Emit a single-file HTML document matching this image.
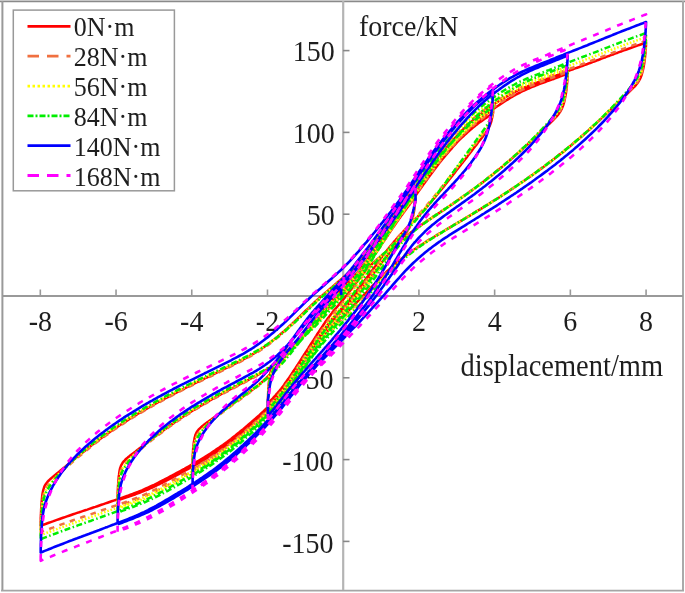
<!DOCTYPE html><html><head><meta charset="utf-8"><style>html,body{margin:0;padding:0;background:#fff;overflow:hidden}svg{display:block;will-change:transform;filter:blur(0.35px)}</style></head><body><svg width="685" height="593" viewBox="0 0 685 593">
<rect x="0" y="0" width="685" height="593" fill="#fff"/>
<line x1="0" y1="0.5" x2="685" y2="0.5" stroke="#dcdcdc" stroke-width="1"/>
<line x1="0" y1="1.6" x2="685" y2="1.6" stroke="#8a8a8a" stroke-width="1.5"/>
<line x1="2.4" y1="1" x2="2.4" y2="591" stroke="#999" stroke-width="2"/>
<line x1="683" y1="1" x2="683" y2="591" stroke="#aaa" stroke-width="2"/>
<line x1="1" y1="590.6" x2="684" y2="590.6" stroke="#a5a5a5" stroke-width="1.8"/>
<line x1="343.2" y1="1" x2="343.2" y2="590" stroke="#b4b4b4" stroke-width="2.2"/>
<line x1="2" y1="296" x2="683" y2="296" stroke="#999" stroke-width="2"/>
<line x1="40.32" y1="296" x2="40.32" y2="289.5" stroke="#999" stroke-width="1.6"/>
<line x1="116.04" y1="296" x2="116.04" y2="289.5" stroke="#999" stroke-width="1.6"/>
<line x1="191.76" y1="296" x2="191.76" y2="289.5" stroke="#999" stroke-width="1.6"/>
<line x1="267.48" y1="296" x2="267.48" y2="289.5" stroke="#999" stroke-width="1.6"/>
<line x1="418.92" y1="296" x2="418.92" y2="289.5" stroke="#999" stroke-width="1.6"/>
<line x1="494.64" y1="296" x2="494.64" y2="289.5" stroke="#999" stroke-width="1.6"/>
<line x1="570.36" y1="296" x2="570.36" y2="289.5" stroke="#999" stroke-width="1.6"/>
<line x1="646.08" y1="296" x2="646.08" y2="289.5" stroke="#999" stroke-width="1.6"/>
<line x1="343" y1="541.40" x2="349.5" y2="541.40" stroke="#888" stroke-width="1.6"/>
<line x1="343" y1="459.60" x2="349.5" y2="459.60" stroke="#888" stroke-width="1.6"/>
<line x1="343" y1="377.80" x2="349.5" y2="377.80" stroke="#888" stroke-width="1.6"/>
<line x1="343" y1="214.20" x2="349.5" y2="214.20" stroke="#888" stroke-width="1.6"/>
<line x1="343" y1="132.40" x2="349.5" y2="132.40" stroke="#888" stroke-width="1.6"/>
<line x1="343" y1="50.60" x2="349.5" y2="50.60" stroke="#888" stroke-width="1.6"/>
<g font-family="Liberation Serif" fill="#1e1e1e">
<text transform="translate(40.32,331.20) scale(1,1.075)" font-size="28" text-anchor="middle">-8</text>
<text transform="translate(116.04,331.20) scale(1,1.075)" font-size="28" text-anchor="middle">-6</text>
<text transform="translate(191.76,331.20) scale(1,1.075)" font-size="28" text-anchor="middle">-4</text>
<text transform="translate(267.48,331.20) scale(1,1.075)" font-size="28" text-anchor="middle">-2</text>
<text transform="translate(418.92,331.20) scale(1,1.075)" font-size="28" text-anchor="middle">2</text>
<text transform="translate(494.64,331.20) scale(1,1.075)" font-size="28" text-anchor="middle">4</text>
<text transform="translate(570.36,331.20) scale(1,1.075)" font-size="28" text-anchor="middle">6</text>
<text transform="translate(646.08,331.20) scale(1,1.075)" font-size="28" text-anchor="middle">8</text>
<text transform="translate(333.50,552.60) scale(1,1.075)" font-size="28" text-anchor="end">-150</text>
<text transform="translate(333.50,470.80) scale(1,1.075)" font-size="28" text-anchor="end">-100</text>
<text transform="translate(333.50,388.60) scale(1,1.075)" font-size="28" text-anchor="end">-50</text>
<text transform="translate(334.80,225.00) scale(1,1.075)" font-size="28" text-anchor="end">50</text>
<text transform="translate(334.80,143.20) scale(1,1.075)" font-size="28" text-anchor="end">100</text>
<text transform="translate(334.80,60.90) scale(1,1.075)" font-size="28" text-anchor="end">150</text>
<text transform="translate(359.00,36.30) scale(1,1.075)" font-size="28" text-anchor="start">force/kN</text>
<text transform="translate(460.60,375.70) scale(1,1.075)" font-size="28.5" text-anchor="start">displacement/mm</text>
</g>
<path d="M267.9,403.5L267.9,399.6L267.9,399.1L267.9,398.8L267.9,398.5L267.9,398.1L268.0,397.7L268.0,397.2L268.0,396.7L268.0,396.1L268.1,395.4L268.1,394.6L268.1,393.7L268.2,392.8L268.2,391.7L268.3,390.5L268.4,389.7L268.4,389.2L268.5,387.8L268.6,386.3L268.7,384.7L268.8,383.2L269.0,381.3L269.3,379.5L269.3,378.8L269.5,377.6L269.8,375.8L270.1,374.1L270.3,373.3L270.6,372.4L270.8,371.4L271.0,370.8L271.3,369.9L271.6,369.2L271.8,368.7L272.3,367.7L272.8,366.6L273.0,366.2L273.3,365.8L273.8,365.0L274.0,364.7L274.3,364.2L274.8,363.5L275.1,363.1L275.3,362.8L275.8,362.2L276.3,361.6L276.7,361.0L277.2,360.4L277.7,359.8L278.2,359.3L278.7,358.7L279.2,358.2L279.6,357.7L280.2,357.1L280.7,356.6L281.2,356.1L281.7,355.6L282.2,355.2L282.7,354.7L283.2,354.2L283.7,353.7L284.2,353.3L284.6,352.8L285.1,352.3L285.6,351.9L286.1,351.4L286.6,351.0L287.1,350.5L287.6,350.1L288.1,349.7L288.6,349.2L289.1,348.8L289.6,348.3L290.1,347.9L290.6,347.5L291.1,347.1L291.6,346.6L292.1,346.2L292.5,345.8L293.0,345.4L293.5,344.9L294.0,344.5L294.5,344.1L295.0,343.7L295.5,343.2L296.0,342.8L296.5,342.4L297.0,342.0L297.5,341.5L298.0,341.1L298.5,340.7L299.0,340.3L299.5,339.8L300.0,339.4L300.5,338.9L300.9,338.5L301.4,338.1L301.9,337.6L302.4,337.2L302.9,336.7L303.4,336.3L303.9,335.8L304.4,335.3L304.9,334.8L305.4,334.4L305.9,333.9L306.4,333.4L306.9,332.9L307.4,332.4L307.9,331.9L308.4,331.4L308.8,330.9L309.3,330.3L309.8,329.8L310.3,329.3L310.8,328.7L311.3,328.2L311.8,327.7L312.3,327.1L312.8,326.5L313.3,326.0L313.8,325.4L314.3,324.8L314.8,324.3L315.3,323.7L315.8,323.1L316.3,322.6L316.7,322.0L317.2,321.4L317.7,320.8L318.2,320.2L318.7,319.7L319.2,319.1L319.7,318.5L320.2,317.9L320.7,317.3L321.2,316.8L321.7,316.2L322.2,315.6L322.7,315.1L323.2,314.5L323.7,313.9L324.2,313.4L324.6,312.8L325.1,312.3L325.6,311.7L326.1,311.2L326.6,310.7L327.1,310.1L327.6,309.6L328.1,309.0L328.6,308.5L329.1,308.0L329.6,307.5L330.1,306.9L330.6,306.4L331.1,305.9L331.6,305.4L332.1,304.9L332.5,304.4L333.0,303.8L333.5,303.3L334.0,302.8L334.5,302.3L335.0,301.8L335.5,301.3L336.0,300.8L336.5,300.3L337.0,299.7L337.5,299.2L338.0,298.7L338.5,298.2L339.0,297.7L339.5,297.2L340.0,296.6L340.5,296.1L340.9,295.6L341.4,295.1L341.9,294.5L342.4,294.0L342.9,293.5L343.4,293.0L343.9,292.5L344.4,292.0L344.9,291.5L345.4,291.0L345.9,290.4L346.4,289.9L346.9,289.4L347.4,288.9L347.9,288.4L348.4,287.9L348.8,287.4L349.3,286.9L349.8,286.4L350.3,285.9L350.8,285.4L351.3,284.9L351.8,284.4L352.3,283.9L352.8,283.3L353.3,282.8L353.8,282.3L354.3,281.7L354.8,281.2L355.3,280.7L355.8,280.1L356.3,279.5L356.7,279.0L357.2,278.4L357.7,277.8L358.2,277.2L358.7,276.6L359.2,276.0L359.7,275.4L360.2,274.8L360.7,274.2L361.2,273.6L361.7,272.9L362.2,272.3L362.7,271.6L363.2,271.0L363.7,270.3L364.2,269.7L364.6,269.0L365.1,268.3L365.6,267.7L366.1,267.0L366.6,266.3L367.1,265.6L367.6,264.9L368.1,264.2L368.6,263.5L369.1,262.8L369.6,262.1L370.1,261.4L370.6,260.7L371.1,260.0L371.6,259.3L372.1,258.6L372.5,257.8L373.0,257.1L373.5,256.4L374.0,255.7L374.5,255.0L375.0,254.3L375.5,253.5L376.0,252.8L376.5,252.1L377.0,251.4L377.5,250.6L378.0,249.9L378.5,249.2L379.0,248.4L379.5,247.7L380.0,247.0L380.5,246.2L380.9,245.5L381.4,244.8L381.9,244.0L382.4,243.3L382.9,242.6L383.4,241.8L383.9,241.1L384.4,240.3L384.9,239.6L385.4,238.9L385.9,238.1L386.4,237.4L386.9,236.6L387.4,235.9L387.9,235.2L388.4,234.4L388.8,233.7L389.3,232.9L389.8,232.2L390.3,231.5L390.8,230.7L391.3,230.0L391.8,229.3L392.3,228.6L392.8,227.8L393.3,227.1L393.8,226.4L394.3,225.7L394.8,225.0L395.3,224.2L395.8,223.5L396.3,222.8L396.7,222.1L397.2,221.4L397.7,220.7L398.2,220.0L398.7,219.3L399.2,218.6L399.7,217.9L400.2,217.2L400.7,216.5L401.2,215.8L401.7,215.2L402.2,214.5L402.7,213.8L403.2,213.1L403.7,212.4L404.2,211.8L404.6,211.1L405.1,210.4L405.6,209.7L406.1,209.1L406.6,208.4L407.1,207.8L407.6,207.1L408.1,206.4L408.6,205.8L409.1,205.1L409.6,204.5L410.1,203.8L410.6,203.1L411.1,202.4L411.6,201.8L412.1,201.1L412.5,200.4L413.0,199.7L413.5,199.0L414.0,198.3L414.5,197.7L415.0,197.0L415.5,196.3L415.5,197.4L415.5,197.6L415.4,198.0L415.4,198.4L415.4,198.7L415.4,199.0L415.3,199.3L415.3,199.7L415.3,200.2L415.2,200.7L415.2,201.2L415.1,201.8L415.1,202.5L415.0,203.1L415.0,203.3L414.9,204.2L414.8,205.2L414.7,206.3L414.5,207.4L414.3,208.9L414.1,210.3L414.0,210.9L413.9,211.9L413.6,213.6L413.2,215.4L413.0,216.3L412.8,217.3L412.5,218.5L412.3,219.3L412.1,220.4L411.8,221.3L411.6,222.0L411.1,223.4L410.6,224.8L410.3,225.4L410.1,226.0L409.6,227.1L409.4,227.4L409.1,228.0L408.6,228.9L408.3,229.5L408.1,229.8L407.6,230.6L407.1,231.3L406.6,232.0L406.1,232.7L405.6,233.3L405.1,233.9L404.6,234.5L404.2,235.1L403.7,235.6L403.2,236.2L402.7,236.7L402.2,237.2L401.7,237.8L401.2,238.3L400.7,238.8L400.2,239.3L399.7,239.7L399.2,240.2L398.7,240.7L398.2,241.2L397.7,241.6L397.2,242.1L396.7,242.6L396.3,243.0L395.8,243.5L395.3,243.9L394.8,244.4L394.3,244.8L393.8,245.3L393.3,245.7L392.8,246.1L392.3,246.6L391.8,247.0L391.3,247.4L390.8,247.9L390.3,248.3L389.8,248.7L389.3,249.2L388.8,249.6L388.4,250.0L387.9,250.4L387.4,250.8L386.9,251.3L386.4,251.7L385.9,252.1L385.4,252.5L384.9,252.9L384.4,253.3L383.9,253.8L383.4,254.2L382.9,254.6L382.4,255.0L381.9,255.4L381.4,255.8L380.9,256.2L380.5,256.6L380.0,257.0L379.5,257.5L379.0,257.9L378.5,258.3L378.0,258.7L377.5,259.1L377.0,259.5L376.5,260.0L376.0,260.4L375.5,260.8L375.0,261.3L374.5,261.7L374.0,262.1L373.5,262.6L373.0,263.0L372.5,263.5L372.1,264.0L371.6,264.4L371.1,264.9L370.6,265.4L370.1,265.9L369.6,266.4L369.1,266.9L368.6,267.4L368.1,268.0L367.6,268.5L367.1,269.0L366.6,269.6L366.1,270.2L365.6,270.7L365.1,271.3L364.6,271.9L364.2,272.5L363.7,273.1L363.2,273.7L362.7,274.3L362.2,274.9L361.7,275.6L361.2,276.2L360.7,276.8L360.2,277.5L359.7,278.1L359.2,278.8L358.7,279.4L358.2,280.1L357.7,280.7L357.2,281.4L356.7,282.0L356.3,282.7L355.8,283.3L355.3,284.0L354.8,284.6L354.3,285.3L353.8,285.9L353.3,286.6L352.8,287.2L352.3,287.9L351.8,288.5L351.3,289.2L350.8,289.8L350.3,290.5L349.8,291.1L349.3,291.8L348.8,292.4L348.4,293.0L347.9,293.7L347.4,294.3L346.9,294.9L346.4,295.6L345.9,296.2L345.4,296.8L344.9,297.4L344.4,298.1L343.9,298.7L343.4,299.3L342.9,299.9L342.4,300.5L341.9,301.1L341.4,301.7L340.9,302.3L340.5,302.9L340.0,303.5L339.5,304.0L339.0,304.6L338.5,305.2L338.0,305.8L337.5,306.4L337.0,306.9L336.5,307.5L336.0,308.1L335.5,308.6L335.0,309.2L334.5,309.8L334.0,310.4L333.5,311.0L333.0,311.6L332.5,312.2L332.1,312.8L331.6,313.5L331.1,314.1L330.6,314.7L330.1,315.4L329.6,316.1L329.1,316.7L328.6,317.4L328.1,318.1L327.6,318.8L327.1,319.5L326.6,320.2L326.1,320.9L325.6,321.6L325.1,322.3L324.6,323.1L324.2,323.8L323.7,324.5L323.2,325.2L322.7,326.0L322.2,326.7L321.7,327.5L321.2,328.2L320.7,328.9L320.2,329.7L319.7,330.5L319.2,331.2L318.7,332.0L318.2,332.7L317.7,333.5L317.2,334.3L316.7,335.0L316.3,335.8L315.8,336.6L315.3,337.3L314.8,338.1L314.3,338.9L313.8,339.7L313.3,340.4L312.8,341.2L312.3,342.0L311.8,342.7L311.3,343.5L310.8,344.3L310.3,345.0L309.8,345.8L309.3,346.6L308.8,347.3L308.4,348.1L307.9,348.9L307.4,349.6L306.9,350.4L306.4,351.2L305.9,351.9L305.4,352.7L304.9,353.5L304.4,354.2L303.9,355.0L303.4,355.8L302.9,356.6L302.4,357.3L301.9,358.1L301.4,358.9L300.9,359.7L300.5,360.5L300.0,361.2L299.5,362.0L299.0,362.8L298.5,363.5L298.0,364.3L297.5,365.1L297.0,365.8L296.5,366.6L296.0,367.3L295.5,368.1L295.0,368.9L294.5,369.6L294.0,370.3L293.5,371.1L293.0,371.8L292.5,372.6L292.1,373.3L291.6,374.0L291.1,374.8L290.6,375.5L290.1,376.2L289.6,377.0L289.1,377.7L288.6,378.4L288.1,379.1L287.6,379.8L287.1,380.5L286.6,381.2L286.1,381.9L285.6,382.6L285.1,383.3L284.6,384.0L284.2,384.7L283.7,385.4L283.2,386.1L282.7,386.7L282.2,387.4L281.7,388.0L281.2,388.7L280.7,389.3L280.2,389.9L279.7,390.5L279.2,391.1L278.7,391.6L278.2,392.2L277.7,392.8L277.2,393.3L276.7,393.9L276.3,394.5L275.8,395.0L275.3,395.6L274.8,396.1L274.3,396.7L273.8,397.2L273.3,397.7L272.8,398.3L272.3,398.8L271.8,399.3L271.3,399.8L270.8,400.4L270.3,400.9L269.8,401.4L269.3,401.9L268.8,402.4L268.4,403.0L267.9,403.5M192.5,465.0L192.6,461.8L192.6,461.5L192.6,461.2L192.6,460.9L192.6,460.5L192.6,460.1L192.6,459.7L192.6,459.1L192.7,458.6L192.7,457.9L192.7,457.2L192.7,456.5L192.8,455.6L192.8,454.6L192.9,453.6L193.0,452.4L193.0,451.2L193.1,449.9L193.2,448.4L193.4,446.9L193.5,445.3L193.7,443.7L193.9,442.0L194.2,440.4L194.5,438.7L194.5,438.4L194.8,437.2L195.2,435.7L195.5,434.7L195.7,434.3L196.3,433.1L196.5,432.5L196.9,431.9L197.5,431.0L198.5,429.7L199.6,428.6L200.6,427.7L201.0,427.3L201.6,426.8L202.5,426.0L203.6,425.1L204.3,424.6L204.6,424.4L205.6,423.6L206.4,423.0L207.6,422.1L208.6,421.4L208.9,421.2L209.6,420.6L210.6,419.9L211.6,419.2L212.6,418.4L213.6,417.7L214.6,417.0L215.2,416.6L215.6,416.3L216.6,415.5L217.7,414.8L218.7,414.1L219.7,413.4L220.7,412.6L221.7,411.9L222.7,411.2L223.7,410.5L224.7,409.8L225.7,409.0L226.7,408.3L227.7,407.6L228.7,406.9L229.7,406.2L230.7,405.4L231.7,404.7L232.7,404.0L233.7,403.3L234.7,402.6L235.7,401.8L236.8,401.1L237.8,400.4L238.8,399.7L239.8,399.0L240.8,398.2L241.8,397.5L242.8,396.8L243.8,396.1L244.8,395.3L245.8,394.6L246.8,393.9L247.8,393.1L248.8,392.4L249.8,391.7L250.8,390.9L251.8,390.2L252.8,389.4L253.8,388.6L254.9,387.9L255.9,387.1L256.9,386.3L257.9,385.5L258.9,384.7L259.9,383.9L260.9,383.0L261.9,382.1L262.9,381.2L263.9,380.2L264.9,379.3L265.9,378.3L266.9,377.4L267.9,376.4L268.9,375.4L269.9,374.3L270.9,373.3L271.9,372.2L272.9,371.1L274.0,370.0L275.0,368.9L276.0,367.8L277.0,366.6L278.0,365.4L279.0,364.2L280.0,363.0L281.0,361.8L282.0,360.6L283.0,359.3L284.0,358.1L285.0,356.8L286.0,355.5L287.0,354.2L288.0,352.9L289.0,351.6L290.0,350.3L291.0,349.0L292.0,347.6L293.1,346.3L294.1,344.9L295.1,343.6L296.1,342.2L297.1,340.9L298.1,339.5L299.1,338.1L300.1,336.8L301.1,335.4L302.1,334.1L303.1,332.7L304.1,331.4L305.1,330.0L306.1,328.7L307.1,327.4L308.1,326.1L309.1,324.8L310.1,323.5L311.2,322.2L312.2,320.9L313.2,319.7L314.2,318.4L315.2,317.2L316.2,316.0L317.2,314.8L318.2,313.7L319.2,312.5L320.2,311.4L321.2,310.3L322.2,309.2L323.2,308.1L324.2,307.0L325.2,306.0L326.2,304.9L327.2,303.9L328.2,302.9L329.2,301.8L330.3,300.8L331.3,299.8L332.3,298.8L333.3,297.7L334.3,296.7L335.3,295.7L336.3,294.6L337.3,293.6L338.3,292.5L339.3,291.5L340.3,290.5L341.3,289.5L342.3,288.5L343.3,287.5L344.3,286.5L345.3,285.5L346.3,284.5L347.3,283.5L348.4,282.4L349.4,281.4L350.4,280.4L351.4,279.4L352.4,278.3L353.4,277.2L354.4,276.1L355.4,274.9L356.4,273.7L357.4,272.5L358.4,271.3L359.4,270.0L360.4,268.8L361.4,267.5L362.4,266.1L363.4,264.8L364.4,263.5L365.4,262.1L366.4,260.7L367.5,259.3L368.5,257.9L369.5,256.5L370.5,255.1L371.5,253.7L372.5,252.3L373.5,250.8L374.5,249.4L375.5,247.9L376.5,246.5L377.5,245.0L378.5,243.6L379.5,242.1L380.5,240.6L381.5,239.1L382.5,237.6L383.5,236.2L384.5,234.7L385.6,233.2L386.6,231.7L387.6,230.3L388.6,228.8L389.6,227.3L390.6,225.9L391.6,224.4L392.6,223.0L393.6,221.6L394.6,220.1L395.6,218.7L396.6,217.3L397.6,215.9L398.6,214.5L399.6,213.1L400.6,211.7L401.6,210.3L402.6,208.9L403.6,207.6L404.7,206.2L405.7,204.8L406.7,203.5L407.7,202.1L408.7,200.8L409.7,199.4L410.7,198.1L411.7,196.7L412.7,195.4L413.7,194.0L414.7,192.6L415.7,191.3L416.7,189.9L417.7,188.5L418.7,187.2L419.7,185.9L420.7,184.5L421.7,183.2L422.7,181.9L423.8,180.6L424.8,179.3L425.8,178.0L426.8,176.7L427.8,175.4L428.8,174.1L429.8,172.8L430.8,171.6L431.8,170.3L432.8,169.0L433.8,167.8L434.8,166.5L435.8,165.3L436.8,164.1L437.8,162.9L438.8,161.7L439.8,160.5L440.8,159.4L441.9,158.3L442.9,157.2L443.9,156.1L444.9,155.0L445.9,153.9L446.9,152.8L447.9,151.8L448.9,150.7L449.9,149.6L450.9,148.6L451.9,147.5L452.9,146.5L453.9,145.4L454.9,144.4L455.9,143.4L456.9,142.4L457.9,141.4L458.9,140.4L459.9,139.4L461.0,138.4L462.0,137.4L463.0,136.5L464.0,135.5L465.0,134.6L466.0,133.7L467.0,132.8L468.0,131.9L469.0,131.0L470.0,130.1L471.0,129.2L472.0,128.4L473.0,127.5L474.0,126.7L475.0,125.9L476.0,125.1L477.0,124.4L478.0,123.6L479.1,122.8L480.1,122.1L481.1,121.4L482.1,120.7L483.1,120.0L484.1,119.3L485.1,118.6L486.1,117.9L487.1,117.2L488.1,116.5L489.1,115.9L490.1,115.2L491.1,114.6L492.1,113.9L493.1,113.3L493.1,110.7L493.1,111.0L493.0,111.3L493.0,111.7L493.0,112.1L492.9,112.4L492.9,112.7L492.9,113.1L492.8,113.5L492.7,113.9L492.7,114.4L492.6,115.0L492.5,115.6L492.4,116.3L492.3,117.0L492.1,117.8L491.9,118.7L491.7,119.6L491.5,120.7L491.2,121.7L490.8,122.8L490.4,124.0L490.1,124.8L490.0,125.2L489.4,126.4L489.1,127.0L488.7,127.7L488.1,128.8L487.9,129.1L487.1,130.4L486.1,131.9L485.1,133.3L484.6,133.9L484.1,134.7L483.1,136.0L482.1,137.4L481.3,138.3L481.1,138.7L480.1,140.0L479.2,141.0L478.0,142.6L477.0,143.9L476.8,144.3L476.0,145.2L475.0,146.5L474.0,147.8L473.0,149.1L472.0,150.4L471.0,151.7L470.4,152.5L470.0,153.0L469.0,154.3L468.0,155.6L467.0,156.9L466.0,158.2L465.0,159.5L464.0,160.8L463.0,162.1L462.0,163.3L461.0,164.6L459.9,165.9L458.9,167.2L457.9,168.5L456.9,169.8L455.9,171.1L454.9,172.4L453.9,173.7L452.9,174.9L451.9,176.2L450.9,177.5L449.9,178.8L448.9,180.0L447.9,181.3L446.9,182.6L445.9,183.8L444.9,185.1L443.9,186.4L442.9,187.6L441.9,188.9L440.8,190.1L439.8,191.3L438.8,192.6L437.8,193.8L436.8,195.0L435.8,196.2L434.8,197.4L433.8,198.6L432.8,199.8L431.8,201.0L430.8,202.2L429.8,203.4L428.8,204.5L427.8,205.7L426.8,206.8L425.8,207.9L424.8,209.1L423.8,210.2L422.7,211.3L421.7,212.4L420.7,213.5L419.7,214.5L418.7,215.6L417.7,216.7L416.7,217.7L415.7,218.8L414.7,219.8L413.7,220.9L412.7,221.9L411.7,222.9L410.7,224.0L409.7,225.0L408.7,226.0L407.7,227.1L406.7,228.1L405.7,229.1L404.7,230.2L403.6,231.2L402.6,232.3L401.6,233.3L400.6,234.4L399.6,235.5L398.6,236.6L397.6,237.7L396.6,238.8L395.6,240.0L394.6,241.1L393.6,242.3L392.6,243.5L391.6,244.7L390.6,245.9L389.6,247.1L388.6,248.4L387.6,249.6L386.6,250.9L385.6,252.2L384.5,253.5L383.5,254.9L382.5,256.2L381.5,257.5L380.5,258.9L379.5,260.3L378.5,261.7L377.5,263.1L376.5,264.5L375.5,265.9L374.5,267.2L373.5,268.6L372.5,270.0L371.5,271.4L370.5,272.8L369.5,274.2L368.5,275.5L367.5,276.9L366.4,278.2L365.4,279.5L364.4,280.8L363.4,282.2L362.4,283.5L361.4,284.8L360.4,286.1L359.4,287.3L358.4,288.6L357.4,289.9L356.4,291.1L355.4,292.4L354.4,293.6L353.4,294.8L352.4,296.0L351.4,297.3L350.4,298.5L349.4,299.7L348.4,300.8L347.3,302.0L346.3,303.2L345.3,304.3L344.3,305.5L343.3,306.6L342.3,307.7L341.3,308.8L340.3,309.9L339.3,311.0L338.3,312.1L337.3,313.2L336.3,314.3L335.3,315.4L334.3,316.5L333.3,317.7L332.3,318.8L331.3,320.1L330.3,321.3L329.2,322.6L328.2,323.9L327.2,325.2L326.2,326.6L325.2,327.9L324.2,329.3L323.2,330.7L322.2,332.2L321.2,333.6L320.2,335.1L319.2,336.5L318.2,338.0L317.2,339.5L316.2,341.0L315.2,342.5L314.2,344.0L313.2,345.5L312.2,347.0L311.2,348.6L310.1,350.1L309.1,351.6L308.1,353.1L307.1,354.7L306.1,356.2L305.1,357.8L304.1,359.4L303.1,361.0L302.1,362.5L301.1,364.1L300.1,365.7L299.1,367.2L298.1,368.8L297.1,370.4L296.1,371.9L295.1,373.5L294.1,375.0L293.1,376.5L292.0,378.1L291.0,379.6L290.0,381.1L289.0,382.7L288.0,384.2L287.0,385.7L286.0,387.1L285.0,388.6L284.0,390.0L283.0,391.3L282.0,392.6L281.0,393.9L280.0,395.1L279.0,396.2L278.0,397.3L277.0,398.4L276.0,399.5L275.0,400.5L274.0,401.6L272.9,402.6L271.9,403.7L270.9,404.7L269.9,405.8L268.9,406.8L267.9,407.8L266.9,408.8L265.9,409.8L264.9,410.8L263.9,411.8L262.9,412.8L261.9,413.7L260.9,414.7L259.9,415.6L258.9,416.5L257.9,417.5L256.9,418.4L255.9,419.3L254.9,420.1L253.8,421.0L252.8,421.9L251.8,422.8L250.8,423.7L249.8,424.5L248.8,425.4L247.8,426.3L246.8,427.1L245.8,428.0L244.8,428.8L243.8,429.7L242.8,430.5L241.8,431.3L240.8,432.2L239.8,433.0L238.8,433.8L237.8,434.6L236.8,435.4L235.7,436.2L234.7,437.0L233.7,437.8L232.7,438.6L231.7,439.3L230.7,440.1L229.7,440.9L228.7,441.6L227.7,442.4L226.7,443.1L225.7,443.9L224.7,444.6L223.7,445.3L222.7,446.0L221.7,446.7L220.7,447.4L219.7,448.1L218.7,448.8L217.7,449.5L216.6,450.2L215.6,450.9L214.6,451.5L213.6,452.2L212.6,452.8L211.6,453.5L210.6,454.1L209.6,454.8L208.6,455.4L207.6,456.0L206.6,456.7L205.6,457.3L204.6,457.9L203.6,458.5L202.6,459.1L201.6,459.7L200.6,460.3L199.6,460.9L198.5,461.5L197.5,462.1L196.5,462.7L195.5,463.3L194.5,463.8L193.5,464.4L192.5,465.0M117.6,500.4L117.6,497.2L117.6,496.9L117.6,496.5L117.6,496.2L117.6,495.7L117.6,495.3L117.7,494.7L117.7,494.1L117.7,493.5L117.7,492.8L117.7,492.0L117.8,491.1L117.8,490.1L117.9,489.1L117.9,487.9L118.0,486.6L118.1,485.2L118.2,483.7L118.3,482.1L118.4,480.4L118.6,478.6L118.7,476.7L119.0,474.9L119.1,474.1L119.2,473.1L119.5,471.3L119.8,469.5L120.2,467.9L120.6,466.9L120.7,466.4L121.3,465.1L122.0,463.8L122.7,462.6L123.6,461.5L124.8,460.3L125.1,459.9L126.0,459.0L126.6,458.5L127.6,457.7L128.1,457.2L129.3,456.2L129.6,456.0L131.1,454.8L131.4,454.6L132.6,453.7L133.9,452.7L135.6,451.4L136.8,450.4L137.1,450.2L138.6,449.1L140.1,447.9L141.6,446.8L143.1,445.6L144.7,444.5L146.2,443.3L147.7,442.2L149.2,441.0L150.7,439.9L152.2,438.7L153.7,437.6L155.2,436.5L156.7,435.3L158.2,434.2L159.7,433.1L161.2,432.0L162.7,430.9L164.2,429.8L165.7,428.7L167.2,427.6L168.7,426.5L170.2,425.5L171.8,424.4L173.3,423.4L174.8,422.3L176.3,421.3L177.8,420.3L179.3,419.3L180.8,418.3L182.3,417.3L183.8,416.3L185.3,415.3L186.8,414.3L188.3,413.4L189.8,412.4L191.3,411.5L192.8,410.5L194.3,409.6L195.8,408.7L197.3,407.8L198.9,406.9L200.4,406.0L201.9,405.1L203.4,404.2L204.9,403.3L206.4,402.4L207.9,401.6L209.4,400.7L210.9,399.9L212.4,399.0L213.9,398.2L215.4,397.3L216.9,396.5L218.4,395.7L219.9,394.9L221.4,394.0L222.9,393.2L224.4,392.4L226.0,391.6L227.5,390.8L229.0,390.0L230.5,389.2L232.0,388.4L233.5,387.7L235.0,386.9L236.5,386.1L238.0,385.3L239.5,384.5L241.0,383.7L242.5,382.9L244.0,382.2L245.5,381.4L247.0,380.6L248.5,379.8L250.0,379.0L251.5,378.2L253.1,377.4L254.6,376.6L256.1,375.7L257.6,374.9L259.1,374.1L260.6,373.2L262.1,372.3L263.6,371.4L265.1,370.5L266.6,369.5L268.1,368.5L269.6,367.5L271.1,366.4L272.6,365.3L274.1,364.2L275.6,363.0L277.1,361.8L278.6,360.5L280.2,359.2L281.7,357.9L283.2,356.5L284.7,355.1L286.2,353.7L287.7,352.2L289.2,350.7L290.7,349.1L292.2,347.5L293.7,345.9L295.2,344.2L296.7,342.5L298.2,340.8L299.7,339.1L301.2,337.3L302.7,335.5L304.2,333.7L305.7,331.9L307.3,330.1L308.8,328.3L310.3,326.4L311.8,324.6L313.3,322.8L314.8,321.0L316.3,319.3L317.8,317.5L319.3,315.8L320.8,314.1L322.3,312.4L323.8,310.8L325.3,309.2L326.8,307.6L328.3,306.1L329.8,304.6L331.3,303.1L332.8,301.6L334.4,300.1L335.9,298.6L337.4,297.1L338.9,295.6L340.4,294.1L341.9,292.6L343.4,291.1L344.9,289.6L346.4,288.1L347.9,286.6L349.4,285.1L350.9,283.7L352.4,282.1L353.9,280.6L355.4,279.0L356.9,277.3L358.4,275.6L359.9,273.8L361.5,271.9L363.0,270.0L364.5,268.0L366.0,266.0L367.5,264.0L369.0,261.9L370.5,259.8L372.0,257.6L373.5,255.5L375.0,253.3L376.5,251.1L378.0,249.0L379.5,246.8L381.0,244.5L382.5,242.3L384.0,240.1L385.5,237.8L387.0,235.6L388.6,233.4L390.1,231.1L391.6,228.9L393.1,226.7L394.6,224.5L396.1,222.4L397.6,220.2L399.1,218.1L400.6,216.0L402.1,213.9L403.6,211.8L405.1,209.8L406.6,207.7L408.1,205.7L409.6,203.7L411.1,201.7L412.6,199.6L414.1,197.5L415.7,195.4L417.2,193.3L418.7,191.1L420.2,189.0L421.7,186.9L423.2,184.8L424.7,182.7L426.2,180.7L427.7,178.6L429.2,176.6L430.7,174.6L432.2,172.5L433.7,170.5L435.2,168.5L436.7,166.5L438.2,164.5L439.7,162.6L441.2,160.7L442.8,158.8L444.3,156.9L445.8,155.2L447.3,153.4L448.8,151.7L450.3,150.0L451.8,148.3L453.3,146.5L454.8,144.9L456.3,143.2L457.8,141.5L459.3,139.9L460.8,138.2L462.3,136.6L463.8,135.0L465.3,133.5L466.8,131.9L468.3,130.4L469.8,128.9L471.4,127.4L472.9,126.0L474.4,124.5L475.9,123.1L477.4,121.8L478.9,120.5L480.4,119.2L481.9,117.9L483.4,116.7L484.9,115.5L486.4,114.3L487.9,113.1L489.4,112.0L490.9,110.9L492.4,109.7L493.9,108.7L495.4,107.6L496.9,106.5L498.5,105.5L500.0,104.4L501.5,103.4L503.0,102.4L504.5,101.5L506.0,100.5L507.5,99.6L509.0,98.6L510.5,97.7L512.0,96.9L513.5,96.0L515.0,95.2L516.5,94.3L518.0,93.5L519.5,92.8L521.0,92.0L522.5,91.2L524.0,90.5L525.6,89.8L527.1,89.1L528.6,88.5L530.1,87.8L531.6,87.2L533.1,86.6L534.6,86.0L536.1,85.4L537.6,84.8L539.1,84.2L540.6,83.6L542.1,83.1L543.6,82.5L545.1,82.0L546.6,81.4L548.1,80.9L549.6,80.3L551.1,79.8L552.7,79.2L554.2,78.7L555.7,78.1L557.2,77.5L558.7,77.0L560.2,76.4L561.7,75.8L563.2,75.3L564.7,74.7L566.2,74.1L567.7,73.5L567.7,74.9L567.7,75.2L567.6,75.6L567.6,75.9L567.6,76.2L567.6,76.5L567.6,76.9L567.5,77.3L567.5,77.7L567.5,78.3L567.4,78.9L567.4,79.5L567.3,80.3L567.3,81.1L567.2,82.0L567.1,83.1L567.0,84.2L566.9,85.5L566.7,87.0L566.5,88.5L566.3,90.2L566.2,91.0L566.1,92.1L565.8,94.0L565.4,96.1L565.0,98.2L564.7,99.7L564.5,100.4L564.0,102.7L563.3,104.9L563.2,105.2L562.5,107.0L561.7,108.9L560.5,111.2L560.2,111.7L559.2,113.1L558.7,113.9L557.7,115.1L557.2,115.8L555.9,117.2L555.7,117.4L554.2,119.0L553.8,119.4L552.7,120.5L551.3,121.8L549.6,123.5L548.4,124.6L548.1,124.9L546.6,126.4L545.1,127.8L543.6,129.2L542.1,130.7L540.6,132.1L539.1,133.5L537.6,135.0L536.1,136.4L534.6,137.8L533.1,139.2L531.6,140.7L530.1,142.1L528.6,143.5L527.1,144.9L525.6,146.3L524.0,147.6L522.5,149.0L521.0,150.4L519.5,151.7L518.0,153.1L516.5,154.4L515.0,155.8L513.5,157.1L512.0,158.4L510.5,159.7L509.0,161.0L507.5,162.3L506.0,163.6L504.5,164.8L503.0,166.1L501.5,167.4L500.0,168.6L498.5,169.8L496.9,171.1L495.4,172.3L493.9,173.5L492.4,174.7L490.9,175.9L489.4,177.1L487.9,178.2L486.4,179.4L484.9,180.6L483.4,181.7L481.9,182.9L480.4,184.0L478.9,185.2L477.4,186.3L475.9,187.4L474.4,188.5L472.9,189.6L471.4,190.7L469.8,191.8L468.3,192.9L466.8,194.0L465.3,195.1L463.8,196.1L462.3,197.2L460.8,198.2L459.3,199.3L457.8,200.3L456.3,201.4L454.8,202.4L453.3,203.5L451.8,204.5L450.3,205.5L448.8,206.5L447.3,207.5L445.8,208.6L444.3,209.6L442.8,210.6L441.2,211.6L439.7,212.6L438.2,213.6L436.7,214.6L435.2,215.6L433.7,216.6L432.2,217.6L430.7,218.6L429.2,219.6L427.7,220.6L426.2,221.6L424.7,222.6L423.2,223.6L421.7,224.7L420.2,225.7L418.7,226.8L417.2,227.8L415.7,228.9L414.1,230.1L412.6,231.2L411.1,232.3L409.6,233.5L408.1,234.7L406.6,236.0L405.1,237.3L403.6,238.6L402.1,239.9L400.6,241.3L399.1,242.8L397.6,244.2L396.1,245.8L394.6,247.3L393.1,248.9L391.6,250.6L390.1,252.3L388.6,254.1L387.0,255.9L385.5,257.7L384.0,259.6L382.5,261.5L381.0,263.5L379.5,265.5L378.0,267.4L376.5,269.4L375.0,271.4L373.5,273.4L372.0,275.4L370.5,277.3L369.0,279.3L367.5,281.2L366.0,283.1L364.5,285.0L363.0,286.9L361.5,288.7L359.9,290.6L358.4,292.4L356.9,294.2L355.4,296.0L353.9,297.8L352.4,299.6L350.9,301.4L349.4,303.1L347.9,304.8L346.4,306.5L344.9,308.1L343.4,309.8L341.9,311.4L340.4,313.0L338.9,314.6L337.4,316.2L335.9,317.8L334.4,319.5L332.8,321.2L331.3,323.0L329.8,324.8L328.3,326.8L326.8,328.7L325.3,330.7L323.8,332.8L322.3,334.9L320.8,337.0L319.3,339.2L317.8,341.4L316.3,343.6L314.8,345.9L313.3,348.1L311.8,350.4L310.3,352.6L308.8,354.9L307.3,357.3L305.7,359.6L304.2,362.0L302.7,364.4L301.2,366.7L299.7,369.1L298.2,371.5L296.7,373.8L295.2,376.2L293.7,378.5L292.2,380.9L290.7,383.2L289.2,385.6L287.7,387.8L286.2,390.1L284.7,392.2L283.2,394.2L281.7,396.1L280.2,397.9L278.6,399.5L277.1,401.1L275.6,402.7L274.1,404.2L272.6,405.8L271.1,407.3L269.6,408.8L268.1,410.3L266.6,411.8L265.1,413.3L263.6,414.7L262.1,416.1L260.6,417.5L259.1,418.8L257.6,420.1L256.1,421.5L254.6,422.8L253.1,424.1L251.5,425.4L250.0,426.7L248.5,428.0L247.0,429.2L245.5,430.5L244.0,431.7L242.5,433.0L241.0,434.2L239.5,435.4L238.0,436.6L236.5,437.8L235.0,438.9L233.5,440.1L232.0,441.2L230.5,442.3L229.0,443.5L227.5,444.6L226.0,445.6L224.4,446.7L222.9,447.7L221.4,448.8L219.9,449.8L218.4,450.8L216.9,451.8L215.4,452.8L213.9,453.8L212.4,454.7L210.9,455.7L209.4,456.6L207.9,457.5L206.4,458.5L204.9,459.4L203.4,460.3L201.9,461.2L200.4,462.0L198.9,462.9L197.3,463.8L195.8,464.6L194.3,465.5L192.8,466.3L191.3,467.2L189.8,468.0L188.3,468.9L186.8,469.7L185.3,470.5L183.8,471.3L182.3,472.2L180.8,473.0L179.3,473.8L177.8,474.6L176.3,475.4L174.8,476.2L173.3,477.0L171.8,477.8L170.2,478.6L168.7,479.4L167.2,480.2L165.7,481.0L164.2,481.7L162.7,482.5L161.2,483.2L159.7,484.0L158.2,484.7L156.7,485.4L155.2,486.1L153.7,486.8L152.2,487.5L150.7,488.2L149.2,488.8L147.7,489.5L146.2,490.1L144.7,490.7L143.1,491.3L141.6,491.9L140.1,492.5L138.6,493.1L137.1,493.6L135.6,494.2L134.1,494.7L132.6,495.3L131.1,495.8L129.6,496.3L128.1,496.9L126.6,497.4L125.1,497.9L123.6,498.4L122.1,498.9L120.6,499.4L119.1,499.9L117.6,500.4M40.7,524.9L40.7,521.4L40.7,521.0L40.8,520.6L40.8,520.2L40.8,519.8L40.8,519.2L40.8,518.7L40.8,518.0L40.8,517.3L40.9,516.6L40.9,515.7L40.9,514.7L41.0,513.7L41.0,512.5L41.1,511.2L41.1,509.8L41.2,508.3L41.3,506.7L41.4,504.9L41.6,503.0L41.7,501.1L41.9,499.1L42.1,497.1L42.3,495.1L42.6,493.2L42.7,492.7L43.0,491.3L43.4,489.6L43.9,488.0L44.4,486.5L44.7,485.9L45.1,485.2L45.9,483.9L46.8,482.7L47.9,481.4L48.8,480.5L49.2,480.1L50.7,478.7L52.5,477.2L52.8,476.9L54.6,475.4L54.9,475.2L56.9,473.5L58.9,471.9L60.0,471.0L60.9,470.2L63.0,468.6L63.4,468.2L65.0,466.9L67.0,465.2L69.0,463.6L71.1,461.9L73.1,460.2L75.1,458.6L77.1,456.9L79.2,455.3L81.2,453.6L83.2,452.0L85.2,450.4L87.3,448.8L89.3,447.2L91.3,445.6L93.3,444.1L95.4,442.5L97.4,441.0L99.4,439.5L101.4,438.0L103.5,436.5L105.5,435.1L107.5,433.6L109.5,432.2L111.6,430.8L113.6,429.4L115.6,428.0L117.6,426.7L119.7,425.3L121.7,424.0L123.7,422.7L125.7,421.4L127.8,420.1L129.8,418.8L131.8,417.5L133.8,416.3L135.9,415.1L137.9,413.8L139.9,412.6L141.9,411.4L144.0,410.2L146.0,409.1L148.0,407.9L150.0,406.7L152.1,405.6L154.1,404.5L156.1,403.3L158.1,402.2L160.2,401.1L162.2,400.0L164.2,398.9L166.2,397.9L168.3,396.8L170.3,395.7L172.3,394.7L174.3,393.6L176.4,392.6L178.4,391.5L180.4,390.5L182.4,389.5L184.5,388.5L186.5,387.4L188.5,386.4L190.5,385.4L192.6,384.4L194.6,383.4L196.6,382.4L198.6,381.5L200.6,380.5L202.7,379.5L204.7,378.5L206.7,377.5L208.7,376.6L210.8,375.6L212.8,374.6L214.8,373.6L216.8,372.7L218.9,371.7L220.9,370.7L222.9,369.7L224.9,368.7L227.0,367.7L229.0,366.7L231.0,365.7L233.0,364.7L235.1,363.7L237.1,362.6L239.1,361.6L241.1,360.5L243.2,359.5L245.2,358.4L247.2,357.3L249.2,356.2L251.3,355.0L253.3,353.8L255.3,352.7L257.3,351.4L259.4,350.2L261.4,348.8L263.4,347.4L265.4,346.0L267.5,344.5L269.5,343.0L271.5,341.5L273.5,339.9L275.6,338.3L277.6,336.6L279.6,334.9L281.6,333.2L283.7,331.5L285.7,329.7L287.7,327.9L289.7,326.0L291.8,324.1L293.8,322.2L295.8,320.3L297.8,318.4L299.9,316.4L301.9,314.5L303.9,312.5L305.9,310.5L308.0,308.6L310.0,306.6L312.0,304.7L314.0,302.8L316.1,300.9L318.1,299.1L320.1,297.3L322.1,295.6L324.2,293.8L326.2,292.1L328.2,290.4L330.2,288.7L332.3,287.0L334.3,285.2L336.3,283.5L338.3,281.7L340.4,280.0L342.4,278.3L344.4,276.5L346.4,274.8L348.5,273.0L350.5,271.1L352.5,269.2L354.5,267.2L356.5,265.1L358.6,262.9L360.6,260.6L362.6,258.2L364.6,255.8L366.7,253.2L368.7,250.7L370.7,248.1L372.7,245.4L374.8,242.7L376.8,239.9L378.8,237.1L380.8,234.3L382.9,231.5L384.9,228.6L386.9,225.8L388.9,222.9L391.0,220.1L393.0,217.2L395.0,214.4L397.0,211.6L399.1,208.8L401.1,206.0L403.1,203.2L405.1,200.4L407.2,197.6L409.2,194.9L411.2,192.1L413.2,189.3L415.3,186.6L417.3,183.8L419.3,181.1L421.3,178.4L423.4,175.7L425.4,173.0L427.4,170.3L429.4,167.7L431.5,165.0L433.5,162.4L435.5,159.9L437.5,157.4L439.6,155.0L441.6,152.7L443.6,150.4L445.6,148.1L447.7,145.8L449.7,143.6L451.7,141.3L453.7,139.2L455.8,137.0L457.8,134.9L459.8,132.8L461.8,130.7L463.9,128.7L465.9,126.7L467.9,124.8L469.9,122.9L472.0,121.1L474.0,119.3L476.0,117.7L478.0,116.0L480.1,114.4L482.1,112.9L484.1,111.3L486.1,109.8L488.2,108.4L490.2,106.9L492.2,105.5L494.2,104.1L496.3,102.8L498.3,101.5L500.3,100.2L502.3,98.9L504.4,97.7L506.4,96.6L508.4,95.4L510.4,94.3L512.5,93.2L514.5,92.2L516.5,91.2L518.5,90.2L520.5,89.3L522.6,88.4L524.6,87.5L526.6,86.7L528.6,85.8L530.7,85.0L532.7,84.3L534.7,83.5L536.7,82.7L538.8,82.0L540.8,81.3L542.8,80.5L544.8,79.8L546.9,79.0L548.9,78.3L550.9,77.5L552.9,76.8L555.0,76.0L557.0,75.2L559.0,74.5L561.0,73.7L563.1,73.0L565.1,72.2L567.1,71.4L569.1,70.7L571.2,69.9L573.2,69.2L575.2,68.4L577.2,67.7L579.3,67.0L581.3,66.2L583.3,65.5L585.3,64.7L587.4,64.0L589.4,63.2L591.4,62.5L593.4,61.7L595.5,61.0L597.5,60.2L599.5,59.5L601.5,58.7L603.6,57.9L605.6,57.2L607.6,56.4L609.6,55.7L611.7,54.9L613.7,54.2L615.7,53.4L617.7,52.7L619.8,51.9L621.8,51.2L623.8,50.4L625.8,49.7L627.9,49.0L629.9,48.3L631.9,47.5L633.9,46.8L636.0,46.1L638.0,45.4L640.0,44.7L642.0,44.0L644.1,43.3L646.1,42.6L646.0,44.1L646.0,44.4L646.0,44.9L646.0,45.1L646.0,45.4L646.0,45.7L645.9,46.1L645.9,46.5L645.9,47.0L645.8,47.6L645.8,48.2L645.8,48.8L645.7,49.6L645.6,50.5L645.6,51.4L645.5,52.5L645.4,53.7L645.2,55.0L645.1,56.5L644.9,58.1L644.7,59.8L644.4,61.7L644.1,63.7L644.1,64.2L643.8,65.8L643.4,68.0L642.9,70.2L642.3,72.5L642.0,73.6L641.7,74.7L640.9,76.9L640.0,78.9L638.9,80.9L638.0,82.3L637.6,82.9L636.1,84.8L634.3,86.8L633.9,87.2L632.2,88.9L631.9,89.2L629.9,91.2L627.9,93.1L626.8,94.2L625.8,95.1L623.8,97.0L623.4,97.5L621.8,99.0L619.8,100.9L617.7,102.9L615.7,104.8L613.7,106.8L611.7,108.8L609.6,110.7L607.6,112.7L605.6,114.6L603.6,116.5L601.5,118.4L599.5,120.3L597.5,122.2L595.5,124.1L593.4,125.9L591.4,127.8L589.4,129.6L587.4,131.4L585.3,133.2L583.3,135.0L581.3,136.7L579.3,138.5L577.2,140.2L575.2,141.9L573.2,143.6L571.2,145.3L569.1,147.0L567.1,148.6L565.1,150.3L563.1,151.9L561.0,153.5L559.0,155.1L557.0,156.7L555.0,158.3L552.9,159.8L550.9,161.4L548.9,162.9L546.9,164.4L544.8,165.9L542.8,167.4L540.8,168.9L538.8,170.4L536.7,171.9L534.7,173.3L532.7,174.8L530.7,176.2L528.6,177.6L526.6,179.0L524.6,180.4L522.6,181.8L520.5,183.2L518.5,184.6L516.5,186.0L514.5,187.3L512.5,188.7L510.4,190.0L508.4,191.4L506.4,192.7L504.4,194.0L502.3,195.3L500.3,196.7L498.3,198.0L496.3,199.3L494.2,200.5L492.2,201.8L490.2,203.1L488.2,204.4L486.1,205.6L484.1,206.9L482.1,208.1L480.1,209.4L478.0,210.6L476.0,211.9L474.0,213.1L472.0,214.3L469.9,215.6L467.9,216.8L465.9,218.0L463.9,219.2L461.8,220.4L459.8,221.6L457.8,222.8L455.8,224.0L453.7,225.2L451.7,226.4L449.7,227.6L447.7,228.8L445.6,230.0L443.6,231.2L441.6,232.4L439.6,233.6L437.5,234.8L435.5,236.0L433.5,237.2L431.5,238.5L429.4,239.7L427.4,240.9L425.4,242.2L423.4,243.5L421.3,244.8L419.3,246.1L417.3,247.4L415.3,248.8L413.2,250.2L411.2,251.6L409.2,253.1L407.2,254.6L405.1,256.1L403.1,257.6L401.1,259.2L399.1,260.9L397.0,262.5L395.0,264.2L393.0,266.0L391.0,267.8L388.9,269.6L386.9,271.5L384.9,273.4L382.9,275.4L380.8,277.4L378.8,279.4L376.8,281.5L374.8,283.6L372.7,285.7L370.7,287.9L368.7,290.0L366.7,292.1L364.6,294.2L362.6,296.3L360.6,298.4L358.6,300.4L356.5,302.5L354.5,304.5L352.5,306.5L350.5,308.5L348.5,310.5L346.4,312.5L344.4,314.5L342.4,316.4L340.4,318.3L338.3,320.2L336.3,322.1L334.3,324.0L332.3,326.0L330.2,328.1L328.2,330.4L326.2,332.7L324.2,335.1L322.1,337.5L320.1,340.1L318.1,342.7L316.1,345.3L314.0,348.0L312.0,350.7L310.0,353.4L308.0,356.2L305.9,358.9L303.9,361.8L301.9,364.6L299.9,367.5L297.8,370.3L295.8,373.2L293.8,376.0L291.8,378.8L289.7,381.6L287.7,384.4L285.7,387.1L283.7,389.8L281.6,392.3L279.6,394.7L277.6,396.9L275.6,399.1L273.5,401.2L271.5,403.2L269.5,405.3L267.5,407.3L265.4,409.3L263.4,411.3L261.4,413.2L259.4,415.1L257.3,417.0L255.3,418.8L253.3,420.5L251.3,422.3L249.2,424.0L247.2,425.8L245.2,427.5L243.2,429.2L241.1,430.8L239.1,432.5L237.1,434.1L235.1,435.7L233.0,437.3L231.0,438.9L229.0,440.4L227.0,441.9L224.9,443.4L222.9,444.9L220.9,446.3L218.9,447.7L216.8,449.1L214.8,450.5L212.8,451.8L210.8,453.2L208.7,454.5L206.7,455.7L204.7,457.0L202.7,458.2L200.6,459.5L198.6,460.7L196.6,461.9L194.6,463.1L192.6,464.2L190.5,465.4L188.5,466.5L186.5,467.6L184.5,468.8L182.4,469.9L180.4,471.0L178.4,472.1L176.4,473.2L174.3,474.3L172.3,475.4L170.3,476.4L168.3,477.5L166.2,478.6L164.2,479.7L162.2,480.7L160.2,481.7L158.1,482.8L156.1,483.8L154.1,484.8L152.1,485.7L150.0,486.7L148.0,487.6L146.0,488.5L144.0,489.4L141.9,490.3L139.9,491.1L137.9,492.0L135.9,492.7L133.8,493.5L131.8,494.3L129.8,495.0L127.8,495.8L125.7,496.5L123.7,497.2L121.7,497.9L119.7,498.6L117.6,499.3L115.6,500.0L113.6,500.6L111.6,501.3L109.5,502.0L107.5,502.7L105.5,503.4L103.5,504.1L101.4,504.8L99.4,505.5L97.4,506.2L95.4,506.9L93.3,507.5L91.3,508.2L89.3,508.9L87.3,509.6L85.2,510.2L83.2,510.9L81.2,511.6L79.2,512.3L77.1,512.9L75.1,513.6L73.1,514.3L71.1,515.0L69.0,515.7L67.0,516.4L65.0,517.1L63.0,517.8L60.9,518.5L58.9,519.2L56.9,519.9L54.9,520.6L52.8,521.4L50.8,522.1L48.8,522.8L46.8,523.5L44.7,524.3L42.7,525.0L40.7,525.7L40.7,524.9" fill="none" stroke="#ff0000" stroke-width="2.5" stroke-linejoin="round"/>
<path d="M267.9,406.5L267.9,402.5L267.9,402.0L267.9,401.7L267.9,401.4L267.9,401.0L268.0,400.6L268.0,400.1L268.0,399.6L268.0,399.0L268.1,398.3L268.1,397.5L268.1,396.7L268.2,395.7L268.2,394.6L268.3,393.4L268.4,392.6L268.4,392.1L268.5,390.7L268.6,389.2L268.7,387.6L268.8,386.1L269.0,384.1L269.3,382.2L269.3,381.6L269.5,380.4L269.8,378.5L270.1,376.7L270.3,375.9L270.6,374.9L270.8,373.9L271.0,373.2L271.3,372.4L271.6,371.6L271.8,371.1L272.3,370.0L272.8,368.9L273.0,368.4L273.3,368.0L273.8,367.1L274.0,366.8L274.3,366.3L274.8,365.5L275.1,365.1L275.3,364.8L275.8,364.1L276.3,363.4L276.7,362.8L277.2,362.1L277.7,361.5L278.2,360.9L278.7,360.3L279.2,359.8L279.6,359.3L280.2,358.6L280.7,358.1L281.2,357.6L281.7,357.0L282.2,356.5L282.7,356.0L283.2,355.5L283.7,355.0L284.2,354.5L284.6,354.0L285.1,353.5L285.6,353.0L286.1,352.6L286.6,352.1L287.1,351.6L287.6,351.1L288.1,350.7L288.6,350.2L289.1,349.8L289.6,349.3L290.1,348.9L290.6,348.4L291.1,348.0L291.6,347.5L292.1,347.1L292.5,346.6L293.0,346.2L293.5,345.8L294.0,345.3L294.5,344.9L295.0,344.5L295.5,344.0L296.0,343.6L296.5,343.2L297.0,342.7L297.5,342.3L298.0,341.9L298.5,341.4L299.0,341.0L299.5,340.6L300.0,340.1L300.5,339.7L300.9,339.2L301.4,338.8L301.9,338.4L302.4,337.9L302.9,337.5L303.4,337.0L303.9,336.6L304.4,336.1L304.9,335.6L305.4,335.2L305.9,334.7L306.4,334.2L306.9,333.7L307.4,333.2L307.9,332.7L308.4,332.2L308.8,331.7L309.3,331.2L309.8,330.7L310.3,330.2L310.8,329.6L311.3,329.1L311.8,328.6L312.3,328.0L312.8,327.5L313.3,326.9L313.8,326.4L314.3,325.8L314.8,325.2L315.3,324.7L315.8,324.1L316.3,323.5L316.7,323.0L317.2,322.4L317.7,321.8L318.2,321.2L318.7,320.6L319.2,320.1L319.7,319.5L320.2,318.9L320.7,318.3L321.2,317.8L321.7,317.2L322.2,316.6L322.7,316.0L323.2,315.5L323.7,314.9L324.2,314.3L324.6,313.8L325.1,313.2L325.6,312.7L326.1,312.1L326.6,311.6L327.1,311.0L327.6,310.5L328.1,309.9L328.6,309.4L329.1,308.9L329.6,308.3L330.1,307.8L330.6,307.3L331.1,306.8L331.6,306.2L332.1,305.7L332.5,305.2L333.0,304.7L333.5,304.2L334.0,303.6L334.5,303.1L335.0,302.6L335.5,302.1L336.0,301.6L336.5,301.1L337.0,300.6L337.5,300.0L338.0,299.5L338.5,299.0L339.0,298.5L339.5,298.0L340.0,297.4L340.5,296.9L340.9,296.4L341.4,295.9L341.9,295.3L342.4,294.8L342.9,294.3L343.4,293.8L343.9,293.2L344.4,292.7L344.9,292.2L345.4,291.7L345.9,291.2L346.4,290.7L346.9,290.2L347.4,289.7L347.9,289.1L348.4,288.6L348.8,288.1L349.3,287.6L349.8,287.1L350.3,286.6L350.8,286.1L351.3,285.6L351.8,285.1L352.3,284.6L352.8,284.0L353.3,283.5L353.8,283.0L354.3,282.4L354.8,281.9L355.3,281.3L355.8,280.8L356.3,280.2L356.7,279.6L357.2,279.1L357.7,278.5L358.2,277.9L358.7,277.3L359.2,276.7L359.7,276.1L360.2,275.4L360.7,274.8L361.2,274.2L361.7,273.5L362.2,272.9L362.7,272.2L363.2,271.6L363.7,270.9L364.2,270.2L364.6,269.6L365.1,268.9L365.6,268.2L366.1,267.5L366.6,266.8L367.1,266.1L367.6,265.4L368.1,264.7L368.6,264.0L369.1,263.3L369.6,262.5L370.1,261.8L370.6,261.1L371.1,260.4L371.6,259.6L372.1,258.9L372.5,258.2L373.0,257.5L373.5,256.7L374.0,256.0L374.5,255.2L375.0,254.5L375.5,253.8L376.0,253.0L376.5,252.3L377.0,251.5L377.5,250.8L378.0,250.1L378.5,249.3L379.0,248.6L379.5,247.8L380.0,247.1L380.5,246.3L380.9,245.6L381.4,244.8L381.9,244.0L382.4,243.3L382.9,242.5L383.4,241.8L383.9,241.0L384.4,240.3L384.9,239.5L385.4,238.7L385.9,238.0L386.4,237.2L386.9,236.5L387.4,235.7L387.9,235.0L388.4,234.2L388.8,233.5L389.3,232.7L389.8,232.0L390.3,231.2L390.8,230.5L391.3,229.7L391.8,229.0L392.3,228.2L392.8,227.5L393.3,226.7L393.8,226.0L394.3,225.3L394.8,224.6L395.3,223.8L395.8,223.1L396.3,222.4L396.7,221.7L397.2,220.9L397.7,220.2L398.2,219.5L398.7,218.8L399.2,218.1L399.7,217.4L400.2,216.7L400.7,216.0L401.2,215.3L401.7,214.6L402.2,213.9L402.7,213.2L403.2,212.5L403.7,211.8L404.2,211.1L404.6,210.5L405.1,209.8L405.6,209.1L406.1,208.4L406.6,207.8L407.1,207.1L407.6,206.4L408.1,205.8L408.6,205.1L409.1,204.4L409.6,203.8L410.1,203.1L410.6,202.4L411.1,201.7L411.6,201.1L412.1,200.4L412.5,199.7L413.0,199.0L413.5,198.3L414.0,197.6L414.5,196.9L415.0,196.2L415.5,195.5L415.5,196.6L415.5,196.9L415.4,197.2L415.4,197.7L415.4,198.0L415.4,198.3L415.3,198.6L415.3,199.0L415.3,199.4L415.2,199.9L415.2,200.5L415.1,201.1L415.1,201.8L415.0,202.3L415.0,202.6L414.9,203.5L414.8,204.5L414.7,205.6L414.5,206.7L414.3,208.2L414.1,209.6L414.0,210.2L413.9,211.2L413.6,212.9L413.2,214.8L413.0,215.7L412.8,216.7L412.5,217.8L412.3,218.7L412.1,219.7L411.8,220.7L411.6,221.4L411.1,222.8L410.6,224.2L410.3,224.9L410.1,225.4L409.6,226.5L409.4,226.9L409.1,227.5L408.6,228.4L408.3,228.9L408.1,229.3L407.6,230.1L407.1,230.8L406.6,231.5L406.1,232.2L405.6,232.9L405.1,233.5L404.6,234.1L404.2,234.7L403.7,235.2L403.2,235.8L402.7,236.3L402.2,236.9L401.7,237.4L401.2,237.9L400.7,238.4L400.2,238.9L399.7,239.4L399.2,239.9L398.7,240.4L398.2,240.8L397.7,241.3L397.2,241.8L396.7,242.3L396.3,242.7L395.8,243.2L395.3,243.6L394.8,244.1L394.3,244.5L393.8,245.0L393.3,245.4L392.8,245.9L392.3,246.3L391.8,246.8L391.3,247.2L390.8,247.6L390.3,248.1L389.8,248.5L389.3,248.9L388.8,249.4L388.4,249.8L387.9,250.2L387.4,250.6L386.9,251.1L386.4,251.5L385.9,251.9L385.4,252.3L384.9,252.8L384.4,253.2L383.9,253.6L383.4,254.0L382.9,254.4L382.4,254.9L381.9,255.3L381.4,255.7L380.9,256.1L380.5,256.6L380.0,257.0L379.5,257.4L379.0,257.8L378.5,258.3L378.0,258.7L377.5,259.2L377.0,259.6L376.5,260.1L376.0,260.5L375.5,261.0L375.0,261.5L374.5,261.9L374.0,262.4L373.5,262.9L373.0,263.4L372.5,263.9L372.1,264.4L371.6,265.0L371.1,265.5L370.6,266.1L370.1,266.6L369.6,267.2L369.1,267.8L368.6,268.4L368.1,269.0L367.6,269.6L367.1,270.2L366.6,270.8L366.1,271.4L365.6,272.0L365.1,272.7L364.6,273.3L364.2,274.0L363.7,274.6L363.2,275.3L362.7,276.0L362.2,276.6L361.7,277.3L361.2,278.0L360.7,278.7L360.2,279.3L359.7,280.0L359.2,280.7L358.7,281.4L358.2,282.1L357.7,282.7L357.2,283.4L356.7,284.1L356.3,284.8L355.8,285.5L355.3,286.1L354.8,286.8L354.3,287.5L353.8,288.1L353.3,288.8L352.8,289.5L352.3,290.1L351.8,290.8L351.3,291.5L350.8,292.1L350.3,292.8L349.8,293.4L349.3,294.1L348.8,294.8L348.4,295.4L347.9,296.1L347.4,296.7L346.9,297.3L346.4,298.0L345.9,298.6L345.4,299.2L344.9,299.9L344.4,300.5L343.9,301.1L343.4,301.7L342.9,302.3L342.4,302.9L341.9,303.6L341.4,304.2L340.9,304.8L340.5,305.4L340.0,305.9L339.5,306.5L339.0,307.1L338.5,307.7L338.0,308.3L337.5,308.9L337.0,309.5L336.5,310.0L336.0,310.6L335.5,311.2L335.0,311.8L334.5,312.4L334.0,313.0L333.5,313.6L333.0,314.2L332.5,314.8L332.1,315.5L331.6,316.1L331.1,316.7L330.6,317.4L330.1,318.1L329.6,318.7L329.1,319.4L328.6,320.1L328.1,320.8L327.6,321.5L327.1,322.2L326.6,322.9L326.1,323.6L325.6,324.3L325.1,325.0L324.6,325.7L324.2,326.4L323.7,327.2L323.2,327.9L322.7,328.6L322.2,329.4L321.7,330.1L321.2,330.8L320.7,331.6L320.2,332.3L319.7,333.1L319.2,333.8L318.7,334.6L318.2,335.3L317.7,336.1L317.2,336.9L316.7,337.6L316.3,338.4L315.8,339.1L315.3,339.9L314.8,340.7L314.3,341.5L313.8,342.2L313.3,343.0L312.8,343.7L312.3,344.5L311.8,345.3L311.3,346.0L310.8,346.8L310.3,347.5L309.8,348.3L309.3,349.1L308.8,349.8L308.4,350.6L307.9,351.4L307.4,352.1L306.9,352.9L306.4,353.6L305.9,354.4L305.4,355.2L304.9,355.9L304.4,356.7L303.9,357.5L303.4,358.3L302.9,359.0L302.4,359.8L301.9,360.6L301.4,361.4L300.9,362.1L300.5,362.9L300.0,363.7L299.5,364.4L299.0,365.2L298.5,366.0L298.0,366.7L297.5,367.5L297.0,368.3L296.5,369.0L296.0,369.8L295.5,370.5L295.0,371.3L294.5,372.0L294.0,372.8L293.5,373.5L293.0,374.3L292.5,375.0L292.1,375.8L291.6,376.5L291.1,377.2L290.6,378.0L290.1,378.7L289.6,379.4L289.1,380.1L288.6,380.9L288.1,381.6L287.6,382.3L287.1,383.0L286.6,383.7L286.1,384.4L285.6,385.2L285.1,385.9L284.6,386.6L284.2,387.3L283.7,387.9L283.2,388.6L282.7,389.3L282.2,390.0L281.7,390.6L281.2,391.3L280.7,391.9L280.2,392.5L279.7,393.1L279.2,393.7L278.7,394.3L278.2,394.9L277.7,395.5L277.2,396.1L276.7,396.6L276.3,397.2L275.8,397.8L275.3,398.3L274.8,398.9L274.3,399.5L273.8,400.0L273.3,400.6L272.8,401.1L272.3,401.7L271.8,402.2L271.3,402.8L270.8,403.3L270.3,403.8L269.8,404.4L269.3,404.9L268.8,405.4L268.4,405.9L267.9,406.5M192.5,469.7L192.6,466.5L192.6,466.2L192.6,465.9L192.6,465.6L192.6,465.2L192.6,464.8L192.6,464.3L192.6,463.8L192.7,463.2L192.7,462.6L192.7,461.9L192.7,461.1L192.8,460.2L192.8,459.2L192.9,458.2L193.0,457.0L193.0,455.8L193.1,454.4L193.2,452.9L193.4,451.4L193.5,449.8L193.7,448.1L193.9,446.3L194.2,444.6L194.5,442.9L194.5,442.6L194.8,441.3L195.2,439.7L195.5,438.7L195.7,438.2L196.3,436.8L196.5,436.3L196.9,435.5L197.5,434.5L197.7,434.2L198.5,433.0L199.6,431.8L200.6,430.7L201.0,430.2L201.6,429.6L202.5,428.7L203.6,427.7L204.3,427.0L204.6,426.8L205.6,425.9L206.4,425.2L207.6,424.1L208.6,423.3L208.9,423.1L209.6,422.5L210.6,421.7L211.6,420.9L212.6,420.1L213.6,419.3L214.6,418.5L215.2,418.0L215.6,417.7L216.6,416.9L217.7,416.1L218.7,415.4L219.7,414.6L220.7,413.8L221.7,413.1L222.7,412.3L223.7,411.5L224.7,410.8L225.7,410.0L226.7,409.3L227.7,408.5L228.7,407.8L229.7,407.1L230.7,406.3L231.7,405.6L232.7,404.8L233.7,404.1L234.7,403.4L235.7,402.6L236.8,401.9L237.8,401.2L238.8,400.5L239.8,399.7L240.8,399.0L241.8,398.3L242.8,397.5L243.8,396.8L244.8,396.1L245.8,395.3L246.8,394.6L247.8,393.9L248.8,393.1L249.8,392.4L250.8,391.6L251.8,390.9L252.8,390.1L253.8,389.4L254.9,388.6L255.9,387.8L256.9,387.1L257.9,386.3L258.9,385.5L259.9,384.7L260.9,383.8L261.9,383.0L262.9,382.1L263.9,381.2L264.9,380.2L265.9,379.3L266.9,378.3L267.9,377.3L268.9,376.3L269.9,375.3L270.9,374.3L271.9,373.3L272.9,372.2L274.0,371.1L275.0,370.0L276.0,368.9L277.0,367.7L278.0,366.6L279.0,365.4L280.0,364.2L281.0,363.0L282.0,361.8L283.0,360.5L284.0,359.3L285.0,358.0L286.0,356.8L287.0,355.5L288.0,354.2L289.0,352.9L290.0,351.6L291.0,350.2L292.0,348.9L293.1,347.6L294.1,346.2L295.1,344.9L296.1,343.5L297.1,342.1L298.1,340.8L299.1,339.4L300.1,338.1L301.1,336.7L302.1,335.3L303.1,334.0L304.1,332.6L305.1,331.3L306.1,329.9L307.1,328.6L308.1,327.2L309.1,325.9L310.1,324.6L311.2,323.3L312.2,322.0L313.2,320.8L314.2,319.5L315.2,318.3L316.2,317.0L317.2,315.8L318.2,314.6L319.2,313.5L320.2,312.3L321.2,311.2L322.2,310.1L323.2,309.0L324.2,307.9L325.2,306.8L326.2,305.8L327.2,304.7L328.2,303.7L329.2,302.6L330.3,301.6L331.3,300.6L332.3,299.5L333.3,298.5L334.3,297.5L335.3,296.4L336.3,295.4L337.3,294.3L338.3,293.3L339.3,292.2L340.3,291.2L341.3,290.2L342.3,289.2L343.3,288.2L344.3,287.2L345.3,286.2L346.3,285.1L347.3,284.1L348.4,283.1L349.4,282.1L350.4,281.0L351.4,280.0L352.4,278.9L353.4,277.8L354.4,276.7L355.4,275.6L356.4,274.4L357.4,273.1L358.4,271.9L359.4,270.6L360.4,269.3L361.4,268.0L362.4,266.7L363.4,265.3L364.4,263.9L365.4,262.6L366.4,261.2L367.5,259.7L368.5,258.3L369.5,256.9L370.5,255.4L371.5,254.0L372.5,252.5L373.5,251.0L374.5,249.6L375.5,248.1L376.5,246.6L377.5,245.1L378.5,243.6L379.5,242.1L380.5,240.5L381.5,239.0L382.5,237.5L383.5,236.0L384.5,234.5L385.6,233.0L386.6,231.4L387.6,229.9L388.6,228.4L389.6,226.9L390.6,225.4L391.6,224.0L392.6,222.5L393.6,221.0L394.6,219.6L395.6,218.1L396.6,216.7L397.6,215.2L398.6,213.8L399.6,212.4L400.6,210.9L401.6,209.5L402.6,208.1L403.6,206.7L404.7,205.4L405.7,204.0L406.7,202.6L407.7,201.2L408.7,199.9L409.7,198.5L410.7,197.1L411.7,195.8L412.7,194.4L413.7,193.0L414.7,191.6L415.7,190.2L416.7,188.9L417.7,187.5L418.7,186.1L419.7,184.8L420.7,183.4L421.7,182.1L422.7,180.8L423.8,179.5L424.8,178.2L425.8,176.8L426.8,175.5L427.8,174.2L428.8,172.9L429.8,171.6L430.8,170.3L431.8,169.0L432.8,167.7L433.8,166.4L434.8,165.2L435.8,163.9L436.8,162.7L437.8,161.5L438.8,160.3L439.8,159.1L440.8,158.0L441.9,156.9L442.9,155.7L443.9,154.6L444.9,153.5L445.9,152.4L446.9,151.3L447.9,150.2L448.9,149.2L449.9,148.1L450.9,147.0L451.9,145.9L452.9,144.9L453.9,143.8L454.9,142.8L455.9,141.7L456.9,140.7L457.9,139.7L458.9,138.7L459.9,137.7L461.0,136.7L462.0,135.7L463.0,134.7L464.0,133.8L465.0,132.8L466.0,131.9L467.0,131.0L468.0,130.0L469.0,129.1L470.0,128.2L471.0,127.4L472.0,126.5L473.0,125.7L474.0,124.8L475.0,124.0L476.0,123.2L477.0,122.4L478.0,121.6L479.1,120.9L480.1,120.1L481.1,119.4L482.1,118.7L483.1,117.9L484.1,117.2L485.1,116.5L486.1,115.8L487.1,115.1L488.1,114.5L489.1,113.8L490.1,113.1L491.1,112.4L492.1,111.8L493.1,111.1L493.1,108.5L493.1,108.9L493.0,109.1L493.0,109.5L493.0,110.0L492.9,110.3L492.9,110.6L492.9,110.9L492.8,111.3L492.7,111.8L492.7,112.3L492.6,112.8L492.5,113.5L492.4,114.1L492.3,114.9L492.1,115.7L491.9,116.6L491.7,117.5L491.5,118.5L491.2,119.6L490.8,120.7L490.4,121.9L490.1,122.7L490.0,123.1L489.4,124.3L489.1,124.9L488.7,125.6L488.1,126.7L487.9,127.0L487.1,128.3L486.1,129.8L485.1,131.2L484.6,131.8L484.1,132.6L483.1,133.8L482.1,135.2L481.3,136.2L481.1,136.5L480.1,137.9L479.2,138.9L478.0,140.5L477.0,141.8L476.8,142.1L476.0,143.1L475.0,144.4L474.0,145.7L473.0,147.0L472.0,148.3L471.0,149.6L470.4,150.3L470.0,150.9L469.0,152.2L468.0,153.5L467.0,154.8L466.0,156.1L465.0,157.4L464.0,158.7L463.0,160.0L462.0,161.3L461.0,162.6L459.9,163.8L458.9,165.1L457.9,166.4L456.9,167.7L455.9,169.0L454.9,170.3L453.9,171.6L452.9,172.9L451.9,174.2L450.9,175.5L449.9,176.7L448.9,178.0L447.9,179.3L446.9,180.6L445.9,181.9L444.9,183.1L443.9,184.4L442.9,185.7L441.9,186.9L440.8,188.2L439.8,189.5L438.8,190.7L437.8,192.0L436.8,193.2L435.8,194.4L434.8,195.7L433.8,196.9L432.8,198.1L431.8,199.3L430.8,200.5L429.8,201.7L428.8,202.9L427.8,204.1L426.8,205.3L425.8,206.5L424.8,207.6L423.8,208.8L422.7,209.9L421.7,211.1L420.7,212.2L419.7,213.3L418.7,214.5L417.7,215.6L416.7,216.7L415.7,217.8L414.7,218.9L413.7,220.0L412.7,221.1L411.7,222.1L410.7,223.2L409.7,224.3L408.7,225.4L407.7,226.5L406.7,227.6L405.7,228.7L404.7,229.8L403.6,230.9L402.6,232.0L401.6,233.1L400.6,234.3L399.6,235.4L398.6,236.6L397.6,237.8L396.6,239.0L395.6,240.2L394.6,241.4L393.6,242.6L392.6,243.9L391.6,245.2L390.6,246.4L389.6,247.7L388.6,249.1L387.6,250.4L386.6,251.8L385.6,253.1L384.5,254.5L383.5,255.9L382.5,257.3L381.5,258.8L380.5,260.2L379.5,261.6L378.5,263.1L377.5,264.5L376.5,266.0L375.5,267.4L374.5,268.8L373.5,270.3L372.5,271.7L371.5,273.1L370.5,274.5L369.5,275.9L368.5,277.3L367.5,278.7L366.4,280.0L365.4,281.4L364.4,282.7L363.4,284.1L362.4,285.4L361.4,286.7L360.4,288.0L359.4,289.3L358.4,290.6L357.4,291.9L356.4,293.2L355.4,294.5L354.4,295.7L353.4,297.0L352.4,298.2L351.4,299.5L350.4,300.7L349.4,301.9L348.4,303.1L347.3,304.3L346.3,305.4L345.3,306.6L344.3,307.8L343.3,308.9L342.3,310.1L341.3,311.2L340.3,312.3L339.3,313.4L338.3,314.6L337.3,315.7L336.3,316.8L335.3,317.9L334.3,319.0L333.3,320.2L332.3,321.4L331.3,322.7L330.3,323.9L329.2,325.2L328.2,326.5L327.2,327.9L326.2,329.2L325.2,330.6L324.2,332.0L323.2,333.4L322.2,334.8L321.2,336.3L320.2,337.7L319.2,339.2L318.2,340.7L317.2,342.2L316.2,343.6L315.2,345.1L314.2,346.6L313.2,348.1L312.2,349.6L311.2,351.1L310.1,352.7L309.1,354.2L308.1,355.7L307.1,357.3L306.1,358.8L305.1,360.4L304.1,362.0L303.1,363.5L302.1,365.1L301.1,366.7L300.1,368.2L299.1,369.8L298.1,371.4L297.1,372.9L296.1,374.5L295.1,376.0L294.1,377.6L293.1,379.1L292.0,380.6L291.0,382.2L290.0,383.7L289.0,385.3L288.0,386.8L287.0,388.3L286.0,389.8L285.0,391.2L284.0,392.6L283.0,394.0L282.0,395.3L281.0,396.6L280.0,397.8L279.0,399.0L278.0,400.2L277.0,401.3L276.0,402.4L275.0,403.5L274.0,404.5L272.9,405.6L271.9,406.7L270.9,407.8L269.9,408.8L268.9,409.9L267.9,410.9L266.9,412.0L265.9,413.0L264.9,414.0L263.9,415.0L262.9,416.0L261.9,417.0L260.9,418.0L259.9,418.9L258.9,419.9L257.9,420.8L256.9,421.8L255.9,422.7L254.9,423.6L253.8,424.5L252.8,425.4L251.8,426.3L250.8,427.2L249.8,428.1L248.8,429.0L247.8,429.9L246.8,430.8L245.8,431.7L244.8,432.5L243.8,433.4L242.8,434.3L241.8,435.1L240.8,436.0L239.8,436.8L238.8,437.6L237.8,438.5L236.8,439.3L235.7,440.1L234.7,440.9L233.7,441.8L232.7,442.6L231.7,443.3L230.7,444.1L229.7,444.9L228.7,445.7L227.7,446.5L226.7,447.2L225.7,448.0L224.7,448.7L223.7,449.5L222.7,450.2L221.7,451.0L220.7,451.7L219.7,452.4L218.7,453.1L217.7,453.8L216.6,454.5L215.6,455.2L214.6,455.9L213.6,456.5L212.6,457.2L211.6,457.9L210.6,458.6L209.6,459.2L208.6,459.9L207.6,460.5L206.6,461.1L205.6,461.8L204.6,462.4L203.6,463.0L202.6,463.7L201.6,464.3L200.6,464.9L199.6,465.5L198.5,466.1L197.5,466.7L196.5,467.3L195.5,467.9L194.5,468.5L193.5,469.1L192.5,469.7M117.6,506.1L117.6,502.9L117.6,502.6L117.6,502.2L117.6,501.8L117.6,501.4L117.6,500.9L117.7,500.4L117.7,499.8L117.7,499.2L117.7,498.4L117.7,497.6L117.8,496.7L117.8,495.7L117.9,494.7L117.9,493.5L118.0,492.1L118.1,490.7L118.2,489.2L118.3,487.5L118.4,485.8L118.6,484.0L118.7,482.1L119.0,480.2L119.1,479.3L119.2,478.2L119.5,476.4L119.8,474.5L120.2,472.8L120.6,471.7L120.7,471.2L121.3,469.7L122.0,468.2L122.7,466.8L123.6,465.6L124.8,464.0L125.1,463.6L126.0,462.5L126.6,461.9L127.6,460.9L128.1,460.4L129.3,459.2L129.6,458.9L131.1,457.5L131.4,457.2L132.6,456.2L133.9,455.0L135.6,453.5L136.8,452.5L137.1,452.2L138.6,450.9L140.1,449.7L141.6,448.4L143.1,447.2L144.7,445.9L146.2,444.7L147.7,443.5L149.2,442.3L150.7,441.0L152.2,439.8L153.7,438.7L155.2,437.5L156.7,436.3L158.2,435.2L159.7,434.0L161.2,432.9L162.7,431.7L164.2,430.6L165.7,429.5L167.2,428.4L168.7,427.3L170.2,426.2L171.8,425.2L173.3,424.1L174.8,423.1L176.3,422.0L177.8,421.0L179.3,420.0L180.8,418.9L182.3,417.9L183.8,417.0L185.3,416.0L186.8,415.0L188.3,414.0L189.8,413.1L191.3,412.1L192.8,411.2L194.3,410.2L195.8,409.3L197.3,408.4L198.9,407.5L200.4,406.6L201.9,405.7L203.4,404.8L204.9,403.9L206.4,403.1L207.9,402.2L209.4,401.3L210.9,400.5L212.4,399.6L213.9,398.8L215.4,397.9L216.9,397.1L218.4,396.3L219.9,395.5L221.4,394.7L222.9,393.8L224.4,393.0L226.0,392.2L227.5,391.4L229.0,390.6L230.5,389.8L232.0,389.1L233.5,388.3L235.0,387.5L236.5,386.7L238.0,385.9L239.5,385.1L241.0,384.4L242.5,383.6L244.0,382.8L245.5,382.0L247.0,381.2L248.5,380.4L250.0,379.6L251.5,378.8L253.1,378.0L254.6,377.2L256.1,376.4L257.6,375.6L259.1,374.8L260.6,373.9L262.1,373.0L263.6,372.2L265.1,371.3L266.6,370.3L268.1,369.3L269.6,368.3L271.1,367.2L272.6,366.2L274.1,365.0L275.6,363.9L277.1,362.7L278.6,361.5L280.2,360.2L281.7,358.9L283.2,357.5L284.7,356.1L286.2,354.7L287.7,353.2L289.2,351.7L290.7,350.2L292.2,348.6L293.7,347.0L295.2,345.3L296.7,343.6L298.2,341.9L299.7,340.2L301.2,338.4L302.7,336.7L304.2,334.9L305.7,333.0L307.3,331.2L308.8,329.4L310.3,327.6L311.8,325.7L313.3,323.9L314.8,322.1L316.3,320.3L317.8,318.5L319.3,316.8L320.8,315.1L322.3,313.4L323.8,311.7L325.3,310.1L326.8,308.5L328.3,306.9L329.8,305.4L331.3,303.9L332.8,302.4L334.4,300.9L335.9,299.4L337.4,297.9L338.9,296.4L340.4,294.8L341.9,293.3L343.4,291.8L344.9,290.3L346.4,288.8L347.9,287.3L349.4,285.8L350.9,284.3L352.4,282.8L353.9,281.2L355.4,279.6L356.9,277.9L358.4,276.2L359.9,274.4L361.5,272.5L363.0,270.6L364.5,268.6L366.0,266.5L367.5,264.4L369.0,262.3L370.5,260.2L372.0,258.0L373.5,255.8L375.0,253.6L376.5,251.3L378.0,249.1L379.5,246.8L381.0,244.6L382.5,242.3L384.0,240.0L385.5,237.7L387.0,235.4L388.6,233.1L390.1,230.9L391.6,228.6L393.1,226.3L394.6,224.1L396.1,221.9L397.6,219.7L399.1,217.6L400.6,215.4L402.1,213.3L403.6,211.2L405.1,209.1L406.6,207.1L408.1,205.1L409.6,203.0L411.1,201.0L412.6,198.9L414.1,196.7L415.7,194.6L417.2,192.5L418.7,190.3L420.2,188.2L421.7,186.1L423.2,184.0L424.7,181.9L426.2,179.8L427.7,177.8L429.2,175.7L430.7,173.7L432.2,171.6L433.7,169.6L435.2,167.5L436.7,165.5L438.2,163.5L439.7,161.6L441.2,159.6L442.8,157.7L444.3,155.9L445.8,154.1L447.3,152.3L448.8,150.6L450.3,148.9L451.8,147.1L453.3,145.4L454.8,143.7L456.3,142.0L457.8,140.3L459.3,138.7L460.8,137.0L462.3,135.4L463.8,133.8L465.3,132.2L466.8,130.7L468.3,129.1L469.8,127.6L471.4,126.1L472.9,124.7L474.4,123.2L475.9,121.8L477.4,120.5L478.9,119.1L480.4,117.8L481.9,116.5L483.4,115.3L484.9,114.1L486.4,112.9L487.9,111.7L489.4,110.6L490.9,109.5L492.4,108.3L493.9,107.2L495.4,106.1L496.9,105.1L498.5,104.0L500.0,103.0L501.5,102.0L503.0,101.0L504.5,100.0L506.0,99.0L507.5,98.1L509.0,97.2L510.5,96.2L512.0,95.4L513.5,94.5L515.0,93.6L516.5,92.8L518.0,92.0L519.5,91.2L521.0,90.4L522.5,89.7L524.0,89.0L525.6,88.3L527.1,87.6L528.6,86.9L530.1,86.2L531.6,85.6L533.1,85.0L534.6,84.4L536.1,83.8L537.6,83.2L539.1,82.6L540.6,82.0L542.1,81.5L543.6,80.9L545.1,80.3L546.6,79.8L548.1,79.2L549.6,78.7L551.1,78.1L552.7,77.6L554.2,77.0L555.7,76.5L557.2,75.9L558.7,75.3L560.2,74.7L561.7,74.2L563.2,73.6L564.7,73.0L566.2,72.4L567.7,71.9L567.7,73.2L567.7,73.5L567.6,74.0L567.6,74.2L567.6,74.5L567.6,74.8L567.6,75.2L567.5,75.6L567.5,76.1L567.5,76.6L567.4,77.2L567.4,77.9L567.3,78.6L567.3,79.5L567.2,80.4L567.1,81.5L567.0,82.6L566.9,83.9L566.7,85.4L566.5,87.0L566.3,88.7L566.2,89.5L566.1,90.5L565.8,92.5L565.4,94.6L565.0,96.8L564.7,98.3L564.5,99.0L564.0,101.3L563.3,103.6L563.2,103.9L562.5,105.8L561.7,107.7L560.5,110.0L560.2,110.6L559.2,112.1L558.7,112.9L557.7,114.1L557.2,114.8L555.9,116.2L555.7,116.5L554.2,118.2L553.8,118.5L552.7,119.7L551.3,121.1L549.6,122.8L548.4,124.0L548.1,124.3L546.6,125.7L545.1,127.2L543.6,128.7L542.1,130.2L540.6,131.6L539.1,133.1L537.6,134.5L536.1,136.0L534.6,137.4L533.1,138.9L531.6,140.3L530.1,141.7L528.6,143.1L527.1,144.5L525.6,145.9L524.0,147.3L522.5,148.7L521.0,150.1L519.5,151.4L518.0,152.8L516.5,154.1L515.0,155.5L513.5,156.8L512.0,158.1L510.5,159.4L509.0,160.7L507.5,162.0L506.0,163.3L504.5,164.6L503.0,165.8L501.5,167.1L500.0,168.3L498.5,169.6L496.9,170.8L495.4,172.0L493.9,173.2L492.4,174.4L490.9,175.6L489.4,176.8L487.9,178.0L486.4,179.2L484.9,180.3L483.4,181.5L481.9,182.6L480.4,183.8L478.9,184.9L477.4,186.0L475.9,187.2L474.4,188.3L472.9,189.4L471.4,190.5L469.8,191.6L468.3,192.7L466.8,193.7L465.3,194.8L463.8,195.9L462.3,196.9L460.8,198.0L459.3,199.1L457.8,200.1L456.3,201.1L454.8,202.2L453.3,203.2L451.8,204.2L450.3,205.3L448.8,206.3L447.3,207.3L445.8,208.3L444.3,209.3L442.8,210.3L441.2,211.3L439.7,212.4L438.2,213.4L436.7,214.4L435.2,215.4L433.7,216.4L432.2,217.4L430.7,218.4L429.2,219.4L427.7,220.4L426.2,221.4L424.7,222.5L423.2,223.5L421.7,224.6L420.2,225.6L418.7,226.7L417.2,227.8L415.7,229.0L414.1,230.1L412.6,231.3L411.1,232.5L409.6,233.7L408.1,235.0L406.6,236.3L405.1,237.6L403.6,239.0L402.1,240.4L400.6,241.9L399.1,243.4L397.6,244.9L396.1,246.5L394.6,248.2L393.1,249.9L391.6,251.7L390.1,253.5L388.6,255.3L387.0,257.2L385.5,259.2L384.0,261.1L382.5,263.1L381.0,265.1L379.5,267.2L378.0,269.2L376.5,271.2L375.0,273.3L373.5,275.3L372.0,277.3L370.5,279.3L369.0,281.2L367.5,283.2L366.0,285.1L364.5,287.1L363.0,289.0L361.5,290.9L359.9,292.8L358.4,294.6L356.9,296.5L355.4,298.3L353.9,300.1L352.4,301.9L350.9,303.7L349.4,305.4L347.9,307.1L346.4,308.9L344.9,310.5L343.4,312.2L341.9,313.9L340.4,315.5L338.9,317.2L337.4,318.8L335.9,320.5L334.4,322.2L332.8,323.9L331.3,325.7L329.8,327.6L328.3,329.5L326.8,331.5L325.3,333.5L323.8,335.5L322.3,337.6L320.8,339.8L319.3,342.0L317.8,344.2L316.3,346.4L314.8,348.6L313.3,350.8L311.8,353.0L310.3,355.3L308.8,357.6L307.3,360.0L305.7,362.3L304.2,364.7L302.7,367.0L301.2,369.4L299.7,371.8L298.2,374.1L296.7,376.5L295.2,378.8L293.7,381.2L292.2,383.5L290.7,385.9L289.2,388.3L287.7,390.6L286.2,392.8L284.7,394.9L283.2,397.0L281.7,398.9L280.2,400.7L278.6,402.4L277.1,404.0L275.6,405.7L274.1,407.3L272.6,408.9L271.1,410.4L269.6,412.0L268.1,413.5L266.6,415.0L265.1,416.5L263.6,418.0L262.1,419.4L260.6,420.8L259.1,422.2L257.6,423.6L256.1,425.0L254.6,426.3L253.1,427.7L251.5,429.0L250.0,430.3L248.5,431.7L247.0,433.0L245.5,434.2L244.0,435.5L242.5,436.8L241.0,438.0L239.5,439.3L238.0,440.5L236.5,441.7L235.0,442.9L233.5,444.1L232.0,445.3L230.5,446.4L229.0,447.6L227.5,448.7L226.0,449.8L224.4,450.9L222.9,452.0L221.4,453.1L219.9,454.1L218.4,455.1L216.9,456.2L215.4,457.2L213.9,458.2L212.4,459.2L210.9,460.1L209.4,461.1L207.9,462.0L206.4,463.0L204.9,463.9L203.4,464.8L201.9,465.8L200.4,466.7L198.9,467.6L197.3,468.5L195.8,469.4L194.3,470.2L192.8,471.1L191.3,472.0L189.8,472.8L188.3,473.7L186.8,474.5L185.3,475.4L183.8,476.2L182.3,477.1L180.8,477.9L179.3,478.8L177.8,479.6L176.3,480.4L174.8,481.3L173.3,482.1L171.8,482.9L170.2,483.7L168.7,484.5L167.2,485.3L165.7,486.1L164.2,486.9L162.7,487.7L161.2,488.5L159.7,489.2L158.2,490.0L156.7,490.7L155.2,491.4L153.7,492.2L152.2,492.9L150.7,493.5L149.2,494.2L147.7,494.9L146.2,495.5L144.7,496.2L143.1,496.8L141.6,497.4L140.1,498.0L138.6,498.6L137.1,499.2L135.6,499.7L134.1,500.3L132.6,500.8L131.1,501.4L129.6,501.9L128.1,502.5L126.6,503.0L125.1,503.5L123.6,504.1L122.1,504.6L120.6,505.1L119.1,505.6L117.6,506.1M40.7,531.3L40.7,527.7L40.7,527.4L40.8,527.0L40.8,526.6L40.8,526.1L40.8,525.6L40.8,525.0L40.8,524.4L40.8,523.7L40.9,522.9L40.9,522.0L40.9,521.0L41.0,520.0L41.0,518.8L41.1,517.5L41.1,516.0L41.2,514.5L41.3,512.8L41.4,511.0L41.6,509.1L41.7,507.1L41.9,505.1L42.1,503.0L42.3,500.9L42.6,498.9L42.7,498.4L43.0,496.9L43.4,495.1L43.9,493.3L44.4,491.7L44.7,490.9L45.1,490.1L45.9,488.6L46.8,487.2L47.9,485.6L48.8,484.5L49.2,484.1L50.7,482.3L52.5,480.5L52.8,480.1L54.6,478.4L54.9,478.1L56.9,476.1L58.9,474.3L60.0,473.3L60.9,472.4L63.0,470.5L63.4,470.1L65.0,468.7L67.0,466.9L69.0,465.1L71.1,463.3L73.1,461.6L75.1,459.8L77.1,458.1L79.2,456.4L81.2,454.7L83.2,453.0L85.2,451.4L87.3,449.7L89.3,448.1L91.3,446.5L93.3,444.9L95.4,443.3L97.4,441.8L99.4,440.3L101.4,438.8L103.5,437.3L105.5,435.8L107.5,434.4L109.5,432.9L111.6,431.5L113.6,430.1L115.6,428.7L117.6,427.4L119.7,426.0L121.7,424.7L123.7,423.4L125.7,422.0L127.8,420.8L129.8,419.5L131.8,418.2L133.8,417.0L135.9,415.7L137.9,414.5L139.9,413.3L141.9,412.1L144.0,410.9L146.0,409.7L148.0,408.6L150.0,407.4L152.1,406.3L154.1,405.1L156.1,404.0L158.1,402.9L160.2,401.8L162.2,400.7L164.2,399.6L166.2,398.5L168.3,397.5L170.3,396.4L172.3,395.3L174.3,394.3L176.4,393.2L178.4,392.2L180.4,391.2L182.4,390.2L184.5,389.1L186.5,388.1L188.5,387.1L190.5,386.1L192.6,385.1L194.6,384.1L196.6,383.1L198.6,382.1L200.6,381.2L202.7,380.2L204.7,379.2L206.7,378.2L208.7,377.2L210.8,376.3L212.8,375.3L214.8,374.3L216.8,373.3L218.9,372.4L220.9,371.4L222.9,370.4L224.9,369.4L227.0,368.4L229.0,367.4L231.0,366.4L233.0,365.4L235.1,364.4L237.1,363.4L239.1,362.3L241.1,361.3L243.2,360.2L245.2,359.1L247.2,358.0L249.2,356.9L251.3,355.8L253.3,354.6L255.3,353.4L257.3,352.2L259.4,351.0L261.4,349.6L263.4,348.3L265.4,346.8L267.5,345.4L269.5,343.9L271.5,342.4L273.5,340.8L275.6,339.2L277.6,337.5L279.6,335.9L281.6,334.1L283.7,332.4L285.7,330.6L287.7,328.8L289.7,326.9L291.8,325.1L293.8,323.2L295.8,321.3L297.8,319.3L299.9,317.3L301.9,315.4L303.9,313.4L305.9,311.4L308.0,309.4L310.0,307.5L312.0,305.5L314.0,303.6L316.1,301.7L318.1,299.8L320.1,298.0L322.1,296.3L324.2,294.5L326.2,292.8L328.2,291.1L330.2,289.4L332.3,287.6L334.3,285.9L336.3,284.1L338.3,282.3L340.4,280.6L342.4,278.8L344.4,277.1L346.4,275.3L348.5,273.5L350.5,271.7L352.5,269.8L354.5,267.8L356.5,265.7L358.6,263.4L360.6,261.1L362.6,258.7L364.6,256.2L366.7,253.6L368.7,251.0L370.7,248.3L372.7,245.6L374.8,242.9L376.8,240.0L378.8,237.2L380.8,234.3L382.9,231.4L384.9,228.5L386.9,225.5L388.9,222.6L391.0,219.7L393.0,216.8L395.0,213.9L397.0,211.0L399.1,208.2L401.1,205.3L403.1,202.5L405.1,199.7L407.2,196.9L409.2,194.2L411.2,191.4L413.2,188.6L415.3,185.8L417.3,183.0L419.3,180.2L421.3,177.5L423.4,174.8L425.4,172.1L427.4,169.4L429.4,166.7L431.5,164.0L433.5,161.4L435.5,158.9L437.5,156.4L439.6,153.9L441.6,151.6L443.6,149.3L445.6,147.0L447.7,144.7L449.7,142.4L451.7,140.2L453.7,138.0L455.8,135.8L457.8,133.6L459.8,131.5L461.8,129.5L463.9,127.4L465.9,125.4L467.9,123.5L469.9,121.6L472.0,119.8L474.0,118.0L476.0,116.3L478.0,114.7L480.1,113.1L482.1,111.5L484.1,109.9L486.1,108.4L488.2,107.0L490.2,105.5L492.2,104.1L494.2,102.7L496.3,101.3L498.3,100.0L500.3,98.7L502.3,97.5L504.4,96.2L506.4,95.0L508.4,93.9L510.4,92.8L512.5,91.7L514.5,90.6L516.5,89.6L518.5,88.7L520.5,87.7L522.6,86.8L524.6,85.9L526.6,85.1L528.6,84.3L530.7,83.4L532.7,82.7L534.7,81.9L536.7,81.1L538.8,80.4L540.8,79.6L542.8,78.9L544.8,78.1L546.9,77.4L548.9,76.7L550.9,75.9L552.9,75.1L555.0,74.4L557.0,73.6L559.0,72.8L561.0,72.0L563.1,71.3L565.1,70.5L567.1,69.7L569.1,69.0L571.2,68.2L573.2,67.5L575.2,66.7L577.2,66.0L579.3,65.2L581.3,64.5L583.3,63.7L585.3,63.0L587.4,62.2L589.4,61.5L591.4,60.7L593.4,60.0L595.5,59.2L597.5,58.4L599.5,57.7L601.5,56.9L603.6,56.1L605.6,55.4L607.6,54.6L609.6,53.9L611.7,53.1L613.7,52.3L615.7,51.6L617.7,50.8L619.8,50.1L621.8,49.3L623.8,48.6L625.8,47.8L627.9,47.1L629.9,46.4L631.9,45.7L633.9,44.9L636.0,44.2L638.0,43.5L640.0,42.8L642.0,42.1L644.1,41.4L646.1,40.7L646.0,42.2L646.0,42.5L646.0,42.9L646.0,43.2L646.0,43.5L646.0,43.8L645.9,44.2L645.9,44.6L645.9,45.1L645.8,45.7L645.8,46.3L645.8,47.0L645.7,47.7L645.6,48.6L645.6,49.6L645.5,50.7L645.4,51.9L645.2,53.2L645.1,54.7L644.9,56.3L644.7,58.1L644.4,60.0L644.1,62.0L644.1,62.5L643.8,64.1L643.4,66.3L642.9,68.6L642.3,70.9L642.0,72.0L641.7,73.2L640.9,75.4L640.0,77.5L638.9,79.7L638.0,81.1L637.6,81.7L636.1,83.7L634.3,85.8L633.9,86.2L632.2,88.0L631.9,88.3L629.9,90.4L627.9,92.4L626.8,93.4L625.8,94.4L623.8,96.4L623.4,96.8L621.8,98.4L619.8,100.4L617.7,102.4L615.7,104.3L613.7,106.3L611.7,108.3L609.6,110.3L607.6,112.2L605.6,114.2L603.6,116.1L601.5,118.1L599.5,120.0L597.5,121.9L595.5,123.7L593.4,125.6L591.4,127.5L589.4,129.3L587.4,131.1L585.3,132.9L583.3,134.7L581.3,136.4L579.3,138.2L577.2,139.9L575.2,141.6L573.2,143.3L571.2,145.0L569.1,146.7L567.1,148.4L565.1,150.0L563.1,151.6L561.0,153.2L559.0,154.8L557.0,156.4L555.0,158.0L552.9,159.5L550.9,161.1L548.9,162.6L546.9,164.1L544.8,165.7L542.8,167.2L540.8,168.6L538.8,170.1L536.7,171.6L534.7,173.0L532.7,174.5L530.7,175.9L528.6,177.3L526.6,178.8L524.6,180.2L522.6,181.6L520.5,182.9L518.5,184.3L516.5,185.7L514.5,187.1L512.5,188.4L510.4,189.8L508.4,191.1L506.4,192.4L504.4,193.8L502.3,195.1L500.3,196.4L498.3,197.7L496.3,199.0L494.2,200.3L492.2,201.5L490.2,202.8L488.2,204.1L486.1,205.4L484.1,206.6L482.1,207.9L480.1,209.1L478.0,210.4L476.0,211.6L474.0,212.8L472.0,214.1L469.9,215.3L467.9,216.5L465.9,217.7L463.9,218.9L461.8,220.2L459.8,221.4L457.8,222.6L455.8,223.8L453.7,225.0L451.7,226.2L449.7,227.4L447.7,228.6L445.6,229.8L443.6,231.0L441.6,232.2L439.6,233.4L437.5,234.6L435.5,235.9L433.5,237.1L431.5,238.3L429.4,239.6L427.4,240.8L425.4,242.1L423.4,243.4L421.3,244.7L419.3,246.1L417.3,247.5L415.3,248.9L413.2,250.3L411.2,251.8L409.2,253.3L407.2,254.8L405.1,256.4L403.1,258.0L401.1,259.7L399.1,261.4L397.0,263.1L395.0,264.9L393.0,266.7L391.0,268.6L388.9,270.5L386.9,272.5L384.9,274.5L382.9,276.5L380.8,278.6L378.8,280.7L376.8,282.9L374.8,285.1L372.7,287.2L370.7,289.4L368.7,291.6L366.7,293.7L364.6,295.9L362.6,298.0L360.6,300.1L358.6,302.2L356.5,304.3L354.5,306.4L352.5,308.5L350.5,310.5L348.5,312.6L346.4,314.6L344.4,316.6L342.4,318.5L340.4,320.5L338.3,322.4L336.3,324.3L334.3,326.3L332.3,328.3L330.2,330.5L328.2,332.8L326.2,335.1L324.2,337.5L322.1,340.0L320.1,342.5L318.1,345.1L316.1,347.8L314.0,350.5L312.0,353.2L310.0,355.9L308.0,358.6L305.9,361.4L303.9,364.2L301.9,367.1L299.9,370.0L297.8,372.8L295.8,375.7L293.8,378.5L291.8,381.3L289.7,384.1L287.7,386.9L285.7,389.7L283.7,392.4L281.6,395.0L279.6,397.4L277.6,399.7L275.6,401.9L273.5,404.1L271.5,406.2L269.5,408.3L267.5,410.4L265.4,412.4L263.4,414.4L261.4,416.4L259.4,418.4L257.3,420.3L255.3,422.1L253.3,424.0L251.3,425.8L249.2,427.6L247.2,429.3L245.2,431.1L243.2,432.8L241.1,434.5L239.1,436.2L237.1,437.9L235.1,439.6L233.0,441.2L231.0,442.8L229.0,444.4L227.0,445.9L224.9,447.5L222.9,449.0L220.9,450.5L218.9,451.9L216.8,453.4L214.8,454.8L212.8,456.2L210.8,457.5L208.7,458.8L206.7,460.2L204.7,461.5L202.7,462.7L200.6,464.0L198.6,465.2L196.6,466.5L194.6,467.7L192.6,468.9L190.5,470.0L188.5,471.2L186.5,472.4L184.5,473.5L182.4,474.7L180.4,475.8L178.4,477.0L176.4,478.1L174.3,479.2L172.3,480.3L170.3,481.4L168.3,482.5L166.2,483.6L164.2,484.7L162.2,485.8L160.2,486.9L158.1,487.9L156.1,489.0L154.1,490.0L152.1,491.0L150.0,492.0L148.0,492.9L146.0,493.9L144.0,494.8L141.9,495.7L139.9,496.5L137.9,497.4L135.9,498.2L133.8,499.0L131.8,499.8L129.8,500.5L127.8,501.3L125.7,502.0L123.7,502.8L121.7,503.5L119.7,504.2L117.6,504.9L115.6,505.6L113.6,506.3L111.6,507.0L109.5,507.7L107.5,508.4L105.5,509.1L103.5,509.8L101.4,510.5L99.4,511.3L97.4,512.0L95.4,512.7L93.3,513.4L91.3,514.1L89.3,514.8L87.3,515.5L85.2,516.2L83.2,516.8L81.2,517.5L79.2,518.2L77.1,518.9L75.1,519.6L73.1,520.3L71.1,521.0L69.0,521.7L67.0,522.5L65.0,523.2L63.0,523.9L60.9,524.6L58.9,525.4L56.9,526.1L54.9,526.8L52.8,527.6L50.8,528.3L48.8,529.1L46.8,529.8L44.7,530.6L42.7,531.3L40.7,532.1L40.7,531.3" fill="none" stroke="#f07040" stroke-width="2.5" stroke-linejoin="round" stroke-dasharray="5.5 5.5"/>
<path d="M267.9,407.9L267.9,404.3L267.9,404.1L267.9,403.8L267.9,403.5L267.9,403.1L267.9,402.7L268.0,402.3L268.0,401.8L268.0,401.2L268.0,400.6L268.1,399.9L268.1,399.1L268.1,398.2L268.2,397.2L268.2,396.1L268.3,394.9L268.4,394.0L268.4,393.6L268.5,392.1L268.6,390.6L268.7,388.9L268.8,387.4L269.0,385.3L269.3,383.5L269.3,382.8L269.5,381.6L269.8,379.7L270.1,377.8L270.3,377.0L270.6,376.0L270.8,375.0L271.0,374.3L271.3,373.4L271.6,372.5L271.8,372.0L272.3,370.9L272.8,369.7L273.0,369.2L273.3,368.7L273.8,367.8L274.0,367.5L274.3,366.9L274.8,366.1L275.1,365.7L275.3,365.4L275.8,364.6L276.3,363.9L276.7,363.2L277.2,362.5L277.7,361.9L278.2,361.2L278.7,360.6L279.2,360.0L279.6,359.5L280.2,358.8L280.7,358.2L281.2,357.7L281.7,357.1L282.2,356.6L282.7,356.0L283.2,355.5L283.7,354.9L284.2,354.4L284.6,353.9L285.1,353.4L285.6,352.9L286.1,352.4L286.6,351.9L287.1,351.4L287.6,350.9L288.1,350.5L288.6,350.0L289.1,349.5L289.6,349.0L290.1,348.6L290.6,348.1L291.1,347.7L291.6,347.2L292.1,346.7L292.5,346.3L293.0,345.9L293.5,345.4L294.0,345.0L294.5,344.5L295.0,344.1L295.5,343.7L296.0,343.2L296.5,342.8L297.0,342.4L297.5,341.9L298.0,341.5L298.5,341.1L299.0,340.6L299.5,340.2L300.0,339.8L300.5,339.4L300.9,338.9L301.4,338.5L301.9,338.1L302.4,337.7L302.9,337.2L303.4,336.8L303.9,336.4L304.4,335.9L304.9,335.5L305.4,335.1L305.9,334.6L306.4,334.2L306.9,333.7L307.4,333.3L307.9,332.8L308.4,332.4L308.8,331.9L309.3,331.4L309.8,331.0L310.3,330.5L310.8,330.0L311.3,329.5L311.8,329.0L312.3,328.5L312.8,328.0L313.3,327.5L313.8,327.0L314.3,326.5L314.8,326.0L315.3,325.5L315.8,324.9L316.3,324.4L316.7,323.9L317.2,323.3L317.7,322.8L318.2,322.2L318.7,321.7L319.2,321.1L319.7,320.6L320.2,320.0L320.7,319.5L321.2,318.9L321.7,318.3L322.2,317.8L322.7,317.2L323.2,316.7L323.7,316.1L324.2,315.5L324.6,315.0L325.1,314.4L325.6,313.9L326.1,313.3L326.6,312.8L327.1,312.2L327.6,311.7L328.1,311.2L328.6,310.6L329.1,310.1L329.6,309.6L330.1,309.0L330.6,308.5L331.1,308.0L331.6,307.4L332.1,306.9L332.5,306.4L333.0,305.9L333.5,305.4L334.0,304.8L334.5,304.3L335.0,303.8L335.5,303.3L336.0,302.8L336.5,302.2L337.0,301.7L337.5,301.2L338.0,300.7L338.5,300.2L339.0,299.7L339.5,299.1L340.0,298.6L340.5,298.1L340.9,297.6L341.4,297.0L341.9,296.5L342.4,296.0L342.9,295.4L343.4,294.9L343.9,294.4L344.4,293.9L344.9,293.3L345.4,292.8L345.9,292.3L346.4,291.8L346.9,291.2L347.4,290.7L347.9,290.2L348.4,289.7L348.8,289.2L349.3,288.7L349.8,288.2L350.3,287.6L350.8,287.1L351.3,286.6L351.8,286.1L352.3,285.6L352.8,285.0L353.3,284.5L353.8,284.0L354.3,283.4L354.8,282.9L355.3,282.3L355.8,281.7L356.3,281.2L356.7,280.6L357.2,280.0L357.7,279.4L358.2,278.8L358.7,278.2L359.2,277.6L359.7,277.0L360.2,276.3L360.7,275.7L361.2,275.1L361.7,274.4L362.2,273.7L362.7,273.1L363.2,272.4L363.7,271.7L364.2,271.0L364.6,270.3L365.1,269.6L365.6,268.9L366.1,268.2L366.6,267.5L367.1,266.8L367.6,266.1L368.1,265.3L368.6,264.6L369.1,263.9L369.6,263.1L370.1,262.4L370.6,261.6L371.1,260.9L371.6,260.1L372.1,259.4L372.5,258.6L373.0,257.8L373.5,257.1L374.0,256.3L374.5,255.6L375.0,254.8L375.5,254.0L376.0,253.3L376.5,252.5L377.0,251.7L377.5,250.9L378.0,250.2L378.5,249.4L379.0,248.6L379.5,247.8L380.0,247.1L380.5,246.3L380.9,245.5L381.4,244.7L381.9,243.9L382.4,243.2L382.9,242.4L383.4,241.6L383.9,240.8L384.4,240.0L384.9,239.2L385.4,238.4L385.9,237.7L386.4,236.9L386.9,236.1L387.4,235.3L387.9,234.5L388.4,233.7L388.8,233.0L389.3,232.2L389.8,231.4L390.3,230.6L390.8,229.9L391.3,229.1L391.8,228.3L392.3,227.5L392.8,226.8L393.3,226.0L393.8,225.3L394.3,224.5L394.8,223.7L395.3,223.0L395.8,222.2L396.3,221.5L396.7,220.8L397.2,220.0L397.7,219.3L398.2,218.5L398.7,217.8L399.2,217.1L399.7,216.4L400.2,215.6L400.7,214.9L401.2,214.2L401.7,213.5L402.2,212.8L402.7,212.1L403.2,211.4L403.7,210.7L404.2,210.0L404.6,209.3L405.1,208.6L405.6,207.9L406.1,207.2L406.6,206.5L407.1,205.9L407.6,205.2L408.1,204.5L408.6,203.8L409.1,203.2L409.6,202.5L410.1,201.8L410.6,201.1L411.1,200.4L411.6,199.7L412.1,199.0L412.5,198.3L413.0,197.6L413.5,196.9L414.0,196.2L414.5,195.5L415.0,194.8L415.5,194.1L415.5,195.2L415.5,195.5L415.4,195.9L415.4,196.3L415.4,196.6L415.4,196.9L415.3,197.2L415.3,197.6L415.3,198.0L415.2,198.5L415.2,199.1L415.1,199.7L415.1,200.4L415.0,201.0L415.0,201.2L414.9,202.1L414.8,203.1L414.7,204.3L414.5,205.4L414.3,206.9L414.1,208.4L414.0,208.9L413.9,210.0L413.6,211.7L413.2,213.6L413.0,214.5L412.8,215.5L412.5,216.7L412.3,217.6L412.1,218.6L411.8,219.7L411.6,220.4L411.1,221.8L410.6,223.2L410.3,223.9L410.1,224.5L409.6,225.6L409.4,226.0L409.1,226.6L408.6,227.6L408.3,228.1L408.1,228.5L407.6,229.3L407.1,230.1L406.6,230.8L406.1,231.5L405.6,232.2L405.1,232.8L404.6,233.5L404.2,234.1L403.7,234.6L403.2,235.2L402.7,235.8L402.2,236.3L401.7,236.9L401.2,237.4L400.7,237.9L400.2,238.5L399.7,239.0L399.2,239.5L398.7,240.0L398.2,240.5L397.7,240.9L397.2,241.4L396.7,241.9L396.3,242.4L395.8,242.9L395.3,243.3L394.8,243.8L394.3,244.3L393.8,244.7L393.3,245.2L392.8,245.6L392.3,246.1L391.8,246.5L391.3,247.0L390.8,247.4L390.3,247.9L389.8,248.3L389.3,248.8L388.8,249.2L388.4,249.7L387.9,250.1L387.4,250.5L386.9,251.0L386.4,251.4L385.9,251.8L385.4,252.3L384.9,252.7L384.4,253.2L383.9,253.6L383.4,254.0L382.9,254.5L382.4,254.9L381.9,255.4L381.4,255.8L380.9,256.3L380.5,256.7L380.0,257.2L379.5,257.6L379.0,258.1L378.5,258.6L378.0,259.1L377.5,259.5L377.0,260.0L376.5,260.5L376.0,261.1L375.5,261.6L375.0,262.1L374.5,262.7L374.0,263.2L373.5,263.8L373.0,264.3L372.5,264.9L372.1,265.5L371.6,266.1L371.1,266.7L370.6,267.4L370.1,268.0L369.6,268.6L369.1,269.3L368.6,269.9L368.1,270.6L367.6,271.3L367.1,271.9L366.6,272.6L366.1,273.3L365.6,274.0L365.1,274.7L364.6,275.4L364.2,276.0L363.7,276.7L363.2,277.4L362.7,278.1L362.2,278.8L361.7,279.5L361.2,280.2L360.7,280.9L360.2,281.6L359.7,282.3L359.2,283.0L358.7,283.7L358.2,284.4L357.7,285.1L357.2,285.8L356.7,286.5L356.3,287.2L355.8,287.9L355.3,288.5L354.8,289.2L354.3,289.9L353.8,290.6L353.3,291.3L352.8,291.9L352.3,292.6L351.8,293.3L351.3,293.9L350.8,294.6L350.3,295.3L349.8,295.9L349.3,296.6L348.8,297.2L348.4,297.9L347.9,298.5L347.4,299.2L346.9,299.8L346.4,300.4L345.9,301.1L345.4,301.7L344.9,302.3L344.4,302.9L343.9,303.5L343.4,304.1L342.9,304.8L342.4,305.4L341.9,306.0L341.4,306.6L340.9,307.2L340.5,307.8L340.0,308.4L339.5,308.9L339.0,309.5L338.5,310.1L338.0,310.7L337.5,311.3L337.0,311.9L336.5,312.5L336.0,313.0L335.5,313.6L335.0,314.2L334.5,314.8L334.0,315.4L333.5,316.0L333.0,316.6L332.5,317.2L332.1,317.9L331.6,318.5L331.1,319.2L330.6,319.8L330.1,320.5L329.6,321.1L329.1,321.8L328.6,322.5L328.1,323.2L327.6,323.8L327.1,324.5L326.6,325.2L326.1,325.9L325.6,326.6L325.1,327.3L324.6,328.0L324.2,328.7L323.7,329.4L323.2,330.2L322.7,330.9L322.2,331.6L321.7,332.3L321.2,333.0L320.7,333.8L320.2,334.5L319.7,335.2L319.2,336.0L318.7,336.7L318.2,337.4L317.7,338.2L317.2,338.9L316.7,339.7L316.3,340.4L315.8,341.2L315.3,341.9L314.8,342.7L314.3,343.4L313.8,344.2L313.3,344.9L312.8,345.7L312.3,346.4L311.8,347.1L311.3,347.9L310.8,348.6L310.3,349.4L309.8,350.1L309.3,350.9L308.8,351.6L308.4,352.3L307.9,353.1L307.4,353.8L306.9,354.6L306.4,355.3L305.9,356.1L305.4,356.8L304.9,357.6L304.4,358.4L303.9,359.1L303.4,359.9L302.9,360.6L302.4,361.4L301.9,362.2L301.4,362.9L300.9,363.7L300.5,364.4L300.0,365.2L299.5,366.0L299.0,366.7L298.5,367.5L298.0,368.2L297.5,369.0L297.0,369.7L296.5,370.5L296.0,371.2L295.5,371.9L295.0,372.7L294.5,373.4L294.0,374.2L293.5,374.9L293.0,375.6L292.5,376.4L292.1,377.1L291.6,377.8L291.1,378.5L290.6,379.3L290.1,380.0L289.6,380.7L289.1,381.4L288.6,382.1L288.1,382.9L287.6,383.6L287.1,384.3L286.6,385.0L286.1,385.7L285.6,386.4L285.1,387.1L284.6,387.8L284.2,388.5L283.7,389.2L283.2,389.9L282.7,390.5L282.2,391.2L281.7,391.9L281.2,392.5L280.7,393.1L280.2,393.8L279.7,394.4L279.2,395.0L278.7,395.6L278.2,396.2L277.7,396.8L277.2,397.4L276.7,397.9L276.3,398.5L275.8,399.1L275.3,399.7L274.8,400.3L274.3,400.8L273.8,401.4L273.3,401.9L272.8,402.5L272.3,403.1L271.8,403.6L271.3,404.1L270.8,404.7L270.3,405.2L269.8,405.8L269.3,406.3L268.8,406.8L268.4,407.4L267.9,407.9M192.5,472.0L192.6,468.8L192.6,468.5L192.6,468.2L192.6,467.9L192.6,467.5L192.6,467.1L192.6,466.6L192.6,466.1L192.7,465.5L192.7,464.8L192.7,464.1L192.7,463.3L192.8,462.4L192.8,461.5L192.9,460.4L193.0,459.2L193.0,457.9L193.1,456.5L193.2,455.0L193.4,453.5L193.5,451.8L193.7,450.1L193.9,448.3L194.2,446.5L194.5,444.8L194.5,444.4L194.8,443.1L195.2,441.4L195.5,440.3L195.7,439.8L196.3,438.3L196.5,437.7L196.9,436.9L197.5,435.7L197.7,435.4L198.5,434.1L199.6,432.7L200.6,431.4L201.0,430.9L201.6,430.3L202.5,429.2L203.6,428.1L204.3,427.3L204.6,427.1L205.6,426.1L206.4,425.3L207.6,424.2L208.6,423.2L208.9,423.0L209.6,422.3L210.6,421.4L211.6,420.6L212.6,419.7L213.6,418.8L214.6,418.0L215.2,417.5L215.6,417.2L216.6,416.3L217.7,415.5L218.7,414.7L219.7,413.9L220.7,413.1L221.7,412.3L222.7,411.5L223.7,410.7L224.7,409.9L225.7,409.2L226.7,408.4L227.7,407.6L228.7,406.9L229.7,406.1L230.7,405.4L231.7,404.6L232.7,403.9L233.7,403.1L234.7,402.4L235.7,401.7L236.8,400.9L237.8,400.2L238.8,399.5L239.8,398.7L240.8,398.0L241.8,397.3L242.8,396.6L243.8,395.8L244.8,395.1L245.8,394.4L246.8,393.7L247.8,393.0L248.8,392.2L249.8,391.5L250.8,390.8L251.8,390.1L252.8,389.3L253.8,388.6L254.9,387.8L255.9,387.1L256.9,386.3L257.9,385.6L258.9,384.8L259.9,384.1L260.9,383.3L261.9,382.5L262.9,381.7L263.9,380.8L264.9,379.9L265.9,379.0L266.9,378.1L267.9,377.2L268.9,376.3L269.9,375.3L270.9,374.4L271.9,373.4L272.9,372.4L274.0,371.4L275.0,370.3L276.0,369.3L277.0,368.2L278.0,367.1L279.0,366.0L280.0,364.9L281.0,363.7L282.0,362.6L283.0,361.4L284.0,360.2L285.0,359.0L286.0,357.8L287.0,356.6L288.0,355.3L289.0,354.0L290.0,352.8L291.0,351.5L292.0,350.2L293.1,348.9L294.1,347.6L295.1,346.2L296.1,344.9L297.1,343.6L298.1,342.2L299.1,340.9L300.1,339.5L301.1,338.2L302.1,336.8L303.1,335.5L304.1,334.1L305.1,332.8L306.1,331.4L307.1,330.1L308.1,328.8L309.1,327.4L310.1,326.1L311.2,324.8L312.2,323.5L313.2,322.2L314.2,321.0L315.2,319.7L316.2,318.4L317.2,317.2L318.2,316.0L319.2,314.8L320.2,313.6L321.2,312.5L322.2,311.3L323.2,310.2L324.2,309.1L325.2,308.0L326.2,306.9L327.2,305.9L328.2,304.8L329.2,303.8L330.3,302.7L331.3,301.7L332.3,300.6L333.3,299.6L334.3,298.5L335.3,297.5L336.3,296.4L337.3,295.4L338.3,294.3L339.3,293.3L340.3,292.2L341.3,291.2L342.3,290.2L343.3,289.1L344.3,288.1L345.3,287.1L346.3,286.1L347.3,285.0L348.4,284.0L349.4,283.0L350.4,282.0L351.4,280.9L352.4,279.8L353.4,278.7L354.4,277.6L355.4,276.4L356.4,275.3L357.4,274.0L358.4,272.8L359.4,271.5L360.4,270.2L361.4,268.8L362.4,267.5L363.4,266.1L364.4,264.7L365.4,263.2L366.4,261.8L367.5,260.3L368.5,258.8L369.5,257.4L370.5,255.9L371.5,254.4L372.5,252.8L373.5,251.3L374.5,249.8L375.5,248.3L376.5,246.7L377.5,245.2L378.5,243.6L379.5,242.0L380.5,240.5L381.5,238.9L382.5,237.3L383.5,235.8L384.5,234.2L385.6,232.6L386.6,231.1L387.6,229.5L388.6,227.9L389.6,226.4L390.6,224.9L391.6,223.3L392.6,221.8L393.6,220.3L394.6,218.8L395.6,217.3L396.6,215.8L397.6,214.3L398.6,212.8L399.6,211.4L400.6,209.9L401.6,208.5L402.6,207.1L403.6,205.6L404.7,204.2L405.7,202.8L406.7,201.4L407.7,200.1L408.7,198.7L409.7,197.3L410.7,195.9L411.7,194.5L412.7,193.1L413.7,191.7L414.7,190.3L415.7,188.9L416.7,187.5L417.7,186.2L418.7,184.8L419.7,183.4L420.7,182.1L421.7,180.7L422.7,179.4L423.8,178.1L424.8,176.7L425.8,175.4L426.8,174.1L427.8,172.7L428.8,171.4L429.8,170.1L430.8,168.8L431.8,167.5L432.8,166.2L433.8,164.9L434.8,163.6L435.8,162.4L436.8,161.1L437.8,159.9L438.8,158.7L439.8,157.5L440.8,156.3L441.9,155.2L442.9,154.1L443.9,153.0L444.9,151.9L445.9,150.7L446.9,149.6L447.9,148.5L448.9,147.4L449.9,146.4L450.9,145.3L451.9,144.2L452.9,143.1L453.9,142.1L454.9,141.0L455.9,140.0L456.9,138.9L457.9,137.9L458.9,136.9L459.9,135.9L461.0,134.9L462.0,133.9L463.0,132.9L464.0,131.9L465.0,131.0L466.0,130.0L467.0,129.1L468.0,128.2L469.0,127.3L470.0,126.4L471.0,125.5L472.0,124.6L473.0,123.7L474.0,122.9L475.0,122.1L476.0,121.3L477.0,120.5L478.0,119.7L479.1,118.9L480.1,118.2L481.1,117.4L482.1,116.7L483.1,116.0L484.1,115.3L485.1,114.6L486.1,113.9L487.1,113.2L488.1,112.5L489.1,111.8L490.1,111.1L491.1,110.5L492.1,109.8L493.1,109.2L493.1,106.5L493.1,106.9L493.0,107.2L493.0,107.5L493.0,108.0L492.9,108.3L492.9,108.6L492.9,109.0L492.8,109.4L492.7,109.8L492.7,110.3L492.6,110.9L492.5,111.5L492.4,112.2L492.3,112.9L492.1,113.8L491.9,114.7L491.7,115.6L491.5,116.6L491.2,117.7L490.8,118.8L490.4,120.0L490.1,120.8L490.0,121.2L489.4,122.5L489.1,123.1L488.7,123.8L488.1,124.9L487.9,125.2L487.1,126.6L486.1,128.1L485.1,129.6L484.6,130.2L484.1,131.0L483.1,132.3L482.1,133.7L481.3,134.7L481.1,135.1L480.1,136.4L479.2,137.5L479.1,137.8L478.0,139.1L477.0,140.5L476.8,140.9L476.0,141.8L475.0,143.2L474.0,144.5L473.0,145.9L472.0,147.2L471.0,148.6L470.4,149.4L470.0,149.9L469.0,151.3L468.0,152.6L467.0,153.9L466.0,155.3L465.0,156.6L464.0,158.0L463.0,159.3L462.0,160.7L461.0,162.0L459.9,163.3L458.9,164.7L457.9,166.0L456.9,167.4L455.9,168.7L454.9,170.0L453.9,171.4L452.9,172.7L451.9,174.0L450.9,175.4L449.9,176.7L448.9,178.0L447.9,179.4L446.9,180.7L445.9,182.0L444.9,183.3L443.9,184.6L442.9,186.0L441.9,187.3L440.8,188.6L439.8,189.9L438.8,191.2L437.8,192.5L436.8,193.7L435.8,195.0L434.8,196.3L433.8,197.6L432.8,198.8L431.8,200.1L430.8,201.3L429.8,202.6L428.8,203.8L427.8,205.0L426.8,206.2L425.8,207.4L424.8,208.6L423.8,209.8L422.7,211.0L421.7,212.2L420.7,213.3L419.7,214.5L418.7,215.6L417.7,216.8L416.7,217.9L415.7,219.0L414.7,220.1L413.7,221.3L412.7,222.4L411.7,223.5L410.7,224.6L409.7,225.7L408.7,226.8L407.7,227.9L406.7,229.0L405.7,230.1L404.7,231.3L403.6,232.4L402.6,233.6L401.6,234.7L400.6,235.9L399.6,237.1L398.6,238.3L397.6,239.5L396.6,240.7L395.6,242.0L394.6,243.2L393.6,244.5L392.6,245.8L391.6,247.1L390.6,248.4L389.6,249.8L388.6,251.2L387.6,252.5L386.6,253.9L385.6,255.3L384.5,256.8L383.5,258.2L382.5,259.6L381.5,261.1L380.5,262.5L379.5,264.0L378.5,265.5L377.5,266.9L376.5,268.4L375.5,269.8L374.5,271.3L373.5,272.7L372.5,274.1L371.5,275.5L370.5,276.9L369.5,278.3L368.5,279.7L367.5,281.1L366.4,282.4L365.4,283.8L364.4,285.1L363.4,286.5L362.4,287.8L361.4,289.1L360.4,290.4L359.4,291.7L358.4,293.0L357.4,294.3L356.4,295.6L355.4,296.8L354.4,298.1L353.4,299.4L352.4,300.6L351.4,301.8L350.4,303.0L349.4,304.2L348.4,305.4L347.3,306.6L346.3,307.8L345.3,308.9L344.3,310.1L343.3,311.3L342.3,312.4L341.3,313.5L340.3,314.7L339.3,315.8L338.3,316.9L337.3,318.0L336.3,319.2L335.3,320.3L334.3,321.5L333.3,322.6L332.3,323.8L331.3,325.1L330.3,326.3L329.2,327.6L328.2,328.9L327.2,330.2L326.2,331.5L325.2,332.9L324.2,334.3L323.2,335.7L322.2,337.1L321.2,338.5L320.2,339.9L319.2,341.4L318.2,342.8L317.2,344.3L316.2,345.7L315.2,347.2L314.2,348.6L313.2,350.1L312.2,351.6L311.2,353.0L310.1,354.5L309.1,356.0L308.1,357.5L307.1,359.1L306.1,360.6L305.1,362.1L304.1,363.7L303.1,365.2L302.1,366.8L301.1,368.3L300.1,369.8L299.1,371.4L298.1,372.9L297.1,374.4L296.1,376.0L295.1,377.5L294.1,379.0L293.1,380.5L292.0,382.1L291.0,383.6L290.0,385.1L289.0,386.6L288.0,388.1L287.0,389.6L286.0,391.1L285.0,392.5L284.0,393.9L283.0,395.3L282.0,396.7L281.0,397.9L280.0,399.2L279.0,400.4L278.0,401.5L277.0,402.6L276.0,403.8L275.0,404.9L274.0,406.0L272.9,407.1L271.9,408.1L270.9,409.2L269.9,410.3L268.9,411.4L267.9,412.4L266.9,413.5L265.9,414.5L264.9,415.5L263.9,416.6L262.9,417.6L261.9,418.6L260.9,419.6L259.9,420.6L258.9,421.5L257.9,422.5L256.9,423.4L255.9,424.3L254.9,425.3L253.8,426.2L252.8,427.1L251.8,428.0L250.8,429.0L249.8,429.9L248.8,430.8L247.8,431.7L246.8,432.6L245.8,433.4L244.8,434.3L243.8,435.2L242.8,436.1L241.8,436.9L240.8,437.8L239.8,438.6L238.8,439.5L237.8,440.3L236.8,441.2L235.7,442.0L234.7,442.8L233.7,443.7L232.7,444.5L231.7,445.3L230.7,446.1L229.7,446.9L228.7,447.7L227.7,448.4L226.7,449.2L225.7,450.0L224.7,450.7L223.7,451.5L222.7,452.2L221.7,453.0L220.7,453.7L219.7,454.4L218.7,455.1L217.7,455.9L216.6,456.6L215.6,457.3L214.6,458.0L213.6,458.6L212.6,459.3L211.6,460.0L210.6,460.7L209.6,461.3L208.6,462.0L207.6,462.7L206.6,463.3L205.6,464.0L204.6,464.6L203.6,465.2L202.6,465.9L201.6,466.5L200.6,467.1L199.6,467.7L198.5,468.4L197.5,469.0L196.5,469.6L195.5,470.2L194.5,470.8L193.5,471.4L192.5,472.0M117.6,508.9L117.6,505.6L117.6,505.3L117.6,505.0L117.6,504.6L117.6,504.1L117.6,503.7L117.7,503.1L117.7,502.5L117.7,501.9L117.7,501.1L117.7,500.3L117.8,499.4L117.8,498.4L117.9,497.3L117.9,496.1L118.0,494.8L118.1,493.3L118.2,491.7L118.3,490.1L118.4,488.3L118.6,486.4L118.7,484.5L119.0,482.5L119.1,481.6L119.2,480.5L119.5,478.6L119.8,476.7L120.2,474.8L120.6,473.7L120.7,473.1L121.3,471.4L122.0,469.9L122.7,468.3L123.6,466.9L124.8,465.1L125.1,464.7L126.0,463.4L126.6,462.7L127.6,461.6L128.1,460.9L129.3,459.5L129.6,459.3L131.1,457.7L131.4,457.3L132.6,456.1L133.9,454.8L135.6,453.2L136.8,452.0L137.1,451.8L138.6,450.4L140.1,449.0L141.6,447.7L143.1,446.3L144.7,445.0L146.2,443.7L147.7,442.4L149.2,441.2L150.7,439.9L152.2,438.7L153.7,437.4L155.2,436.2L156.7,435.0L158.2,433.8L159.7,432.6L161.2,431.5L162.7,430.3L164.2,429.2L165.7,428.0L167.2,426.9L168.7,425.8L170.2,424.7L171.8,423.6L173.3,422.6L174.8,421.5L176.3,420.5L177.8,419.4L179.3,418.4L180.8,417.4L182.3,416.4L183.8,415.4L185.3,414.4L186.8,413.4L188.3,412.4L189.8,411.5L191.3,410.5L192.8,409.6L194.3,408.6L195.8,407.7L197.3,406.8L198.9,405.9L200.4,405.0L201.9,404.1L203.4,403.2L204.9,402.3L206.4,401.4L207.9,400.6L209.4,399.7L210.9,398.9L212.4,398.0L213.9,397.2L215.4,396.3L216.9,395.5L218.4,394.7L219.9,393.9L221.4,393.0L222.9,392.2L224.4,391.4L226.0,390.6L227.5,389.8L229.0,389.0L230.5,388.3L232.0,387.5L233.5,386.7L235.0,385.9L236.5,385.1L238.0,384.4L239.5,383.6L241.0,382.8L242.5,382.0L244.0,381.3L245.5,380.5L247.0,379.7L248.5,379.0L250.0,378.2L251.5,377.4L253.1,376.6L254.6,375.8L256.1,375.0L257.6,374.2L259.1,373.4L260.6,372.6L262.1,371.8L263.6,370.9L265.1,370.1L266.6,369.2L268.1,368.3L269.6,367.3L271.1,366.3L272.6,365.3L274.1,364.3L275.6,363.2L277.1,362.1L278.6,360.9L280.2,359.8L281.7,358.5L283.2,357.3L284.7,356.0L286.2,354.6L287.7,353.3L289.2,351.8L290.7,350.4L292.2,348.9L293.7,347.4L295.2,345.8L296.7,344.2L298.2,342.6L299.7,340.9L301.2,339.2L302.7,337.5L304.2,335.7L305.7,334.0L307.3,332.2L308.8,330.4L310.3,328.6L311.8,326.8L313.3,325.0L314.8,323.2L316.3,321.4L317.8,319.6L319.3,317.9L320.8,316.1L322.3,314.4L323.8,312.7L325.3,311.1L326.8,309.5L328.3,307.9L329.8,306.3L331.3,304.8L332.8,303.3L334.4,301.8L335.9,300.3L337.4,298.8L338.9,297.3L340.4,295.7L341.9,294.2L343.4,292.7L344.9,291.1L346.4,289.6L347.9,288.1L349.4,286.6L350.9,285.1L352.4,283.6L353.9,282.0L355.4,280.4L356.9,278.7L358.4,276.9L359.9,275.1L361.5,273.2L363.0,271.2L364.5,269.2L366.0,267.1L367.5,265.0L369.0,262.8L370.5,260.6L372.0,258.3L373.5,256.1L375.0,253.8L376.5,251.5L378.0,249.2L379.5,246.8L381.0,244.5L382.5,242.1L384.0,239.7L385.5,237.4L387.0,235.0L388.6,232.6L390.1,230.3L391.6,227.9L393.1,225.6L394.6,223.3L396.1,221.0L397.6,218.8L399.1,216.5L400.6,214.3L402.1,212.2L403.6,210.0L405.1,207.9L406.6,205.8L408.1,203.8L409.6,201.7L411.1,199.6L412.6,197.5L414.1,195.4L415.7,193.2L417.2,191.0L418.7,188.9L420.2,186.7L421.7,184.5L423.2,182.4L424.7,180.3L426.2,178.2L427.7,176.1L429.2,174.0L430.7,172.0L432.2,169.9L433.7,167.8L435.2,165.7L436.7,163.7L438.2,161.7L439.7,159.7L441.2,157.7L442.8,155.8L444.3,153.9L445.8,152.1L447.3,150.3L448.8,148.6L450.3,146.8L451.8,145.1L453.3,143.3L454.8,141.6L456.3,139.9L457.8,138.2L459.3,136.5L460.8,134.8L462.3,133.2L463.8,131.6L465.3,130.0L466.8,128.4L468.3,126.8L469.8,125.3L471.4,123.8L472.9,122.3L474.4,120.8L475.9,119.4L477.4,118.0L478.9,116.7L480.4,115.3L481.9,114.0L483.4,112.8L484.9,111.6L486.4,110.4L487.9,109.2L489.4,108.0L490.9,106.9L492.4,105.7L493.9,104.6L495.4,103.5L496.9,102.4L498.5,101.3L500.0,100.3L501.5,99.3L503.0,98.2L504.5,97.3L506.0,96.3L507.5,95.3L509.0,94.4L510.5,93.5L512.0,92.6L513.5,91.7L515.0,90.8L516.5,90.0L518.0,89.2L519.5,88.4L521.0,87.6L522.5,86.8L524.0,86.1L525.6,85.4L527.1,84.7L528.6,84.0L530.1,83.3L531.6,82.7L533.1,82.0L534.6,81.4L536.1,80.8L537.6,80.2L539.1,79.6L540.6,79.0L542.1,78.5L543.6,77.9L545.1,77.3L546.6,76.8L548.1,76.2L549.6,75.6L551.1,75.1L552.7,74.5L554.2,74.0L555.7,73.4L557.2,72.8L558.7,72.2L560.2,71.7L561.7,71.1L563.2,70.5L564.7,69.9L566.2,69.3L567.7,68.7L567.7,70.1L567.7,70.4L567.6,70.9L567.6,71.1L567.6,71.4L567.6,71.7L567.6,72.1L567.5,72.5L567.5,73.0L567.5,73.5L567.4,74.1L567.4,74.8L567.3,75.6L567.3,76.4L567.2,77.4L567.1,78.5L567.0,79.7L566.9,81.0L566.7,82.5L566.5,84.1L566.3,85.8L566.2,86.7L566.1,87.7L565.8,89.8L565.4,91.9L565.0,94.2L564.7,95.8L564.5,96.5L564.0,98.9L563.3,101.3L563.2,101.6L562.5,103.6L561.7,105.7L560.5,108.2L560.2,108.7L559.2,110.4L558.7,111.2L557.7,112.6L557.2,113.3L555.9,114.9L555.7,115.2L554.2,117.0L553.8,117.4L552.7,118.7L551.3,120.1L549.6,122.0L548.4,123.2L548.1,123.5L546.6,125.1L545.1,126.7L543.6,128.2L542.1,129.7L540.6,131.2L539.1,132.8L537.6,134.3L536.1,135.7L534.6,137.2L533.1,138.7L531.6,140.2L530.1,141.6L528.6,143.1L527.1,144.5L525.6,145.9L524.0,147.3L522.5,148.7L521.0,150.1L519.5,151.5L518.0,152.8L516.5,154.2L515.0,155.6L513.5,156.9L512.0,158.2L510.5,159.5L509.0,160.8L507.5,162.1L506.0,163.4L504.5,164.7L503.0,166.0L501.5,167.2L500.0,168.5L498.5,169.7L496.9,171.0L495.4,172.2L493.9,173.4L492.4,174.6L490.9,175.8L489.4,177.0L487.9,178.2L486.4,179.3L484.9,180.5L483.4,181.7L481.9,182.8L480.4,183.9L478.9,185.1L477.4,186.2L475.9,187.3L474.4,188.4L472.9,189.5L471.4,190.6L469.8,191.7L468.3,192.8L466.8,193.9L465.3,195.0L463.8,196.1L462.3,197.1L460.8,198.2L459.3,199.2L457.8,200.3L456.3,201.3L454.8,202.4L453.3,203.4L451.8,204.4L450.3,205.5L448.8,206.5L447.3,207.5L445.8,208.5L444.3,209.5L442.8,210.5L441.2,211.6L439.7,212.6L438.2,213.6L436.7,214.6L435.2,215.6L433.7,216.6L432.2,217.6L430.7,218.6L429.2,219.7L427.7,220.7L426.2,221.7L424.7,222.8L423.2,223.9L421.7,224.9L420.2,226.0L418.7,227.2L417.2,228.3L415.7,229.5L414.1,230.7L412.6,231.9L411.1,233.1L409.6,234.4L408.1,235.7L406.6,237.1L405.1,238.5L403.6,239.9L402.1,241.4L400.6,243.0L399.1,244.6L397.6,246.2L396.1,247.9L394.6,249.6L393.1,251.4L391.6,253.3L390.1,255.2L388.6,257.1L387.0,259.1L385.5,261.1L384.0,263.1L382.5,265.2L381.0,267.2L379.5,269.3L378.0,271.4L376.5,273.4L375.0,275.4L373.5,277.5L372.0,279.5L370.5,281.5L369.0,283.5L367.5,285.4L366.0,287.4L364.5,289.3L363.0,291.2L361.5,293.1L359.9,295.0L358.4,296.9L356.9,298.8L355.4,300.6L353.9,302.4L352.4,304.2L350.9,306.0L349.4,307.7L347.9,309.4L346.4,311.1L344.9,312.8L343.4,314.5L341.9,316.2L340.4,317.8L338.9,319.5L337.4,321.2L335.9,322.9L334.4,324.5L332.8,326.3L331.3,328.1L329.8,329.9L328.3,331.8L326.8,333.8L325.3,335.8L323.8,337.8L322.3,339.9L320.8,342.0L319.3,344.1L317.8,346.3L316.3,348.4L314.8,350.6L313.3,352.8L311.8,355.0L310.3,357.2L308.8,359.5L307.3,361.8L305.7,364.1L304.2,366.4L302.7,368.7L301.2,371.1L299.7,373.4L298.2,375.7L296.7,378.0L295.2,380.3L293.7,382.7L292.2,385.0L290.7,387.3L289.2,389.7L287.7,391.9L286.2,394.2L284.7,396.3L283.2,398.3L281.7,400.3L280.2,402.1L278.6,403.8L277.1,405.4L275.6,407.1L274.1,408.7L272.6,410.3L271.1,411.9L269.6,413.5L268.1,415.0L266.6,416.6L265.1,418.1L263.6,419.6L262.1,421.0L260.6,422.5L259.1,423.9L257.6,425.3L256.1,426.7L254.6,428.0L253.1,429.4L251.5,430.7L250.0,432.1L248.5,433.4L247.0,434.7L245.5,436.0L244.0,437.3L242.5,438.6L241.0,439.9L239.5,441.1L238.0,442.4L236.5,443.6L235.0,444.8L233.5,446.0L232.0,447.2L230.5,448.4L229.0,449.5L227.5,450.7L226.0,451.8L224.4,452.9L222.9,454.0L221.4,455.1L219.9,456.2L218.4,457.2L216.9,458.2L215.4,459.3L213.9,460.3L212.4,461.3L210.9,462.3L209.4,463.2L207.9,464.2L206.4,465.2L204.9,466.1L203.4,467.1L201.9,468.0L200.4,468.9L198.9,469.8L197.3,470.7L195.8,471.6L194.3,472.5L192.8,473.4L191.3,474.3L189.8,475.1L188.3,476.0L186.8,476.9L185.3,477.7L183.8,478.6L182.3,479.4L180.8,480.3L179.3,481.1L177.8,482.0L176.3,482.8L174.8,483.7L173.3,484.5L171.8,485.4L170.2,486.2L168.7,487.0L167.2,487.8L165.7,488.6L164.2,489.4L162.7,490.2L161.2,491.0L159.7,491.7L158.2,492.5L156.7,493.2L155.2,494.0L153.7,494.7L152.2,495.4L150.7,496.1L149.2,496.8L147.7,497.5L146.2,498.1L144.7,498.8L143.1,499.4L141.6,500.0L140.1,500.6L138.6,501.2L137.1,501.8L135.6,502.4L134.1,503.0L132.6,503.5L131.1,504.1L129.6,504.6L128.1,505.2L126.6,505.7L125.1,506.2L123.6,506.8L122.1,507.3L120.6,507.8L119.1,508.3L117.6,508.9M40.7,534.3L40.7,530.8L40.7,530.4L40.8,530.1L40.8,529.6L40.8,529.2L40.8,528.6L40.8,528.1L40.8,527.4L40.8,526.7L40.9,525.9L40.9,525.0L40.9,524.0L41.0,522.9L41.0,521.7L41.1,520.4L41.1,519.0L41.2,517.4L41.3,515.7L41.4,513.9L41.6,511.9L41.7,509.9L41.9,507.8L42.1,505.7L42.3,503.5L42.6,501.4L42.7,500.8L43.0,499.3L43.4,497.3L43.9,495.5L44.4,493.7L44.7,492.8L45.1,492.0L45.9,490.3L46.8,488.7L47.9,486.9L48.8,485.6L49.2,485.0L50.7,483.0L52.5,480.9L52.8,480.5L54.6,478.5L54.9,478.2L56.9,476.0L58.9,473.9L60.0,472.8L60.9,471.8L63.0,469.8L63.4,469.4L65.0,467.9L67.0,465.9L69.0,464.0L71.1,462.2L73.1,460.3L75.1,458.5L77.1,456.7L79.2,454.9L81.2,453.2L83.2,451.5L85.2,449.8L87.3,448.1L89.3,446.4L91.3,444.8L93.3,443.2L95.4,441.6L97.4,440.1L99.4,438.5L101.4,437.0L103.5,435.5L105.5,434.0L107.5,432.6L109.5,431.1L111.6,429.7L113.6,428.3L115.6,426.9L117.6,425.6L119.7,424.2L121.7,422.9L123.7,421.5L125.7,420.2L127.8,418.9L129.8,417.7L131.8,416.4L133.8,415.1L135.9,413.9L137.9,412.7L139.9,411.5L141.9,410.3L144.0,409.1L146.0,407.9L148.0,406.7L150.0,405.6L152.1,404.4L154.1,403.3L156.1,402.2L158.1,401.1L160.2,400.0L162.2,398.9L164.2,397.8L166.2,396.7L168.3,395.6L170.3,394.6L172.3,393.5L174.3,392.5L176.4,391.4L178.4,390.4L180.4,389.4L182.4,388.3L184.5,387.3L186.5,386.3L188.5,385.3L190.5,384.3L192.6,383.3L194.6,382.3L196.6,381.3L198.6,380.4L200.6,379.4L202.7,378.4L204.7,377.4L206.7,376.5L208.7,375.5L210.8,374.5L212.8,373.6L214.8,372.6L216.8,371.6L218.9,370.7L220.9,369.7L222.9,368.7L224.9,367.8L227.0,366.8L229.0,365.8L231.0,364.8L233.0,363.8L235.1,362.8L237.1,361.8L239.1,360.8L241.1,359.8L243.2,358.7L245.2,357.7L247.2,356.6L249.2,355.5L251.3,354.4L253.3,353.3L255.3,352.1L257.3,351.0L259.4,349.8L261.4,348.5L263.4,347.2L265.4,345.8L267.5,344.4L269.5,343.0L271.5,341.5L273.5,340.0L275.6,338.5L277.6,336.9L279.6,335.3L281.6,333.6L283.7,331.9L285.7,330.2L287.7,328.4L289.7,326.6L291.8,324.8L293.8,323.0L295.8,321.1L297.8,319.2L299.9,317.3L301.9,315.3L303.9,313.4L305.9,311.4L308.0,309.5L310.0,307.5L312.0,305.6L314.0,303.7L316.1,301.8L318.1,299.9L320.1,298.1L322.1,296.3L324.2,294.6L326.2,292.8L328.2,291.1L330.2,289.4L332.3,287.7L334.3,286.0L336.3,284.2L338.3,282.4L340.4,280.7L342.4,278.9L344.4,277.2L346.4,275.4L348.5,273.6L350.5,271.8L352.5,269.9L354.5,268.0L356.5,265.8L358.6,263.6L360.6,261.3L362.6,258.8L364.6,256.3L366.7,253.7L368.7,251.0L370.7,248.3L372.7,245.5L374.8,242.6L376.8,239.8L378.8,236.8L380.8,233.8L382.9,230.8L384.9,227.8L386.9,224.8L388.9,221.8L391.0,218.8L393.0,215.8L395.0,212.8L397.0,209.9L399.1,206.9L401.1,204.0L403.1,201.2L405.1,198.3L407.2,195.5L409.2,192.7L411.2,189.8L413.2,187.0L415.3,184.2L417.3,181.3L419.3,178.5L421.3,175.8L423.4,173.1L425.4,170.3L427.4,167.6L429.4,164.9L431.5,162.2L433.5,159.5L435.5,156.9L437.5,154.4L439.6,151.9L441.6,149.6L443.6,147.2L445.6,144.9L447.7,142.6L449.7,140.3L451.7,138.0L453.7,135.8L455.8,133.5L457.8,131.4L459.8,129.2L461.8,127.1L463.9,125.1L465.9,123.0L467.9,121.1L469.9,119.2L472.0,117.3L474.0,115.5L476.0,113.8L478.0,112.1L480.1,110.5L482.1,108.9L484.1,107.3L486.1,105.8L488.2,104.3L490.2,102.8L492.2,101.4L494.2,100.0L496.3,98.6L498.3,97.3L500.3,96.0L502.3,94.7L504.4,93.4L506.4,92.2L508.4,91.1L510.4,89.9L512.5,88.8L514.5,87.8L516.5,86.7L518.5,85.8L520.5,84.8L522.6,83.9L524.6,83.0L526.6,82.1L528.6,81.3L530.7,80.5L532.7,79.7L534.7,78.9L536.7,78.1L538.8,77.4L540.8,76.6L542.8,75.9L544.8,75.1L546.9,74.4L548.9,73.6L550.9,72.8L552.9,72.0L555.0,71.3L557.0,70.5L559.0,69.7L561.0,68.9L563.1,68.1L565.1,67.4L567.1,66.6L569.1,65.8L571.2,65.0L573.2,64.3L575.2,63.5L577.2,62.8L579.3,62.0L581.3,61.2L583.3,60.5L585.3,59.7L587.4,59.0L589.4,58.2L591.4,57.4L593.4,56.7L595.5,55.9L597.5,55.1L599.5,54.3L601.5,53.6L603.6,52.8L605.6,52.0L607.6,51.2L609.6,50.5L611.7,49.7L613.7,48.9L615.7,48.2L617.7,47.4L619.8,46.6L621.8,45.9L623.8,45.1L625.8,44.4L627.9,43.6L629.9,42.9L631.9,42.2L633.9,41.4L636.0,40.7L638.0,40.0L640.0,39.3L642.0,38.5L644.1,37.8L646.1,37.1L646.0,38.6L646.0,39.0L646.0,39.4L646.0,39.7L646.0,40.0L646.0,40.3L645.9,40.7L645.9,41.1L645.9,41.6L645.8,42.2L645.8,42.8L645.8,43.5L645.7,44.3L645.6,45.1L645.6,46.1L645.5,47.2L645.4,48.5L645.2,49.8L645.1,51.4L644.9,53.0L644.7,54.8L644.4,56.8L644.1,58.9L644.1,59.4L643.8,61.1L643.4,63.4L642.9,65.8L642.3,68.2L642.0,69.4L641.7,70.6L640.9,73.0L640.0,75.2L638.9,77.5L638.0,79.1L637.6,79.7L636.1,81.9L634.3,84.2L633.9,84.7L632.2,86.7L631.9,87.0L629.9,89.3L627.9,91.4L626.8,92.6L625.8,93.6L623.8,95.7L623.4,96.2L621.8,97.8L619.8,99.9L617.7,102.0L615.7,104.0L613.7,106.1L611.7,108.1L609.6,110.1L607.6,112.1L605.6,114.1L603.6,116.1L601.5,118.1L599.5,120.0L597.5,121.9L595.5,123.8L593.4,125.7L591.4,127.6L589.4,129.4L587.4,131.2L585.3,133.0L583.3,134.8L581.3,136.6L579.3,138.4L577.2,140.1L575.2,141.8L573.2,143.5L571.2,145.2L569.1,146.9L567.1,148.5L565.1,150.2L563.1,151.8L561.0,153.4L559.0,155.0L557.0,156.6L555.0,158.2L552.9,159.7L550.9,161.3L548.9,162.8L546.9,164.3L544.8,165.9L542.8,167.4L540.8,168.8L538.8,170.3L536.7,171.8L534.7,173.2L532.7,174.7L530.7,176.1L528.6,177.5L526.6,179.0L524.6,180.4L522.6,181.8L520.5,183.2L518.5,184.5L516.5,185.9L514.5,187.3L512.5,188.6L510.4,190.0L508.4,191.3L506.4,192.6L504.4,194.0L502.3,195.3L500.3,196.6L498.3,197.9L496.3,199.2L494.2,200.5L492.2,201.8L490.2,203.0L488.2,204.3L486.1,205.6L484.1,206.8L482.1,208.1L480.1,209.3L478.0,210.6L476.0,211.8L474.0,213.0L472.0,214.3L469.9,215.5L467.9,216.7L465.9,217.9L463.9,219.2L461.8,220.4L459.8,221.6L457.8,222.8L455.8,224.0L453.7,225.2L451.7,226.4L449.7,227.6L447.7,228.8L445.6,230.1L443.6,231.3L441.6,232.5L439.6,233.7L437.5,234.9L435.5,236.2L433.5,237.4L431.5,238.7L429.4,239.9L427.4,241.2L425.4,242.5L423.4,243.9L421.3,245.2L419.3,246.6L417.3,248.0L415.3,249.5L413.2,251.0L411.2,252.5L409.2,254.0L407.2,255.6L405.1,257.2L403.1,258.9L401.1,260.6L399.1,262.4L397.0,264.2L395.0,266.0L393.0,267.9L391.0,269.8L388.9,271.8L386.9,273.8L384.9,275.9L382.9,278.0L380.8,280.2L378.8,282.4L376.8,284.6L374.8,286.8L372.7,289.0L370.7,291.2L368.7,293.4L366.7,295.5L364.6,297.7L362.6,299.8L360.6,302.0L358.6,304.1L356.5,306.2L354.5,308.3L352.5,310.4L350.5,312.4L348.5,314.5L346.4,316.5L344.4,318.5L342.4,320.5L340.4,322.5L338.3,324.4L336.3,326.4L334.3,328.3L332.3,330.4L330.2,332.6L328.2,334.8L326.2,337.1L324.2,339.5L322.1,342.0L320.1,344.5L318.1,347.1L316.1,349.7L314.0,352.3L312.0,355.0L310.0,357.6L308.0,360.3L305.9,363.1L303.9,365.9L301.9,368.7L299.9,371.5L297.8,374.3L295.8,377.1L293.8,379.9L291.8,382.7L289.7,385.5L287.7,388.3L285.7,391.0L283.7,393.7L281.6,396.3L279.6,398.7L277.6,401.0L275.6,403.3L273.5,405.5L271.5,407.6L269.5,409.7L267.5,411.8L265.4,413.9L263.4,416.0L261.4,418.0L259.4,420.0L257.3,421.9L255.3,423.8L253.3,425.6L251.3,427.5L249.2,429.3L247.2,431.1L245.2,432.8L243.2,434.6L241.1,436.3L239.1,438.0L237.1,439.7L235.1,441.4L233.0,443.1L231.0,444.7L229.0,446.3L227.0,447.9L224.9,449.4L222.9,451.0L220.9,452.5L218.9,454.0L216.8,455.4L214.8,456.8L212.8,458.2L210.8,459.6L208.7,461.0L206.7,462.3L204.7,463.6L202.7,464.9L200.6,466.2L198.6,467.4L196.6,468.7L194.6,469.9L192.6,471.1L190.5,472.3L188.5,473.5L186.5,474.7L184.5,475.8L182.4,477.0L180.4,478.2L178.4,479.3L176.4,480.4L174.3,481.6L172.3,482.7L170.3,483.8L168.3,485.0L166.2,486.1L164.2,487.2L162.2,488.3L160.2,489.3L158.1,490.4L156.1,491.5L154.1,492.5L152.1,493.5L150.0,494.5L148.0,495.5L146.0,496.4L144.0,497.3L141.9,498.2L139.9,499.1L137.9,500.0L135.9,500.8L133.8,501.6L131.8,502.4L129.8,503.2L127.8,504.0L125.7,504.7L123.7,505.4L121.7,506.2L119.7,506.9L117.6,507.6L115.6,508.3L113.6,509.0L111.6,509.7L109.5,510.4L107.5,511.2L105.5,511.9L103.5,512.6L101.4,513.3L99.4,514.0L97.4,514.8L95.4,515.5L93.3,516.2L91.3,516.9L89.3,517.6L87.3,518.3L85.2,519.0L83.2,519.7L81.2,520.4L79.2,521.1L77.1,521.8L75.1,522.5L73.1,523.2L71.1,523.9L69.0,524.7L67.0,525.4L65.0,526.1L63.0,526.8L60.9,527.6L58.9,528.3L56.9,529.1L54.9,529.8L52.8,530.6L50.8,531.3L48.8,532.1L46.8,532.8L44.7,533.6L42.7,534.3L40.7,535.1L40.7,534.3" fill="none" stroke="#ffff00" stroke-width="2.5" stroke-linejoin="round" stroke-dasharray="1.6 1.8"/>
<path d="M267.9,409.8L267.9,406.5L267.9,406.2L267.9,405.9L267.9,405.6L267.9,405.2L267.9,404.8L268.0,404.3L268.0,403.8L268.0,403.2L268.0,402.6L268.1,401.8L268.1,401.0L268.1,400.1L268.2,399.1L268.2,398.0L268.3,396.8L268.4,395.9L268.4,395.4L268.5,394.0L268.6,392.4L268.7,390.7L268.8,389.1L269.0,387.1L269.3,385.2L269.3,384.5L269.5,383.3L269.8,381.3L270.1,379.4L270.3,378.5L270.6,377.6L270.8,376.5L271.0,375.7L271.3,374.8L271.6,374.0L271.8,373.4L272.3,372.2L272.8,371.0L273.0,370.4L273.3,369.9L273.8,369.0L274.0,368.6L274.3,368.1L274.8,367.2L275.1,366.7L275.3,366.4L275.8,365.6L276.3,364.8L276.7,364.1L277.2,363.4L277.7,362.7L278.2,362.0L278.7,361.4L279.2,360.7L279.6,360.2L280.2,359.4L280.7,358.8L281.2,358.2L281.7,357.6L282.2,357.1L282.7,356.5L283.2,355.9L283.7,355.4L284.2,354.8L284.6,354.3L285.1,353.8L285.6,353.2L286.1,352.7L286.6,352.2L287.1,351.7L287.6,351.2L288.1,350.7L288.6,350.2L289.1,349.7L289.6,349.2L290.1,348.7L290.6,348.3L291.1,347.8L291.6,347.3L292.1,346.9L292.5,346.4L293.0,345.9L293.5,345.5L294.0,345.0L294.5,344.6L295.0,344.1L295.5,343.7L296.0,343.3L296.5,342.8L297.0,342.4L297.5,341.9L298.0,341.5L298.5,341.1L299.0,340.7L299.5,340.2L300.0,339.8L300.5,339.4L300.9,339.0L301.4,338.5L301.9,338.1L302.4,337.7L302.9,337.3L303.4,336.8L303.9,336.4L304.4,336.0L304.9,335.6L305.4,335.2L305.9,334.7L306.4,334.3L306.9,333.9L307.4,333.5L307.9,333.0L308.4,332.6L308.8,332.2L309.3,331.7L309.8,331.3L310.3,330.8L310.8,330.4L311.3,329.9L311.8,329.5L312.3,329.0L312.8,328.6L313.3,328.1L313.8,327.6L314.3,327.2L314.8,326.7L315.3,326.2L315.8,325.7L316.3,325.2L316.7,324.7L317.2,324.2L317.7,323.7L318.2,323.2L318.7,322.6L319.2,322.1L319.7,321.6L320.2,321.1L320.7,320.5L321.2,320.0L321.7,319.5L322.2,318.9L322.7,318.4L323.2,317.8L323.7,317.3L324.2,316.7L324.6,316.2L325.1,315.6L325.6,315.1L326.1,314.6L326.6,314.0L327.1,313.5L327.6,312.9L328.1,312.4L328.6,311.9L329.1,311.3L329.6,310.8L330.1,310.3L330.6,309.7L331.1,309.2L331.6,308.7L332.1,308.1L332.5,307.6L333.0,307.1L333.5,306.6L334.0,306.0L334.5,305.5L335.0,305.0L335.5,304.5L336.0,304.0L336.5,303.4L337.0,302.9L337.5,302.4L338.0,301.9L338.5,301.4L339.0,300.8L339.5,300.3L340.0,299.8L340.5,299.3L340.9,298.7L341.4,298.2L341.9,297.7L342.4,297.2L342.9,296.6L343.4,296.1L343.9,295.5L344.4,295.0L344.9,294.5L345.4,293.9L345.9,293.4L346.4,292.9L346.9,292.3L347.4,291.8L347.9,291.3L348.4,290.8L348.8,290.3L349.3,289.7L349.8,289.2L350.3,288.7L350.8,288.2L351.3,287.6L351.8,287.1L352.3,286.6L352.8,286.0L353.3,285.5L353.8,284.9L354.3,284.4L354.8,283.8L355.3,283.3L355.8,282.7L356.3,282.1L356.7,281.5L357.2,280.9L357.7,280.3L358.2,279.7L358.7,279.1L359.2,278.5L359.7,277.9L360.2,277.2L360.7,276.6L361.2,275.9L361.7,275.2L362.2,274.6L362.7,273.9L363.2,273.2L363.7,272.5L364.2,271.8L364.6,271.1L365.1,270.4L365.6,269.7L366.1,268.9L366.6,268.2L367.1,267.4L367.6,266.7L368.1,265.9L368.6,265.2L369.1,264.4L369.6,263.7L370.1,262.9L370.6,262.1L371.1,261.3L371.6,260.5L372.1,259.8L372.5,259.0L373.0,258.2L373.5,257.4L374.0,256.6L374.5,255.8L375.0,255.0L375.5,254.2L376.0,253.4L376.5,252.6L377.0,251.8L377.5,251.0L378.0,250.2L378.5,249.4L379.0,248.6L379.5,247.8L380.0,247.0L380.5,246.2L380.9,245.4L381.4,244.5L381.9,243.7L382.4,242.9L382.9,242.1L383.4,241.3L383.9,240.5L384.4,239.7L384.9,238.8L385.4,238.0L385.9,237.2L386.4,236.4L386.9,235.6L387.4,234.8L387.9,234.0L388.4,233.1L388.8,232.3L389.3,231.5L389.8,230.7L390.3,229.9L390.8,229.1L391.3,228.3L391.8,227.5L392.3,226.7L392.8,225.9L393.3,225.1L393.8,224.4L394.3,223.6L394.8,222.8L395.3,222.0L395.8,221.2L396.3,220.5L396.7,219.7L397.2,218.9L397.7,218.2L398.2,217.4L398.7,216.7L399.2,215.9L399.7,215.2L400.2,214.4L400.7,213.7L401.2,213.0L401.7,212.2L402.2,211.5L402.7,210.8L403.2,210.0L403.7,209.3L404.2,208.6L404.6,207.9L405.1,207.2L405.6,206.5L406.1,205.8L406.6,205.1L407.1,204.4L407.6,203.7L408.1,203.1L408.6,202.4L409.1,201.7L409.6,201.0L410.1,200.3L410.6,199.6L411.1,198.9L411.6,198.2L412.1,197.5L412.5,196.8L413.0,196.1L413.5,195.4L414.0,194.7L414.5,193.9L415.0,193.2L415.5,192.5L415.5,193.6L415.5,193.9L415.4,194.3L415.4,194.7L415.4,195.0L415.4,195.3L415.3,195.6L415.3,196.0L415.3,196.5L415.2,197.0L415.2,197.5L415.1,198.2L415.1,198.9L415.0,199.4L415.0,199.7L414.9,200.6L414.8,201.6L414.7,202.7L414.5,203.8L414.3,205.4L414.1,206.9L414.0,207.5L413.9,208.5L413.6,210.3L413.2,212.2L413.0,213.1L412.8,214.2L412.5,215.4L412.3,216.3L412.1,217.4L411.8,218.4L411.6,219.1L411.1,220.6L410.6,222.1L410.3,222.7L410.1,223.3L409.6,224.5L409.4,224.9L409.1,225.6L408.6,226.5L408.3,227.1L408.1,227.5L407.6,228.3L407.1,229.1L406.6,229.9L406.1,230.6L405.6,231.3L405.1,232.0L404.6,232.7L404.2,233.3L403.7,233.8L403.2,234.5L402.7,235.1L402.2,235.7L401.7,236.2L401.2,236.8L400.7,237.3L400.2,237.9L399.7,238.4L399.2,238.9L398.7,239.4L398.2,239.9L397.7,240.4L397.2,240.9L396.7,241.4L396.3,241.9L395.8,242.4L395.3,242.9L394.8,243.4L394.3,243.9L393.8,244.3L393.3,244.8L392.8,245.3L392.3,245.8L391.8,246.2L391.3,246.7L390.8,247.2L390.3,247.6L389.8,248.1L389.3,248.5L388.8,249.0L388.4,249.4L387.9,249.9L387.4,250.4L386.9,250.8L386.4,251.3L385.9,251.7L385.4,252.2L384.9,252.6L384.4,253.1L383.9,253.6L383.4,254.0L382.9,254.5L382.4,255.0L381.9,255.5L381.4,256.0L380.9,256.5L380.5,257.0L380.0,257.5L379.5,258.0L379.0,258.5L378.5,259.1L378.0,259.6L377.5,260.2L377.0,260.7L376.5,261.3L376.0,261.9L375.5,262.5L375.0,263.1L374.5,263.7L374.0,264.3L373.5,265.0L373.0,265.6L372.5,266.3L372.1,267.0L371.6,267.6L371.1,268.3L370.6,269.0L370.1,269.7L369.6,270.4L369.1,271.1L368.6,271.8L368.1,272.5L367.6,273.2L367.1,274.0L366.6,274.7L366.1,275.4L365.6,276.1L365.1,276.8L364.6,277.6L364.2,278.3L363.7,279.0L363.2,279.7L362.7,280.4L362.2,281.2L361.7,281.9L361.2,282.6L360.7,283.3L360.2,284.0L359.7,284.7L359.2,285.4L358.7,286.2L358.2,286.9L357.7,287.6L357.2,288.3L356.7,289.0L356.3,289.6L355.8,290.3L355.3,291.0L354.8,291.7L354.3,292.4L353.8,293.1L353.3,293.8L352.8,294.4L352.3,295.1L351.8,295.8L351.3,296.5L350.8,297.1L350.3,297.8L349.8,298.4L349.3,299.1L348.8,299.7L348.4,300.4L347.9,301.0L347.4,301.7L346.9,302.3L346.4,302.9L345.9,303.6L345.4,304.2L344.9,304.8L344.4,305.4L343.9,306.0L343.4,306.6L342.9,307.2L342.4,307.9L341.9,308.5L341.4,309.1L340.9,309.7L340.5,310.3L340.0,310.9L339.5,311.5L339.0,312.0L338.5,312.6L338.0,313.2L337.5,313.8L337.0,314.4L336.5,315.0L336.0,315.6L335.5,316.2L335.0,316.8L334.5,317.4L334.0,318.0L333.5,318.6L333.0,319.2L332.5,319.8L332.1,320.5L331.6,321.1L331.1,321.8L330.6,322.4L330.1,323.1L329.6,323.7L329.1,324.4L328.6,325.0L328.1,325.7L327.6,326.4L327.1,327.1L326.6,327.7L326.1,328.4L325.6,329.1L325.1,329.8L324.6,330.5L324.2,331.2L323.7,331.9L323.2,332.6L322.7,333.3L322.2,334.0L321.7,334.7L321.2,335.4L320.7,336.2L320.2,336.9L319.7,337.6L319.2,338.3L318.7,339.0L318.2,339.8L317.7,340.5L317.2,341.2L316.7,342.0L316.3,342.7L315.8,343.4L315.3,344.2L314.8,344.9L314.3,345.6L313.8,346.4L313.3,347.1L312.8,347.8L312.3,348.5L311.8,349.3L311.3,350.0L310.8,350.7L310.3,351.5L309.8,352.2L309.3,352.9L308.8,353.6L308.4,354.4L307.9,355.1L307.4,355.8L306.9,356.6L306.4,357.3L305.9,358.1L305.4,358.8L304.9,359.5L304.4,360.3L303.9,361.0L303.4,361.8L302.9,362.5L302.4,363.3L301.9,364.0L301.4,364.8L300.9,365.5L300.5,366.3L300.0,367.0L299.5,367.8L299.0,368.5L298.5,369.3L298.0,370.0L297.5,370.7L297.0,371.5L296.5,372.2L296.0,372.9L295.5,373.7L295.0,374.4L294.5,375.1L294.0,375.9L293.5,376.6L293.0,377.3L292.5,378.1L292.1,378.8L291.6,379.5L291.1,380.2L290.6,380.9L290.1,381.6L289.6,382.4L289.1,383.1L288.6,383.8L288.1,384.5L287.6,385.2L287.1,385.9L286.6,386.6L286.1,387.3L285.6,388.1L285.1,388.8L284.6,389.5L284.2,390.1L283.7,390.8L283.2,391.5L282.7,392.2L282.2,392.9L281.7,393.5L281.2,394.2L280.7,394.8L280.2,395.5L279.7,396.1L279.2,396.7L278.7,397.3L278.2,397.9L277.7,398.5L277.2,399.1L276.7,399.7L276.3,400.3L275.8,400.9L275.3,401.5L274.8,402.0L274.3,402.6L273.8,403.2L273.3,403.8L272.8,404.3L272.3,404.9L271.8,405.4L271.3,406.0L270.8,406.6L270.3,407.1L269.8,407.7L269.3,408.2L268.8,408.7L268.4,409.3L267.9,409.8M192.5,475.0L192.6,471.8L192.6,471.5L192.6,471.2L192.6,470.9L192.6,470.5L192.6,470.1L192.6,469.6L192.6,469.1L192.7,468.5L192.7,467.8L192.7,467.1L192.7,466.3L192.8,465.4L192.8,464.4L192.9,463.3L193.0,462.1L193.0,460.8L193.1,459.4L193.2,457.9L193.4,456.3L193.5,454.6L193.7,452.8L193.9,451.0L194.2,449.2L194.5,447.4L194.5,447.0L194.8,445.6L195.2,443.9L195.5,442.7L195.7,442.2L196.3,440.6L196.5,439.9L196.9,439.0L197.5,437.7L197.7,437.4L198.5,436.0L199.6,434.4L200.6,433.0L201.0,432.4L201.6,431.7L202.5,430.5L203.6,429.2L204.3,428.4L204.6,428.1L205.6,427.0L206.4,426.1L207.6,424.9L208.6,423.9L208.9,423.6L209.6,422.9L210.6,422.0L211.6,421.0L212.6,420.1L213.6,419.2L214.6,418.3L215.2,417.7L215.6,417.4L216.6,416.5L217.7,415.6L218.7,414.8L219.7,413.9L220.7,413.1L221.7,412.3L222.7,411.4L223.7,410.6L224.7,409.8L225.7,409.0L226.7,408.2L227.7,407.5L228.7,406.7L229.7,405.9L230.7,405.1L231.7,404.4L232.7,403.6L233.7,402.9L234.7,402.1L235.7,401.4L236.8,400.6L237.8,399.9L238.8,399.2L239.8,398.4L240.8,397.7L241.8,397.0L242.8,396.3L243.8,395.6L244.8,394.8L245.8,394.1L246.8,393.4L247.8,392.7L248.8,392.0L249.8,391.3L250.8,390.5L251.8,389.8L252.8,389.1L253.8,388.4L254.9,387.7L255.9,386.9L256.9,386.2L257.9,385.5L258.9,384.7L259.9,384.0L260.9,383.2L261.9,382.5L262.9,381.7L263.9,380.9L264.9,380.1L265.9,379.2L266.9,378.4L267.9,377.5L268.9,376.6L269.9,375.7L270.9,374.8L271.9,373.9L272.9,373.0L274.0,372.0L275.0,371.0L276.0,370.0L277.0,369.0L278.0,368.0L279.0,366.9L280.0,365.8L281.0,364.7L282.0,363.6L283.0,362.5L284.0,361.4L285.0,360.2L286.0,359.0L287.0,357.8L288.0,356.6L289.0,355.4L290.0,354.2L291.0,352.9L292.0,351.7L293.1,350.4L294.1,349.1L295.1,347.8L296.1,346.5L297.1,345.2L298.1,343.9L299.1,342.5L300.1,341.2L301.1,339.9L302.1,338.5L303.1,337.2L304.1,335.8L305.1,334.5L306.1,333.1L307.1,331.8L308.1,330.4L309.1,329.1L310.1,327.8L311.2,326.4L312.2,325.1L313.2,323.8L314.2,322.5L315.2,321.2L316.2,320.0L317.2,318.7L318.2,317.5L319.2,316.2L320.2,315.0L321.2,313.9L322.2,312.7L323.2,311.5L324.2,310.4L325.2,309.3L326.2,308.2L327.2,307.1L328.2,306.0L329.2,304.9L330.3,303.9L331.3,302.8L332.3,301.8L333.3,300.7L334.3,299.6L335.3,298.6L336.3,297.5L337.3,296.5L338.3,295.4L339.3,294.3L340.3,293.3L341.3,292.2L342.3,291.2L343.3,290.1L344.3,289.1L345.3,288.0L346.3,287.0L347.3,286.0L348.4,284.9L349.4,283.9L350.4,282.9L351.4,281.8L352.4,280.7L353.4,279.6L354.4,278.5L355.4,277.3L356.4,276.1L357.4,274.9L358.4,273.6L359.4,272.3L360.4,271.0L361.4,269.6L362.4,268.2L363.4,266.8L364.4,265.3L365.4,263.9L366.4,262.4L367.5,260.9L368.5,259.4L369.5,257.8L370.5,256.3L371.5,254.7L372.5,253.2L373.5,251.6L374.5,250.0L375.5,248.4L376.5,246.8L377.5,245.2L378.5,243.6L379.5,242.0L380.5,240.4L381.5,238.7L382.5,237.1L383.5,235.5L384.5,233.8L385.6,232.2L386.6,230.6L387.6,229.0L388.6,227.4L389.6,225.8L390.6,224.2L391.6,222.6L392.6,221.0L393.6,219.5L394.6,217.9L395.6,216.4L396.6,214.8L397.6,213.3L398.6,211.8L399.6,210.3L400.6,208.8L401.6,207.3L402.6,205.9L403.6,204.4L404.7,203.0L405.7,201.6L406.7,200.2L407.7,198.8L408.7,197.4L409.7,196.0L410.7,194.6L411.7,193.2L412.7,191.8L413.7,190.4L414.7,188.9L415.7,187.5L416.7,186.1L417.7,184.7L418.7,183.3L419.7,182.0L420.7,180.6L421.7,179.2L422.7,177.9L423.8,176.5L424.8,175.2L425.8,173.9L426.8,172.5L427.8,171.2L428.8,169.8L429.8,168.5L430.8,167.2L431.8,165.9L432.8,164.6L433.8,163.3L434.8,162.0L435.8,160.7L436.8,159.4L437.8,158.2L438.8,157.0L439.8,155.8L440.8,154.6L441.9,153.5L442.9,152.4L443.9,151.2L444.9,150.1L445.9,149.0L446.9,147.9L447.9,146.8L448.9,145.7L449.9,144.6L450.9,143.5L451.9,142.4L452.9,141.3L453.9,140.2L454.9,139.2L455.9,138.1L456.9,137.1L457.9,136.0L458.9,135.0L459.9,134.0L461.0,133.0L462.0,132.0L463.0,131.0L464.0,130.0L465.0,129.1L466.0,128.1L467.0,127.2L468.0,126.2L469.0,125.3L470.0,124.4L471.0,123.5L472.0,122.7L473.0,121.8L474.0,121.0L475.0,120.1L476.0,119.3L477.0,118.5L478.0,117.7L479.1,117.0L480.1,116.2L481.1,115.5L482.1,114.7L483.1,114.0L484.1,113.3L485.1,112.6L486.1,111.9L487.1,111.2L488.1,110.5L489.1,109.8L490.1,109.1L491.1,108.5L492.1,107.8L493.1,107.2L493.1,104.6L493.1,104.9L493.0,105.2L493.0,105.6L493.0,106.1L492.9,106.3L492.9,106.7L492.9,107.0L492.8,107.4L492.7,107.9L492.7,108.4L492.6,109.0L492.5,109.6L492.4,110.3L492.3,111.0L492.1,111.9L491.9,112.7L491.7,113.7L491.5,114.7L491.2,115.8L490.8,117.0L490.4,118.2L490.1,119.0L490.0,119.4L489.4,120.7L489.1,121.3L488.7,122.0L488.1,123.2L487.9,123.5L487.1,124.9L486.1,126.4L485.9,126.7L485.1,127.9L484.6,128.6L484.1,129.4L483.1,130.8L482.1,132.2L481.3,133.3L481.1,133.6L480.1,135.0L479.2,136.2L479.1,136.4L478.0,137.8L477.0,139.2L476.8,139.6L476.0,140.6L475.0,142.0L474.0,143.4L473.0,144.8L472.0,146.2L471.0,147.6L470.4,148.4L470.0,149.0L469.0,150.3L468.0,151.7L467.0,153.1L466.0,154.5L465.0,155.9L464.0,157.3L463.0,158.7L462.0,160.1L461.0,161.5L459.9,162.8L458.9,164.2L457.9,165.6L456.9,167.0L455.9,168.4L454.9,169.8L453.9,171.2L452.9,172.5L451.9,173.9L450.9,175.3L449.9,176.7L448.9,178.1L447.9,179.4L446.9,180.8L445.9,182.2L444.9,183.5L443.9,184.9L442.9,186.3L441.9,187.6L440.8,189.0L439.8,190.3L438.8,191.7L437.8,193.0L436.8,194.4L435.8,195.7L434.8,197.0L433.8,198.3L432.8,199.6L431.8,200.9L430.8,202.2L429.8,203.5L428.8,204.8L427.8,206.0L426.8,207.3L425.8,208.6L424.8,209.8L423.8,211.0L422.7,212.2L421.7,213.4L420.7,214.6L419.7,215.8L418.7,217.0L417.7,218.1L416.7,219.3L415.7,220.4L414.7,221.6L413.7,222.7L412.7,223.9L411.7,225.0L410.7,226.1L409.7,227.2L408.7,228.4L407.7,229.5L406.7,230.6L405.7,231.8L404.7,233.0L403.6,234.1L402.6,235.3L401.6,236.5L400.6,237.7L399.6,238.9L398.6,240.1L397.6,241.4L396.6,242.6L395.6,243.9L394.6,245.2L393.6,246.5L392.6,247.9L391.6,249.2L390.6,250.6L389.6,252.0L388.6,253.4L387.6,254.8L386.6,256.2L385.6,257.7L384.5,259.1L383.5,260.6L382.5,262.1L381.5,263.5L380.5,265.0L379.5,266.5L378.5,267.9L377.5,269.4L376.5,270.9L375.5,272.3L374.5,273.7L373.5,275.2L372.5,276.6L371.5,278.0L370.5,279.4L369.5,280.8L368.5,282.2L367.5,283.5L366.4,284.9L365.4,286.2L364.4,287.6L363.4,288.9L362.4,290.3L361.4,291.6L360.4,292.9L359.4,294.2L358.4,295.5L357.4,296.8L356.4,298.1L355.4,299.3L354.4,300.6L353.4,301.8L352.4,303.1L351.4,304.3L350.4,305.5L349.4,306.7L348.4,307.9L347.3,309.1L346.3,310.3L345.3,311.4L344.3,312.6L343.3,313.7L342.3,314.9L341.3,316.0L340.3,317.2L339.3,318.3L338.3,319.5L337.3,320.6L336.3,321.8L335.3,322.9L334.3,324.1L333.3,325.2L332.3,326.4L331.3,327.7L330.3,328.9L329.2,330.2L328.2,331.5L327.2,332.8L326.2,334.1L325.2,335.4L324.2,336.8L323.2,338.2L322.2,339.5L321.2,340.9L320.2,342.3L319.2,343.8L318.2,345.2L317.2,346.6L316.2,348.0L315.2,349.5L314.2,350.9L313.2,352.3L312.2,353.8L311.2,355.2L310.1,356.7L309.1,358.2L308.1,359.7L307.1,361.2L306.1,362.7L305.1,364.2L304.1,365.7L303.1,367.2L302.1,368.7L301.1,370.3L300.1,371.8L299.1,373.3L298.1,374.8L297.1,376.3L296.1,377.8L295.1,379.3L294.1,380.8L293.1,382.3L292.0,383.8L291.0,385.4L290.0,386.9L289.0,388.4L288.0,389.9L287.0,391.4L286.0,392.8L285.0,394.3L284.0,395.7L283.0,397.1L282.0,398.4L281.0,399.7L280.0,401.0L279.0,402.2L278.0,403.3L277.0,404.5L276.0,405.6L275.0,406.7L274.0,407.9L272.9,409.0L271.9,410.1L270.9,411.2L269.9,412.3L268.9,413.3L267.9,414.4L266.9,415.5L265.9,416.6L264.9,417.6L263.9,418.6L262.9,419.7L261.9,420.7L260.9,421.7L259.9,422.7L258.9,423.7L257.9,424.6L256.9,425.6L255.9,426.6L254.9,427.5L253.8,428.4L252.8,429.4L251.8,430.3L250.8,431.2L249.8,432.2L248.8,433.1L247.8,434.0L246.8,434.9L245.8,435.8L244.8,436.7L243.8,437.6L242.8,438.5L241.8,439.4L240.8,440.2L239.8,441.1L238.8,442.0L237.8,442.8L236.8,443.7L235.7,444.5L234.7,445.4L233.7,446.2L232.7,447.0L231.7,447.8L230.7,448.6L229.7,449.5L228.7,450.3L227.7,451.1L226.7,451.8L225.7,452.6L224.7,453.4L223.7,454.2L222.7,454.9L221.7,455.7L220.7,456.4L219.7,457.1L218.7,457.9L217.7,458.6L216.6,459.3L215.6,460.0L214.6,460.7L213.6,461.4L212.6,462.1L211.6,462.8L210.6,463.5L209.6,464.2L208.6,464.8L207.6,465.5L206.6,466.2L205.6,466.8L204.6,467.5L203.6,468.1L202.6,468.8L201.6,469.4L200.6,470.1L199.6,470.7L198.5,471.3L197.5,471.9L196.5,472.6L195.5,473.2L194.5,473.8L193.5,474.4L192.5,475.0M117.6,512.5L117.6,509.3L117.6,508.9L117.6,508.6L117.6,508.2L117.6,507.8L117.6,507.3L117.7,506.7L117.7,506.1L117.7,505.5L117.7,504.7L117.7,503.9L117.8,503.0L117.8,502.0L117.9,500.9L117.9,499.6L118.0,498.3L118.1,496.8L118.2,495.2L118.3,493.5L118.4,491.7L118.6,489.8L118.7,487.8L119.0,485.8L119.1,484.8L119.2,483.7L119.5,481.7L119.8,479.7L120.2,477.8L120.6,476.5L120.7,475.9L121.3,474.1L122.0,472.4L122.1,472.1L122.7,470.7L123.6,469.1L124.8,467.1L125.1,466.6L126.0,465.2L126.6,464.4L127.6,463.1L128.1,462.4L129.3,460.8L129.6,460.5L131.1,458.7L131.4,458.3L132.6,457.0L133.9,455.6L135.6,453.8L136.8,452.5L137.1,452.2L138.6,450.7L140.1,449.3L141.6,447.8L143.1,446.4L144.7,445.0L146.2,443.6L147.7,442.3L149.2,441.0L150.7,439.7L152.2,438.4L153.7,437.1L155.2,435.8L156.7,434.6L158.2,433.4L159.7,432.2L161.2,431.0L162.7,429.8L164.2,428.6L165.7,427.5L167.2,426.4L168.7,425.2L170.2,424.1L171.8,423.0L173.3,422.0L174.8,420.9L176.3,419.8L177.8,418.8L179.3,417.7L180.8,416.7L182.3,415.7L183.8,414.7L185.3,413.7L186.8,412.7L188.3,411.7L189.8,410.8L191.3,409.8L192.8,408.9L194.3,407.9L195.8,407.0L197.3,406.1L198.9,405.2L200.4,404.3L201.9,403.4L203.4,402.5L204.9,401.6L206.4,400.7L207.9,399.9L209.4,399.0L210.9,398.1L212.4,397.3L213.9,396.5L215.4,395.6L216.9,394.8L218.4,394.0L219.9,393.2L221.4,392.3L222.9,391.5L224.4,390.7L226.0,389.9L227.5,389.1L229.0,388.3L230.5,387.6L232.0,386.8L233.5,386.0L235.0,385.2L236.5,384.5L238.0,383.7L239.5,382.9L241.0,382.1L242.5,381.4L244.0,380.6L245.5,379.9L247.0,379.1L248.5,378.3L250.0,377.6L251.5,376.8L253.1,376.0L254.6,375.3L256.1,374.5L257.6,373.7L259.1,372.9L260.6,372.1L262.1,371.3L263.6,370.5L265.1,369.7L266.6,368.8L268.1,367.9L269.6,367.0L271.1,366.1L272.6,365.1L274.1,364.1L275.6,363.1L277.1,362.1L278.6,361.0L280.2,359.9L281.7,358.7L283.2,357.5L284.7,356.3L286.2,355.0L287.7,353.7L289.2,352.4L290.7,351.0L292.2,349.6L293.7,348.1L295.2,346.6L296.7,345.1L298.2,343.5L299.7,341.9L301.2,340.2L302.7,338.5L304.2,336.8L305.7,335.1L307.3,333.4L308.8,331.6L310.3,329.8L311.8,328.0L313.3,326.2L314.8,324.4L316.3,322.7L317.8,320.9L319.3,319.1L320.8,317.3L322.3,315.6L323.8,313.9L325.3,312.2L326.8,310.6L328.3,309.0L329.8,307.4L331.3,305.8L332.8,304.3L334.4,302.8L335.9,301.2L337.4,299.7L338.9,298.2L340.4,296.7L341.9,295.2L343.4,293.6L344.9,292.1L346.4,290.5L347.9,289.0L349.4,287.5L350.9,286.0L352.4,284.4L353.9,282.8L355.4,281.2L356.9,279.5L358.4,277.7L359.9,275.9L361.5,273.9L363.0,271.9L364.5,269.9L366.0,267.7L367.5,265.5L369.0,263.3L370.5,261.0L372.0,258.7L373.5,256.3L375.0,253.9L376.5,251.5L378.0,249.1L379.5,246.7L381.0,244.3L382.5,241.8L384.0,239.4L385.5,236.9L387.0,234.4L388.6,232.0L390.1,229.5L391.6,227.1L393.1,224.7L394.6,222.3L396.1,220.0L397.6,217.7L399.1,215.4L400.6,213.1L402.1,210.9L403.6,208.7L405.1,206.5L406.6,204.4L408.1,202.3L409.6,200.2L411.1,198.1L412.6,195.9L414.1,193.8L415.7,191.6L417.2,189.4L418.7,187.2L420.2,185.0L421.7,182.8L423.2,180.6L424.7,178.4L426.2,176.3L427.7,174.2L429.2,172.1L430.7,170.0L432.2,167.9L433.7,165.8L435.2,163.7L436.7,161.6L438.2,159.5L439.7,157.5L441.2,155.5L442.8,153.6L444.3,151.7L445.8,149.8L447.3,148.0L448.8,146.2L450.3,144.4L451.8,142.7L453.3,140.9L454.8,139.1L456.3,137.4L457.8,135.7L459.3,134.0L460.8,132.3L462.3,130.6L463.8,128.9L465.3,127.3L466.8,125.7L468.3,124.1L469.8,122.6L471.4,121.0L472.9,119.5L474.4,118.1L475.9,116.6L477.4,115.2L478.9,113.8L480.4,112.5L481.9,111.2L483.4,109.9L484.9,108.6L486.4,107.4L487.9,106.2L489.4,105.0L490.9,103.9L492.4,102.7L493.9,101.6L495.4,100.4L496.9,99.3L498.5,98.3L500.0,97.2L501.5,96.1L503.0,95.1L504.5,94.1L506.0,93.1L507.5,92.1L509.0,91.2L510.5,90.2L512.0,89.3L513.5,88.4L515.0,87.6L516.5,86.7L518.0,85.9L519.5,85.1L521.0,84.3L522.5,83.5L524.0,82.8L525.6,82.0L527.1,81.3L528.6,80.6L530.1,79.9L531.6,79.3L533.1,78.6L534.6,78.0L536.1,77.4L537.6,76.8L539.1,76.2L540.6,75.6L542.1,75.0L543.6,74.4L545.1,73.9L546.6,73.3L548.1,72.7L549.6,72.2L551.1,71.6L552.7,71.0L554.2,70.4L555.7,69.9L557.2,69.3L558.7,68.7L560.2,68.1L561.7,67.5L563.2,66.9L564.7,66.3L566.2,65.7L567.7,65.1L567.7,66.5L567.7,66.8L567.6,67.3L567.6,67.5L567.6,67.8L567.6,68.2L567.6,68.5L567.5,69.0L567.5,69.4L567.5,70.0L567.4,70.6L567.4,71.3L567.3,72.0L567.3,72.9L567.2,73.9L567.1,75.0L567.0,76.2L566.9,77.6L566.7,79.1L566.5,80.7L566.3,82.5L566.2,83.4L566.1,84.5L565.8,86.6L565.4,88.8L565.0,91.2L564.7,92.8L564.5,93.6L564.0,96.1L563.3,98.6L563.2,98.9L562.5,101.0L561.7,103.3L560.5,105.9L560.2,106.5L559.2,108.3L558.7,109.2L557.7,110.7L557.2,111.5L555.9,113.2L555.7,113.6L554.2,115.5L553.8,115.9L552.7,117.4L551.3,118.9L549.6,120.8L548.4,122.2L548.1,122.5L546.6,124.2L545.1,125.8L543.6,127.4L542.1,129.0L540.6,130.6L539.1,132.2L537.6,133.7L536.1,135.3L534.6,136.8L533.1,138.3L531.6,139.8L530.1,141.3L528.6,142.8L527.1,144.2L525.6,145.7L524.0,147.1L522.5,148.5L521.0,149.9L519.5,151.3L518.0,152.7L516.5,154.1L515.0,155.4L513.5,156.8L512.0,158.1L510.5,159.4L509.0,160.8L507.5,162.1L506.0,163.3L504.5,164.6L503.0,165.9L501.5,167.2L500.0,168.4L498.5,169.7L496.9,170.9L495.4,172.1L493.9,173.3L492.4,174.6L490.9,175.8L489.4,176.9L487.9,178.1L486.4,179.3L484.9,180.5L483.4,181.6L481.9,182.8L480.4,183.9L478.9,185.1L477.4,186.2L475.9,187.3L474.4,188.4L472.9,189.5L471.4,190.6L469.8,191.7L468.3,192.8L466.8,193.9L465.3,195.0L463.8,196.0L462.3,197.1L460.8,198.2L459.3,199.2L457.8,200.3L456.3,201.3L454.8,202.4L453.3,203.4L451.8,204.4L450.3,205.5L448.8,206.5L447.3,207.5L445.8,208.5L444.3,209.5L442.8,210.6L441.2,211.6L439.7,212.6L438.2,213.6L436.7,214.6L435.2,215.6L433.7,216.6L432.2,217.7L430.7,218.7L429.2,219.8L427.7,220.8L426.2,221.9L424.7,223.0L423.2,224.1L421.7,225.2L420.2,226.3L418.7,227.5L417.2,228.6L415.7,229.8L414.1,231.1L412.6,232.4L411.1,233.7L409.6,235.0L408.1,236.4L406.6,237.8L405.1,239.3L403.6,240.8L402.1,242.4L400.6,244.0L399.1,245.7L397.6,247.4L396.1,249.2L394.6,251.0L393.1,252.9L391.6,254.9L390.1,256.8L388.6,258.9L387.0,260.9L385.5,263.0L384.0,265.1L382.5,267.2L381.0,269.3L379.5,271.4L378.0,273.5L376.5,275.5L375.0,277.6L373.5,279.6L372.0,281.7L370.5,283.7L369.0,285.7L367.5,287.7L366.0,289.6L364.5,291.6L363.0,293.5L361.5,295.4L359.9,297.3L358.4,299.2L356.9,301.1L355.4,302.9L353.9,304.7L352.4,306.5L350.9,308.3L349.4,310.0L347.9,311.8L346.4,313.5L344.9,315.2L343.4,316.9L341.9,318.6L340.4,320.3L338.9,322.0L337.4,323.7L335.9,325.4L334.4,327.1L332.8,328.8L331.3,330.6L329.8,332.5L328.3,334.4L326.8,336.3L325.3,338.3L323.8,340.3L322.3,342.4L320.8,344.5L319.3,346.5L317.8,348.6L316.3,350.7L314.8,352.9L313.3,355.0L311.8,357.2L310.3,359.4L308.8,361.7L307.3,363.9L305.7,366.2L304.2,368.5L302.7,370.8L301.2,373.1L299.7,375.3L298.2,377.6L296.7,379.9L295.2,382.2L293.7,384.5L292.2,386.8L290.7,389.2L289.2,391.5L287.7,393.7L286.2,396.0L284.7,398.1L283.2,400.1L281.7,402.1L280.2,403.9L278.6,405.6L277.1,407.3L275.6,409.0L274.1,410.6L272.6,412.3L271.1,413.9L269.6,415.5L268.1,417.1L266.6,418.7L265.1,420.2L263.6,421.7L262.1,423.2L260.6,424.6L259.1,426.1L257.6,427.5L256.1,428.9L254.6,430.3L253.1,431.7L251.5,433.1L250.0,434.4L248.5,435.8L247.0,437.1L245.5,438.4L244.0,439.8L242.5,441.1L241.0,442.4L239.5,443.6L238.0,444.9L236.5,446.2L235.0,447.4L233.5,448.6L232.0,449.8L230.5,451.0L229.0,452.2L227.5,453.3L226.0,454.5L224.4,455.6L222.9,456.7L221.4,457.8L219.9,458.9L218.4,460.0L216.9,461.0L215.4,462.1L213.9,463.1L212.4,464.1L210.9,465.1L209.4,466.1L207.9,467.1L206.4,468.1L204.9,469.0L203.4,470.0L201.9,470.9L200.4,471.9L198.9,472.8L197.3,473.7L195.8,474.6L194.3,475.5L192.8,476.4L191.3,477.3L189.8,478.2L188.3,479.1L186.8,480.0L185.3,480.9L183.8,481.7L182.3,482.6L180.8,483.5L179.3,484.3L177.8,485.2L176.3,486.0L174.8,486.9L173.3,487.8L171.8,488.6L170.2,489.4L168.7,490.3L167.2,491.1L165.7,491.9L164.2,492.7L162.7,493.5L161.2,494.3L159.7,495.1L158.2,495.9L156.7,496.6L155.2,497.4L153.7,498.1L152.2,498.8L150.7,499.6L149.2,500.3L147.7,500.9L146.2,501.6L144.7,502.3L143.1,502.9L141.6,503.5L140.1,504.1L138.6,504.7L137.1,505.3L135.6,505.9L134.1,506.5L132.6,507.1L131.1,507.6L129.6,508.2L128.1,508.8L126.6,509.3L125.1,509.8L123.6,510.4L122.1,510.9L120.6,511.5L119.1,512.0L117.6,512.5M40.7,538.4L40.7,534.9L40.7,534.5L40.8,534.1L40.8,533.7L40.8,533.2L40.8,532.7L40.8,532.1L40.8,531.5L40.8,530.7L40.9,529.9L40.9,529.0L40.9,528.0L41.0,526.9L41.0,525.7L41.1,524.4L41.1,522.9L41.2,521.3L41.3,519.6L41.4,517.7L41.6,515.7L41.7,513.7L41.9,511.5L42.1,509.3L42.3,507.1L42.6,504.9L42.7,504.3L43.0,502.7L43.4,500.6L43.9,498.6L44.4,496.7L44.7,495.8L45.1,494.8L45.9,492.9L46.8,491.1L47.9,489.1L48.8,487.6L49.2,487.0L50.7,484.8L52.5,482.3L52.8,481.8L54.6,479.6L54.9,479.3L56.9,476.9L58.9,474.5L60.0,473.4L60.9,472.3L63.0,470.1L63.4,469.7L65.0,468.0L67.0,466.0L69.0,464.0L71.1,462.0L73.1,460.1L75.1,458.2L77.1,456.3L79.2,454.5L81.2,452.7L83.2,450.9L85.2,449.2L87.3,447.5L89.3,445.8L91.3,444.2L93.3,442.6L95.4,441.0L97.4,439.4L99.4,437.8L101.4,436.3L103.5,434.8L105.5,433.3L107.5,431.8L109.5,430.4L111.6,428.9L113.6,427.5L115.6,426.1L117.6,424.8L119.7,423.4L121.7,422.1L123.7,420.7L125.7,419.4L127.8,418.1L129.8,416.9L131.8,415.6L133.8,414.3L135.9,413.1L137.9,411.9L139.9,410.7L141.9,409.5L144.0,408.3L146.0,407.1L148.0,405.9L150.0,404.8L152.1,403.6L154.1,402.5L156.1,401.4L158.1,400.3L160.2,399.2L162.2,398.1L164.2,397.0L166.2,395.9L168.3,394.8L170.3,393.8L172.3,392.7L174.3,391.7L176.4,390.6L178.4,389.6L180.4,388.6L182.4,387.6L184.5,386.5L186.5,385.5L188.5,384.5L190.5,383.5L192.6,382.5L194.6,381.6L196.6,380.6L198.6,379.6L200.6,378.6L202.7,377.6L204.7,376.7L206.7,375.7L208.7,374.7L210.8,373.8L212.8,372.8L214.8,371.9L216.8,370.9L218.9,369.9L220.9,369.0L222.9,368.0L224.9,367.1L227.0,366.1L229.0,365.1L231.0,364.1L233.0,363.2L235.1,362.2L237.1,361.2L239.1,360.2L241.1,359.2L243.2,358.1L245.2,357.1L247.2,356.1L249.2,355.0L251.3,353.9L253.3,352.8L255.3,351.7L257.3,350.6L259.4,349.4L261.4,348.2L263.4,346.9L265.4,345.6L267.5,344.2L269.5,342.8L271.5,341.4L273.5,339.9L275.6,338.4L277.6,336.9L279.6,335.3L281.6,333.7L283.7,332.0L285.7,330.4L287.7,328.6L289.7,326.9L291.8,325.1L293.8,323.3L295.8,321.4L297.8,319.6L299.9,317.7L301.9,315.8L303.9,313.8L305.9,311.9L308.0,309.9L310.0,308.0L312.0,306.0L314.0,304.1L316.1,302.2L318.1,300.3L320.1,298.5L322.1,296.7L324.2,294.9L326.2,293.2L328.2,291.4L330.2,289.7L332.3,288.0L334.3,286.3L336.3,284.5L338.3,282.7L340.4,281.0L342.4,279.2L344.4,277.4L346.4,275.7L348.5,273.9L350.5,272.1L352.5,270.2L354.5,268.2L356.5,266.1L358.6,263.9L360.6,261.5L362.6,259.0L364.6,256.5L366.7,253.8L368.7,251.0L370.7,248.2L372.7,245.4L374.8,242.4L376.8,239.5L378.8,236.4L380.8,233.4L382.9,230.2L384.9,227.1L386.9,224.0L388.9,220.9L391.0,217.8L393.0,214.7L395.0,211.6L397.0,208.6L399.1,205.6L401.1,202.6L403.1,199.6L405.1,196.7L407.2,193.8L409.2,191.0L411.2,188.1L413.2,185.2L415.3,182.3L417.3,179.5L419.3,176.7L421.3,173.9L423.4,171.1L425.4,168.3L427.4,165.5L429.4,162.8L431.5,160.0L433.5,157.3L435.5,154.7L437.5,152.1L439.6,149.6L441.6,147.2L443.6,144.8L445.6,142.5L447.7,140.1L449.7,137.8L451.7,135.5L453.7,133.2L455.8,131.0L457.8,128.7L459.8,126.6L461.8,124.4L463.9,122.3L465.9,120.3L467.9,118.3L469.9,116.4L472.0,114.5L474.0,112.7L476.0,110.9L478.0,109.2L480.1,107.5L482.1,105.9L484.1,104.3L486.1,102.8L488.2,101.3L490.2,99.8L492.2,98.3L494.2,96.9L496.3,95.5L498.3,94.1L500.3,92.8L502.3,91.5L504.4,90.2L506.4,89.0L508.4,87.8L510.4,86.7L512.5,85.5L514.5,84.5L516.5,83.4L518.5,82.4L520.5,81.4L522.6,80.5L524.6,79.6L526.6,78.7L528.6,77.9L530.7,77.1L532.7,76.2L534.7,75.4L536.7,74.7L538.8,73.9L540.8,73.1L542.8,72.4L544.8,71.6L546.9,70.8L548.9,70.1L550.9,69.3L552.9,68.5L555.0,67.7L557.0,66.9L559.0,66.1L561.0,65.3L563.1,64.5L565.1,63.7L567.1,62.9L569.1,62.2L571.2,61.4L573.2,60.6L575.2,59.8L577.2,59.1L579.3,58.3L581.3,57.5L583.3,56.7L585.3,56.0L587.4,55.2L589.4,54.4L591.4,53.6L593.4,52.9L595.5,52.1L597.5,51.3L599.5,50.5L601.5,49.7L603.6,48.9L605.6,48.1L607.6,47.4L609.6,46.6L611.7,45.8L613.7,45.0L615.7,44.2L617.7,43.5L619.8,42.7L621.8,41.9L623.8,41.1L625.8,40.4L627.9,39.6L629.9,38.9L631.9,38.1L633.9,37.4L636.0,36.6L638.0,35.9L640.0,35.2L642.0,34.5L644.1,33.7L646.1,33.0L646.0,34.5L646.0,34.9L646.0,35.3L646.0,35.6L646.0,35.9L646.0,36.2L645.9,36.6L645.9,37.1L645.9,37.6L645.8,38.1L645.8,38.7L645.8,39.5L645.7,40.3L645.6,41.2L645.6,42.2L645.5,43.3L645.4,44.6L645.2,46.0L645.1,47.5L644.9,49.2L644.7,51.1L644.4,53.1L644.1,55.3L644.1,55.8L643.8,57.6L643.4,60.0L642.9,62.4L642.3,65.0L642.0,66.2L641.7,67.5L640.9,70.0L640.0,72.4L638.9,75.0L638.0,76.7L637.6,77.4L636.1,79.8L634.3,82.3L633.9,82.8L632.2,85.1L631.9,85.4L629.9,87.8L627.9,90.2L626.8,91.4L625.8,92.5L623.8,94.7L623.4,95.2L621.8,97.0L619.8,99.2L617.7,101.3L615.7,103.5L613.7,105.6L611.7,107.7L609.6,109.8L607.6,111.8L605.6,113.8L603.6,115.8L601.5,117.8L599.5,119.8L597.5,121.7L595.5,123.7L593.4,125.5L591.4,127.4L589.4,129.3L587.4,131.1L585.3,132.9L583.3,134.7L581.3,136.5L579.3,138.3L577.2,140.0L575.2,141.8L573.2,143.5L571.2,145.2L569.1,146.8L567.1,148.5L565.1,150.1L563.1,151.8L561.0,153.4L559.0,155.0L557.0,156.6L555.0,158.2L552.9,159.7L550.9,161.3L548.9,162.8L546.9,164.3L544.8,165.8L542.8,167.3L540.8,168.8L538.8,170.3L536.7,171.8L534.7,173.2L532.7,174.7L530.7,176.1L528.6,177.5L526.6,178.9L524.6,180.3L522.6,181.7L520.5,183.1L518.5,184.5L516.5,185.9L514.5,187.2L512.5,188.6L510.4,189.9L508.4,191.3L506.4,192.6L504.4,193.9L502.3,195.3L500.3,196.6L498.3,197.9L496.3,199.2L494.2,200.5L492.2,201.7L490.2,203.0L488.2,204.3L486.1,205.6L484.1,206.8L482.1,208.1L480.1,209.3L478.0,210.6L476.0,211.8L474.0,213.0L472.0,214.3L469.9,215.5L467.9,216.7L465.9,218.0L463.9,219.2L461.8,220.4L459.8,221.6L457.8,222.8L455.8,224.0L453.7,225.2L451.7,226.5L449.7,227.7L447.7,228.9L445.6,230.1L443.6,231.3L441.6,232.6L439.6,233.8L437.5,235.0L435.5,236.3L433.5,237.5L431.5,238.8L429.4,240.1L427.4,241.4L425.4,242.8L423.4,244.1L421.3,245.5L419.3,247.0L417.3,248.4L415.3,249.9L413.2,251.4L411.2,253.0L409.2,254.6L407.2,256.2L405.1,257.9L403.1,259.7L401.1,261.4L399.1,263.2L397.0,265.1L395.0,267.0L393.0,269.0L391.0,271.0L388.9,273.1L386.9,275.2L384.9,277.3L382.9,279.5L380.8,281.7L378.8,283.9L376.8,286.2L374.8,288.4L372.7,290.7L370.7,292.9L368.7,295.1L366.7,297.3L364.6,299.5L362.6,301.7L360.6,303.8L358.6,306.0L356.5,308.1L354.5,310.2L352.5,312.4L350.5,314.4L348.5,316.5L346.4,318.5L344.4,320.5L342.4,322.5L340.4,324.5L338.3,326.5L336.3,328.5L334.3,330.5L332.3,332.6L330.2,334.8L328.2,337.0L326.2,339.4L324.2,341.7L322.1,344.2L320.1,346.7L318.1,349.2L316.1,351.8L314.0,354.4L312.0,357.0L310.0,359.6L308.0,362.3L305.9,365.0L303.9,367.8L301.9,370.5L299.9,373.3L297.8,376.1L295.8,378.9L293.8,381.7L291.8,384.4L289.7,387.2L287.7,390.0L285.7,392.7L283.7,395.4L281.6,398.0L279.6,400.5L277.6,402.8L275.6,405.1L273.5,407.3L271.5,409.5L269.5,411.7L267.5,413.8L265.4,415.9L263.4,418.0L261.4,420.1L259.4,422.1L257.3,424.0L255.3,426.0L253.3,427.8L251.3,429.7L249.2,431.5L247.2,433.4L245.2,435.2L243.2,436.9L241.1,438.7L239.1,440.5L237.1,442.2L235.1,443.9L233.0,445.6L231.0,447.2L229.0,448.9L227.0,450.5L224.9,452.1L222.9,453.6L220.9,455.1L218.9,456.6L216.8,458.1L214.8,459.6L212.8,461.0L210.8,462.4L208.7,463.8L206.7,465.1L204.7,466.5L202.7,467.8L200.6,469.1L198.6,470.3L196.6,471.6L194.6,472.9L192.6,474.1L190.5,475.3L188.5,476.5L186.5,477.7L184.5,478.9L182.4,480.1L180.4,481.3L178.4,482.4L176.4,483.6L174.3,484.7L172.3,485.9L170.3,487.0L168.3,488.2L166.2,489.3L164.2,490.4L162.2,491.5L160.2,492.6L158.1,493.7L156.1,494.8L154.1,495.8L152.1,496.9L150.0,497.9L148.0,498.9L146.0,499.8L144.0,500.8L141.9,501.7L139.9,502.6L137.9,503.5L135.9,504.3L133.8,505.1L131.8,505.9L129.8,506.7L127.8,507.5L125.7,508.3L123.7,509.0L121.7,509.7L119.7,510.5L117.6,511.2L115.6,511.9L113.6,512.6L111.6,513.4L109.5,514.1L107.5,514.8L105.5,515.5L103.5,516.3L101.4,517.0L99.4,517.8L97.4,518.5L95.4,519.2L93.3,519.9L91.3,520.7L89.3,521.4L87.3,522.1L85.2,522.8L83.2,523.5L81.2,524.2L79.2,524.9L77.1,525.7L75.1,526.4L73.1,527.1L71.1,527.8L69.0,528.5L67.0,529.3L65.0,530.0L63.0,530.8L60.9,531.5L58.9,532.3L56.9,533.0L54.9,533.8L52.8,534.5L50.8,535.3L48.8,536.1L46.8,536.8L44.7,537.6L42.7,538.4L40.7,539.2L40.7,538.4" fill="none" stroke="#00ee00" stroke-width="2.5" stroke-linejoin="round" stroke-dasharray="6 2.5 1.5 2.5"/>
<path d="M267.9,416.1L267.9,399.7L268.0,399.4L268.0,399.1L268.1,398.7L268.2,398.2L268.2,397.8L268.3,397.3L268.4,396.9L268.5,396.0L268.6,395.1L268.7,394.0L268.8,392.9L269.0,391.2L269.3,389.6L269.3,389.0L269.5,387.8L269.8,386.0L270.1,384.1L270.3,383.2L270.6,382.1L270.8,381.0L271.0,380.2L271.3,379.2L271.6,378.2L271.8,377.6L272.3,376.3L272.8,374.9L273.0,374.2L273.3,373.7L273.8,372.5L274.0,372.1L274.3,371.5L274.8,370.4L275.1,369.8L275.3,369.5L275.8,368.5L276.3,367.6L276.7,366.7L277.2,365.9L277.7,365.0L278.2,364.2L278.7,363.4L279.2,362.6L279.6,362.0L280.2,361.1L280.7,360.4L281.2,359.7L281.7,359.0L282.2,358.3L282.7,357.6L283.2,356.9L283.7,356.3L284.2,355.6L284.6,355.0L285.1,354.3L285.6,353.7L286.1,353.0L286.6,352.4L287.1,351.8L287.6,351.2L288.1,350.6L288.6,350.0L289.1,349.4L289.6,348.8L290.1,348.2L290.6,347.6L291.1,347.0L291.6,346.4L292.1,345.9L292.5,345.3L293.0,344.7L293.5,344.1L294.0,343.5L294.5,342.9L295.0,342.3L295.5,341.7L296.0,341.2L296.5,340.6L297.0,340.0L297.5,339.4L298.0,338.8L298.5,338.2L299.0,337.5L299.5,336.9L300.0,336.3L300.5,335.7L300.9,335.1L301.4,334.5L301.9,333.8L302.4,333.2L302.9,332.6L303.4,331.9L303.9,331.3L304.4,330.7L304.9,330.0L305.4,329.4L305.9,328.7L306.4,328.1L306.9,327.4L307.4,326.8L307.9,326.1L308.4,325.5L308.8,324.8L309.3,324.2L309.8,323.5L310.3,322.9L310.8,322.2L311.3,321.6L311.8,321.0L312.3,320.3L312.8,319.7L313.3,319.0L313.8,318.4L314.3,317.8L314.8,317.2L315.3,316.5L315.8,315.9L316.3,315.3L316.7,314.7L317.2,314.1L317.7,313.5L318.2,312.9L318.7,312.3L319.2,311.7L319.7,311.1L320.2,310.6L320.7,310.0L321.2,309.4L321.7,308.8L322.2,308.3L322.7,307.7L323.2,307.1L323.7,306.6L324.2,306.0L324.6,305.4L325.1,304.9L325.6,304.3L326.1,303.8L326.6,303.2L327.1,302.7L327.6,302.1L328.1,301.6L328.6,301.0L329.1,300.4L329.6,299.9L330.1,299.3L330.6,298.8L331.1,298.2L331.6,297.6L332.1,297.1L332.5,296.5L333.0,296.0L333.5,295.4L334.0,294.8L334.5,294.3L335.0,293.7L335.5,293.1L336.0,292.6L336.5,292.0L337.0,291.5L337.5,290.9L338.0,290.4L338.5,289.8L339.0,289.3L339.5,288.7L340.0,288.2L340.5,287.6L340.9,287.1L341.4,286.6L341.9,286.0L342.4,285.5L342.9,284.9L343.4,284.4L343.9,283.8L344.4,283.3L344.9,282.7L345.4,282.2L345.9,281.6L346.4,281.1L346.9,280.5L347.4,279.9L347.9,279.4L348.4,278.8L348.8,278.2L349.3,277.7L349.8,277.1L350.3,276.5L350.8,275.9L351.3,275.3L351.8,274.8L352.3,274.2L352.8,273.6L353.3,273.0L353.8,272.4L354.3,271.7L354.8,271.1L355.3,270.5L355.8,269.9L356.3,269.3L356.7,268.7L357.2,268.0L357.7,267.4L358.2,266.8L358.7,266.2L359.2,265.5L359.7,264.9L360.2,264.3L360.7,263.6L361.2,263.0L361.7,262.3L362.2,261.7L362.7,261.0L363.2,260.4L363.7,259.8L364.2,259.1L364.6,258.5L365.1,257.8L365.6,257.2L366.1,256.5L366.6,255.9L367.1,255.2L367.6,254.6L368.1,253.9L368.6,253.3L369.1,252.6L369.6,252.0L370.1,251.3L370.6,250.6L371.1,250.0L371.6,249.3L372.1,248.7L372.5,248.0L373.0,247.4L373.5,246.7L374.0,246.1L374.5,245.4L375.0,244.8L375.5,244.1L376.0,243.4L376.5,242.8L377.0,242.1L377.5,241.4L378.0,240.8L378.5,240.1L379.0,239.4L379.5,238.8L380.0,238.1L380.5,237.4L380.9,236.8L381.4,236.1L381.9,235.4L382.4,234.8L382.9,234.1L383.4,233.4L383.9,232.7L384.4,232.1L384.9,231.4L385.4,230.7L385.9,230.1L386.4,229.4L386.9,228.7L387.4,228.0L387.9,227.3L388.4,226.7L388.8,226.0L389.3,225.3L389.8,224.6L390.3,224.0L390.8,223.3L391.3,222.6L391.8,221.9L392.3,221.2L392.8,220.6L393.3,219.9L393.8,219.2L394.3,218.5L394.8,217.9L395.3,217.2L395.8,216.5L396.3,215.8L396.7,215.1L397.2,214.5L397.7,213.8L398.2,213.1L398.7,212.4L399.2,211.7L399.7,211.0L400.2,210.4L400.7,209.7L401.2,209.0L401.7,208.3L402.2,207.6L402.7,206.9L403.2,206.2L403.7,205.5L404.2,204.8L404.6,204.1L405.1,203.4L405.6,202.7L406.1,202.0L406.6,201.3L407.1,200.6L407.6,199.9L408.1,199.2L408.6,198.5L409.1,197.8L409.6,197.0L410.1,196.3L410.6,195.6L411.1,194.9L411.6,194.1L412.1,193.4L412.5,192.7L413.0,191.9L413.5,191.2L414.0,190.4L414.5,189.7L415.0,188.9L415.5,188.2L415.5,200.8L415.4,201.1L415.3,201.4L415.3,201.6L415.2,202.0L415.1,202.5L415.0,202.8L414.9,203.2L414.8,203.7L414.7,204.3L414.5,204.9L414.3,205.8L414.1,206.8L414.0,207.2L413.9,208.0L413.6,209.4L413.2,211.0L413.0,211.8L412.8,212.7L412.5,213.8L412.3,214.7L412.1,215.8L411.8,216.8L411.6,217.5L411.1,219.0L410.6,220.6L410.3,221.4L410.1,222.0L409.6,223.3L409.4,223.8L409.1,224.5L408.6,225.6L408.3,226.3L408.1,226.7L407.6,227.7L407.1,228.7L406.6,229.7L406.1,230.6L405.6,231.5L405.1,232.3L404.6,233.2L404.2,234.0L403.7,234.7L403.2,235.6L402.7,236.4L402.2,237.2L401.7,238.0L401.2,238.8L400.7,239.6L400.2,240.5L399.7,241.3L399.2,242.1L398.7,242.9L398.2,243.7L397.7,244.5L397.2,245.4L396.7,246.2L396.3,247.1L395.8,247.9L395.3,248.8L394.8,249.7L394.3,250.5L393.8,251.4L393.3,252.3L392.8,253.2L392.3,254.1L391.8,255.0L391.3,255.8L390.8,256.7L390.3,257.6L389.8,258.5L389.3,259.4L388.8,260.3L388.4,261.2L387.9,262.1L387.4,263.0L386.9,263.8L386.4,264.7L385.9,265.6L385.4,266.4L384.9,267.3L384.4,268.2L383.9,269.0L383.4,269.9L382.9,270.7L382.4,271.5L381.9,272.4L381.4,273.2L380.9,274.0L380.5,274.9L380.0,275.7L379.5,276.5L379.0,277.3L378.5,278.1L378.0,278.9L377.5,279.7L377.0,280.5L376.5,281.3L376.0,282.0L375.5,282.8L375.0,283.6L374.5,284.4L374.0,285.1L373.5,285.9L373.0,286.7L372.5,287.4L372.1,288.2L371.6,288.9L371.1,289.6L370.6,290.4L370.1,291.1L369.6,291.8L369.1,292.6L368.6,293.3L368.1,294.0L367.6,294.7L367.1,295.5L366.6,296.2L366.1,296.9L365.6,297.6L365.1,298.3L364.6,299.0L364.2,299.7L363.7,300.3L363.2,301.0L362.7,301.7L362.2,302.4L361.7,303.0L361.2,303.7L360.7,304.4L360.2,305.0L359.7,305.7L359.2,306.3L358.7,307.0L358.2,307.6L357.7,308.3L357.2,308.9L356.7,309.6L356.3,310.2L355.8,310.8L355.3,311.5L354.8,312.1L354.3,312.7L353.8,313.3L353.3,314.0L352.8,314.6L352.3,315.2L351.8,315.8L351.3,316.4L350.8,317.1L350.3,317.7L349.8,318.3L349.3,318.9L348.8,319.5L348.4,320.2L347.9,320.8L347.4,321.4L346.9,322.0L346.4,322.6L345.9,323.2L345.4,323.8L344.9,324.4L344.4,325.0L343.9,325.7L343.4,326.3L342.9,326.9L342.4,327.5L341.9,328.1L341.4,328.6L340.9,329.2L340.5,329.8L340.0,330.4L339.5,331.0L339.0,331.6L338.5,332.2L338.0,332.8L337.5,333.4L337.0,334.0L336.5,334.5L336.0,335.1L335.5,335.7L335.0,336.3L334.5,336.9L334.0,337.4L333.5,338.0L333.0,338.6L332.5,339.2L332.1,339.8L331.6,340.3L331.1,340.9L330.6,341.5L330.1,342.1L329.6,342.6L329.1,343.2L328.6,343.8L328.1,344.4L327.6,344.9L327.1,345.5L326.6,346.1L326.1,346.6L325.6,347.2L325.1,347.7L324.6,348.3L324.2,348.9L323.7,349.4L323.2,350.0L322.7,350.5L322.2,351.1L321.7,351.6L321.2,352.2L320.7,352.7L320.2,353.3L319.7,353.8L319.2,354.4L318.7,355.0L318.2,355.5L317.7,356.1L317.2,356.6L316.7,357.2L316.3,357.7L315.8,358.3L315.3,358.8L314.8,359.4L314.3,359.9L313.8,360.5L313.3,361.0L312.8,361.6L312.3,362.2L311.8,362.7L311.3,363.3L310.8,363.9L310.3,364.4L309.8,365.0L309.3,365.6L308.8,366.1L308.4,366.7L307.9,367.3L307.4,367.8L306.9,368.4L306.4,369.0L305.9,369.5L305.4,370.1L304.9,370.7L304.4,371.3L303.9,371.8L303.4,372.4L302.9,373.0L302.4,373.5L301.9,374.1L301.4,374.7L300.9,375.3L300.5,375.8L300.0,376.4L299.5,377.0L299.0,377.6L298.5,378.2L298.0,378.7L297.5,379.3L297.0,379.9L296.5,380.5L296.0,381.1L295.5,381.7L295.0,382.3L294.5,382.9L294.0,383.4L293.5,384.0L293.0,384.6L292.5,385.2L292.1,385.8L291.6,386.4L291.1,387.0L290.6,387.6L290.1,388.2L289.6,388.9L289.1,389.5L288.6,390.1L288.1,390.7L287.6,391.3L287.1,392.0L286.6,392.6L286.1,393.2L285.6,393.9L285.1,394.5L284.6,395.2L284.2,395.8L283.7,396.4L283.2,397.1L282.7,397.7L282.2,398.4L281.7,399.0L281.2,399.7L280.7,400.3L280.2,400.9L279.7,401.6L279.2,402.2L278.7,402.9L278.2,403.5L277.7,404.1L277.2,404.8L276.7,405.4L276.3,406.0L275.8,406.6L275.3,407.2L274.8,407.9L274.3,408.5L273.8,409.1L273.3,409.7L272.8,410.3L272.3,410.9L271.8,411.4L271.3,412.0L270.8,412.6L270.3,413.2L269.8,413.8L269.3,414.4L268.8,414.9L268.4,415.5L267.9,416.1M192.5,484.8L192.6,481.0L192.6,480.7L192.6,480.4L192.6,480.0L192.6,479.7L192.6,479.2L192.6,478.8L192.6,478.2L192.7,477.7L192.7,477.0L192.7,476.3L192.7,475.4L192.8,474.5L192.8,473.5L192.9,472.4L193.0,471.2L193.0,469.9L193.1,468.4L193.2,466.8L193.4,465.1L193.5,463.4L193.7,461.5L193.9,459.5L194.2,457.5L194.5,455.5L194.5,455.1L194.8,453.5L195.2,451.5L195.5,450.2L195.7,449.5L196.3,447.6L196.5,446.7L196.9,445.6L197.5,444.0L197.7,443.6L198.5,441.7L199.6,439.6L199.7,439.3L200.6,437.7L201.0,436.9L201.6,435.9L202.5,434.3L203.6,432.6L204.3,431.5L204.6,431.1L205.6,429.7L206.4,428.5L206.6,428.3L207.6,427.0L208.6,425.7L208.9,425.3L209.6,424.4L210.6,423.2L211.6,422.0L212.6,420.8L213.6,419.7L214.6,418.6L215.2,418.0L215.6,417.5L216.6,416.5L217.7,415.4L218.7,414.4L219.7,413.4L220.7,412.5L221.7,411.5L222.7,410.5L223.7,409.6L224.7,408.7L225.7,407.8L226.7,406.9L227.7,406.0L228.7,405.1L229.7,404.3L230.7,403.4L231.7,402.5L232.7,401.7L233.7,400.9L234.7,400.0L235.7,399.2L236.8,398.4L237.8,397.6L238.8,396.8L239.8,395.9L240.8,395.1L241.8,394.3L242.8,393.5L243.8,392.7L244.8,391.9L245.8,391.1L246.8,390.3L247.8,389.5L248.8,388.7L249.8,387.8L250.8,387.0L251.8,386.2L252.8,385.3L253.8,384.4L254.9,383.5L255.9,382.6L256.9,381.7L257.9,380.8L258.9,379.8L259.9,378.8L260.9,377.8L261.9,376.8L262.9,375.8L263.9,374.8L264.9,373.7L265.9,372.7L266.9,371.6L267.9,370.5L268.9,369.4L269.9,368.2L270.9,367.1L271.9,365.9L272.9,364.7L274.0,363.5L275.0,362.2L276.0,361.0L277.0,359.7L278.0,358.5L279.0,357.2L280.0,355.9L281.0,354.6L282.0,353.2L283.0,351.9L284.0,350.6L285.0,349.2L286.0,347.8L287.0,346.5L288.0,345.1L289.0,343.7L290.0,342.3L291.0,340.9L292.0,339.5L293.1,338.1L294.1,336.7L295.1,335.3L296.1,333.9L297.1,332.5L298.1,331.1L299.1,329.7L300.1,328.3L301.1,326.9L302.1,325.6L303.1,324.2L304.1,322.9L305.1,321.5L306.1,320.2L307.1,318.9L308.1,317.7L309.1,316.4L310.1,315.1L311.2,313.9L312.2,312.7L313.2,311.5L314.2,310.4L315.2,309.2L316.2,308.1L317.2,306.9L318.2,305.8L319.2,304.7L320.2,303.6L321.2,302.5L322.2,301.4L323.2,300.3L324.2,299.2L325.2,298.1L326.2,297.0L327.2,295.9L328.2,294.8L329.2,293.6L330.3,292.5L331.3,291.4L332.3,290.3L333.3,289.2L334.3,288.2L335.3,287.1L336.3,286.0L337.3,284.9L338.3,283.8L339.3,282.7L340.3,281.6L341.3,280.5L342.3,279.4L343.3,278.3L344.3,277.2L345.3,276.0L346.3,274.8L347.3,273.7L348.4,272.5L349.4,271.2L350.4,270.0L351.4,268.8L352.4,267.5L353.4,266.3L354.4,265.0L355.4,263.7L356.4,262.4L357.4,261.2L358.4,259.9L359.4,258.6L360.4,257.3L361.4,255.9L362.4,254.6L363.4,253.3L364.4,252.0L365.4,250.7L366.4,249.4L367.5,248.1L368.5,246.7L369.5,245.4L370.5,244.1L371.5,242.7L372.5,241.4L373.5,240.1L374.5,238.7L375.5,237.4L376.5,236.0L377.5,234.6L378.5,233.3L379.5,231.9L380.5,230.5L381.5,229.2L382.5,227.8L383.5,226.4L384.5,225.1L385.6,223.7L386.6,222.3L387.6,220.9L388.6,219.6L389.6,218.2L390.6,216.8L391.6,215.4L392.6,214.0L393.6,212.7L394.6,211.3L395.6,209.9L396.6,208.5L397.6,207.1L398.6,205.7L399.6,204.2L400.6,202.8L401.6,201.4L402.6,199.9L403.6,198.5L404.7,197.0L405.7,195.6L406.7,194.1L407.7,192.6L408.7,191.1L409.7,189.6L410.7,188.0L411.7,186.5L412.7,185.0L413.7,183.4L414.7,181.9L415.7,180.4L416.7,178.9L417.7,177.3L418.7,175.8L419.7,174.3L420.7,172.8L421.7,171.3L422.7,169.9L423.8,168.4L424.8,166.9L425.8,165.5L426.8,164.0L427.8,162.5L428.8,161.1L429.8,159.6L430.8,158.2L431.8,156.7L432.8,155.3L433.8,153.8L434.8,152.4L435.8,151.0L436.8,149.7L437.8,148.3L438.8,147.0L439.8,145.6L440.8,144.3L441.9,143.1L442.9,141.8L443.9,140.6L444.9,139.3L445.9,138.1L446.9,136.8L447.9,135.6L448.9,134.4L449.9,133.2L450.9,131.9L451.9,130.7L452.9,129.5L453.9,128.3L454.9,127.2L455.9,126.0L456.9,124.8L457.9,123.6L458.9,122.5L459.9,121.4L461.0,120.2L462.0,119.1L463.0,118.0L464.0,116.9L465.0,115.8L466.0,114.7L467.0,113.7L468.0,112.6L469.0,111.6L470.0,110.6L471.0,109.6L472.0,108.6L473.0,107.6L474.0,106.6L475.0,105.7L476.0,104.7L477.0,103.8L478.0,102.9L479.1,102.0L480.1,101.2L481.1,100.3L482.1,99.5L483.1,98.6L484.1,97.8L485.1,97.0L486.1,96.2L487.1,95.4L488.1,94.6L489.1,93.8L490.1,93.0L491.1,92.2L492.1,91.4L493.1,90.7L493.1,92.3L493.1,92.7L493.1,93.1L493.0,93.4L493.0,93.7L493.0,94.1L493.0,94.5L493.0,94.9L492.9,95.4L492.9,96.0L492.9,96.6L492.8,97.3L492.7,98.2L492.7,99.1L492.6,100.1L492.5,101.3L492.4,102.6L492.3,104.1L492.1,105.7L491.9,107.6L491.7,109.5L491.5,111.7L491.2,114.1L491.1,114.6L490.8,116.6L490.4,119.3L490.1,121.2L490.0,122.1L489.4,125.0L489.1,126.3L488.7,128.0L488.1,130.5L487.9,131.0L487.1,133.9L487.0,134.1L486.1,136.8L485.9,137.3L485.1,139.4L484.6,140.4L484.1,141.7L483.1,143.7L482.1,145.7L481.3,147.1L481.1,147.6L480.1,149.3L479.2,150.7L479.1,151.0L478.0,152.6L477.0,154.1L476.8,154.6L476.0,155.6L475.0,157.1L474.0,158.6L473.0,160.0L472.0,161.3L471.0,162.7L470.4,163.5L470.0,164.0L469.0,165.3L468.0,166.6L467.0,167.8L466.0,169.1L465.0,170.3L464.0,171.5L463.0,172.7L462.0,173.9L461.0,175.0L459.9,176.2L458.9,177.3L457.9,178.5L456.9,179.6L455.9,180.7L454.9,181.8L453.9,182.9L452.9,184.0L451.9,185.0L450.9,186.1L449.9,187.2L448.9,188.2L447.9,189.3L446.9,190.3L445.9,191.4L444.9,192.5L443.9,193.5L442.9,194.6L441.9,195.6L440.8,196.7L439.8,197.8L438.8,198.9L437.8,199.9L436.8,201.0L435.8,202.1L434.8,203.2L433.8,204.4L432.8,205.5L431.8,206.6L430.8,207.8L429.8,209.0L428.8,210.1L427.8,211.3L426.8,212.6L425.8,213.8L424.8,215.0L423.8,216.3L422.7,217.6L421.7,218.9L420.7,220.3L419.7,221.6L418.7,223.0L417.7,224.4L416.7,225.9L415.7,227.3L414.7,228.8L413.7,230.3L412.7,231.8L411.7,233.3L410.7,234.9L409.7,236.5L408.7,238.1L407.7,239.7L406.7,241.3L405.7,243.0L404.7,244.7L403.6,246.4L402.6,248.1L401.6,249.8L400.6,251.5L399.6,253.2L398.6,254.9L397.6,256.6L396.6,258.3L395.6,260.0L394.6,261.7L393.6,263.4L392.6,265.1L391.6,266.8L390.6,268.4L389.6,270.0L388.6,271.6L387.6,273.2L386.6,274.8L385.6,276.4L384.5,277.9L383.5,279.5L382.5,281.0L381.5,282.5L380.5,284.0L379.5,285.5L378.5,287.0L377.5,288.5L376.5,289.9L375.5,291.3L374.5,292.8L373.5,294.2L372.5,295.6L371.5,297.0L370.5,298.4L369.5,299.7L368.5,301.1L367.5,302.4L366.4,303.8L365.4,305.1L364.4,306.4L363.4,307.7L362.4,308.9L361.4,310.2L360.4,311.4L359.4,312.7L358.4,313.9L357.4,315.2L356.4,316.4L355.4,317.6L354.4,318.9L353.4,320.1L352.4,321.3L351.4,322.6L350.4,323.8L349.4,325.0L348.4,326.2L347.3,327.4L346.3,328.6L345.3,329.8L344.3,331.0L343.3,332.2L342.3,333.3L341.3,334.5L340.3,335.7L339.3,336.8L338.3,338.0L337.3,339.2L336.3,340.3L335.3,341.5L334.3,342.6L333.3,343.8L332.3,344.9L331.3,346.1L330.3,347.2L329.2,348.3L328.2,349.5L327.2,350.6L326.2,351.7L325.2,352.8L324.2,353.9L323.2,355.0L322.2,356.2L321.2,357.3L320.2,358.4L319.2,359.5L318.2,360.6L317.2,361.7L316.2,362.9L315.2,364.0L314.2,365.2L313.2,366.3L312.2,367.5L311.2,368.6L310.1,369.8L309.1,370.9L308.1,372.1L307.1,373.2L306.1,374.4L305.1,375.6L304.1,376.7L303.1,377.9L302.1,379.1L301.1,380.3L300.1,381.4L299.1,382.6L298.1,383.8L297.1,385.0L296.1,386.2L295.1,387.5L294.1,388.7L293.1,389.9L292.0,391.2L291.0,392.5L290.0,393.8L289.0,395.1L288.0,396.4L287.0,397.7L286.0,399.0L285.0,400.3L284.0,401.6L283.0,402.9L282.0,404.2L281.0,405.5L280.0,406.7L279.0,408.0L278.0,409.2L277.0,410.4L276.0,411.6L275.0,412.8L274.0,414.0L272.9,415.1L271.9,416.3L270.9,417.5L269.9,418.6L268.9,419.8L267.9,420.9L266.9,422.0L265.9,423.2L264.9,424.3L263.9,425.4L262.9,426.4L261.9,427.5L260.9,428.6L259.9,429.6L258.9,430.7L257.9,431.7L256.9,432.7L255.9,433.7L254.9,434.7L253.8,435.7L252.8,436.7L251.8,437.7L250.8,438.6L249.8,439.6L248.8,440.6L247.8,441.5L246.8,442.5L245.8,443.5L244.8,444.4L243.8,445.3L242.8,446.3L241.8,447.2L240.8,448.1L239.8,449.0L238.8,450.0L237.8,450.9L236.8,451.8L235.7,452.7L234.7,453.5L233.7,454.4L232.7,455.3L231.7,456.2L230.7,457.0L229.7,457.9L228.7,458.7L227.7,459.5L226.7,460.4L225.7,461.2L224.7,462.0L223.7,462.8L222.7,463.6L221.7,464.4L220.7,465.2L219.7,466.0L218.7,466.8L217.7,467.5L216.6,468.3L215.6,469.0L214.6,469.8L213.6,470.5L212.6,471.2L211.6,472.0L210.6,472.7L209.6,473.4L208.6,474.1L207.6,474.8L206.6,475.5L205.6,476.2L204.6,476.9L203.6,477.6L202.6,478.2L201.6,478.9L200.6,479.6L199.6,480.3L198.5,480.9L197.5,481.6L196.5,482.2L195.5,482.9L194.5,483.5L193.5,484.2L192.5,484.8M117.6,524.4L117.6,521.1L117.6,520.8L117.6,520.4L117.6,520.0L117.6,519.6L117.6,519.1L117.7,518.5L117.7,517.9L117.7,517.2L117.7,516.5L117.7,515.6L117.8,514.7L117.8,513.6L117.9,512.4L117.9,511.2L118.0,509.7L118.1,508.2L118.2,506.5L118.3,504.7L118.4,502.8L118.6,500.7L118.7,498.6L119.0,496.4L119.1,495.3L119.2,494.1L119.5,491.8L119.8,489.5L120.2,487.3L120.6,485.8L120.7,485.0L121.3,482.8L122.0,480.6L122.1,480.3L122.7,478.3L123.6,476.2L124.8,473.4L125.1,472.8L126.0,470.8L126.6,469.7L127.6,467.9L128.1,466.9L129.3,464.8L129.6,464.4L131.1,462.0L131.4,461.4L132.6,459.7L133.9,457.8L134.1,457.5L135.6,455.5L136.8,453.9L137.1,453.5L138.6,451.6L140.1,449.8L141.6,448.1L143.1,446.4L144.7,444.7L146.2,443.1L147.7,441.6L149.2,440.0L150.7,438.6L152.2,437.1L153.7,435.7L155.2,434.3L156.7,433.0L158.2,431.6L159.7,430.3L161.2,429.1L162.7,427.8L164.2,426.6L165.7,425.4L167.2,424.2L168.7,423.0L170.2,421.8L171.8,420.7L173.3,419.6L174.8,418.5L176.3,417.4L177.8,416.3L179.3,415.2L180.8,414.2L182.3,413.2L183.8,412.1L185.3,411.1L186.8,410.1L188.3,409.1L189.8,408.2L191.3,407.2L192.8,406.2L194.3,405.3L195.8,404.3L197.3,403.4L198.9,402.5L200.4,401.6L201.9,400.7L203.4,399.8L204.9,398.9L206.4,398.0L207.9,397.1L209.4,396.3L210.9,395.4L212.4,394.5L213.9,393.7L215.4,392.9L216.9,392.0L218.4,391.2L219.9,390.4L221.4,389.5L222.9,388.7L224.4,387.9L226.0,387.1L227.5,386.3L229.0,385.5L230.5,384.7L232.0,383.9L233.5,383.1L235.0,382.3L236.5,381.5L238.0,380.7L239.5,379.9L241.0,379.1L242.5,378.3L244.0,377.5L245.5,376.7L247.0,375.9L248.5,375.1L250.0,374.2L251.5,373.4L253.1,372.6L254.6,371.7L256.1,370.8L257.6,369.9L259.1,369.0L260.6,368.0L262.1,367.0L263.6,366.0L265.1,365.0L266.6,363.9L268.1,362.8L269.6,361.7L271.1,360.5L272.6,359.3L274.1,358.0L275.6,356.7L277.1,355.4L278.6,354.0L280.2,352.6L281.7,351.1L283.2,349.6L284.7,348.1L286.2,346.5L287.7,344.9L289.2,343.2L290.7,341.5L292.2,339.8L293.7,338.1L295.2,336.3L296.7,334.5L298.2,332.7L299.7,330.8L301.2,329.0L302.7,327.2L304.2,325.3L305.7,323.5L307.3,321.6L308.8,319.8L310.3,318.0L311.8,316.2L313.3,314.4L314.8,312.7L316.3,311.0L317.8,309.3L319.3,307.7L320.8,306.0L322.3,304.5L323.8,302.9L325.3,301.3L326.8,299.7L328.3,298.2L329.8,296.6L331.3,295.0L332.8,293.4L334.4,291.7L335.9,290.2L337.4,288.6L338.9,287.0L340.4,285.4L341.9,283.8L343.4,282.3L344.9,280.7L346.4,279.0L347.9,277.4L349.4,275.7L350.9,274.0L352.4,272.3L353.9,270.5L355.4,268.7L356.9,266.9L358.4,265.0L359.9,263.1L361.5,261.2L363.0,259.3L364.5,257.4L366.0,255.4L367.5,253.5L369.0,251.6L370.5,249.6L372.0,247.7L373.5,245.7L375.0,243.7L376.5,241.7L378.0,239.7L379.5,237.7L381.0,235.7L382.5,233.7L384.0,231.6L385.5,229.6L387.0,227.6L388.6,225.5L390.1,223.5L391.6,221.4L393.1,219.4L394.6,217.3L396.1,215.3L397.6,213.2L399.1,211.1L400.6,209.0L402.1,206.9L403.6,204.8L405.1,202.7L406.6,200.6L408.1,198.4L409.6,196.2L411.1,194.0L412.6,191.8L414.1,189.5L415.7,187.2L417.2,184.9L418.7,182.6L420.2,180.3L421.7,178.0L423.2,175.8L424.7,173.5L426.2,171.3L427.7,169.1L429.2,166.9L430.7,164.7L432.2,162.5L433.7,160.3L435.2,158.2L436.7,156.0L438.2,153.9L439.7,151.8L441.2,149.7L442.8,147.6L444.3,145.7L445.8,143.7L447.3,141.9L448.8,140.0L450.3,138.1L451.8,136.3L453.3,134.4L454.8,132.6L456.3,130.8L457.8,129.0L459.3,127.2L460.8,125.4L462.3,123.7L463.8,122.0L465.3,120.3L466.8,118.6L468.3,117.0L469.8,115.3L471.4,113.7L472.9,112.2L474.4,110.6L475.9,109.1L477.4,107.7L478.9,106.2L480.4,104.8L481.9,103.5L483.4,102.1L484.9,100.8L486.4,99.6L487.9,98.3L489.4,97.1L490.9,95.8L492.4,94.6L493.9,93.5L495.4,92.3L496.9,91.1L498.5,90.0L500.0,88.9L501.5,87.8L503.0,86.7L504.5,85.7L506.0,84.7L507.5,83.6L509.0,82.6L510.5,81.7L512.0,80.7L513.5,79.8L515.0,78.9L516.5,78.0L518.0,77.1L519.5,76.3L521.0,75.4L522.5,74.6L524.0,73.9L525.6,73.1L527.1,72.4L528.6,71.6L530.1,70.9L531.6,70.3L533.1,69.6L534.6,68.9L536.1,68.3L537.6,67.7L539.1,67.0L540.6,66.4L542.1,65.8L543.6,65.2L545.1,64.6L546.6,64.0L548.1,63.4L549.6,62.8L551.1,62.2L552.7,61.6L554.2,61.0L555.7,60.4L557.2,59.8L558.7,59.2L560.2,58.6L561.7,58.0L563.2,57.4L564.7,56.7L566.2,56.1L567.7,55.5L567.7,56.9L567.7,57.3L567.6,57.7L567.6,58.0L567.6,58.3L567.6,58.7L567.6,59.1L567.5,59.5L567.5,60.0L567.5,60.6L567.4,61.2L567.4,62.0L567.3,62.8L567.3,63.7L567.2,64.8L567.1,66.0L567.0,67.3L566.9,68.8L566.7,70.5L566.5,72.3L566.3,74.3L566.2,75.3L566.1,76.5L565.8,78.8L565.4,81.4L565.0,84.1L564.7,86.0L564.5,86.9L564.0,89.8L563.3,92.8L563.2,93.3L562.5,95.9L561.7,98.7L561.6,99.0L560.5,102.1L560.2,102.9L559.2,105.3L558.7,106.5L557.7,108.5L557.2,109.6L555.9,111.9L555.7,112.4L554.2,115.0L553.8,115.5L552.7,117.4L551.3,119.4L551.1,119.7L549.6,121.9L548.4,123.7L548.1,124.1L546.6,126.1L545.1,128.1L543.6,130.1L542.1,132.0L540.6,133.8L539.1,135.6L537.6,137.4L536.1,139.1L534.6,140.8L533.1,142.5L531.6,144.2L530.1,145.8L528.6,147.4L527.1,148.9L525.6,150.5L524.0,152.0L522.5,153.5L521.0,155.0L519.5,156.4L518.0,157.9L516.5,159.3L515.0,160.7L513.5,162.1L512.0,163.5L510.5,164.8L509.0,166.2L507.5,167.5L506.0,168.8L504.5,170.2L503.0,171.4L501.5,172.7L500.0,174.0L498.5,175.3L496.9,176.5L495.4,177.8L493.9,179.0L492.4,180.2L490.9,181.4L489.4,182.6L487.9,183.8L486.4,185.0L484.9,186.2L483.4,187.3L481.9,188.5L480.4,189.6L478.9,190.8L477.4,191.9L475.9,193.0L474.4,194.2L472.9,195.3L471.4,196.4L469.8,197.5L468.3,198.6L466.8,199.7L465.3,200.8L463.8,201.9L462.3,202.9L460.8,204.0L459.3,205.1L457.8,206.2L456.3,207.2L454.8,208.3L453.3,209.4L451.8,210.4L450.3,211.5L448.8,212.6L447.3,213.6L445.8,214.7L444.3,215.8L442.8,216.9L441.2,218.1L439.7,219.2L438.2,220.3L436.7,221.5L435.2,222.7L433.7,223.9L432.2,225.1L430.7,226.4L429.2,227.7L427.7,229.0L426.2,230.4L424.7,231.8L423.2,233.3L421.7,234.8L420.2,236.3L418.7,237.9L417.2,239.6L415.7,241.3L414.1,243.0L412.6,244.8L411.1,246.7L409.6,248.7L408.1,250.6L406.6,252.7L405.1,254.8L403.6,256.9L402.1,259.0L400.6,261.2L399.1,263.4L397.6,265.7L396.1,267.9L394.6,270.1L393.1,272.3L391.6,274.5L390.1,276.6L388.6,278.8L387.0,280.9L385.5,283.1L384.0,285.2L382.5,287.3L381.0,289.3L379.5,291.4L378.0,293.4L376.5,295.5L375.0,297.5L373.5,299.4L372.0,301.4L370.5,303.3L369.0,305.3L367.5,307.1L366.0,309.0L364.5,310.9L363.0,312.7L361.5,314.5L359.9,316.3L358.4,318.1L356.9,319.9L355.4,321.7L353.9,323.5L352.4,325.3L350.9,327.1L349.4,328.8L347.9,330.6L346.4,332.3L344.9,334.0L343.4,335.8L341.9,337.5L340.4,339.2L338.9,340.9L337.4,342.6L335.9,344.3L334.4,346.0L332.8,347.7L331.3,349.4L329.8,351.1L328.3,352.7L326.8,354.4L325.3,356.0L323.8,357.7L322.3,359.3L320.8,361.0L319.3,362.7L317.8,364.4L316.3,366.1L314.8,367.8L313.3,369.5L311.8,371.2L310.3,372.9L308.8,374.7L307.3,376.4L305.7,378.1L304.2,379.9L302.7,381.7L301.2,383.4L299.7,385.2L298.2,387.1L296.7,388.9L295.2,390.8L293.7,392.7L292.2,394.6L290.7,396.5L289.2,398.5L287.7,400.4L286.2,402.4L284.7,404.3L283.2,406.2L281.7,408.1L280.2,409.9L278.6,411.7L277.1,413.5L275.6,415.2L274.1,417.0L272.6,418.7L271.1,420.4L269.6,422.1L268.1,423.8L266.6,425.4L265.1,427.0L263.6,428.6L262.1,430.2L260.6,431.7L259.1,433.2L257.6,434.7L256.1,436.2L254.6,437.7L253.1,439.1L251.5,440.6L250.0,442.0L248.5,443.5L247.0,444.9L245.5,446.3L244.0,447.7L242.5,449.0L241.0,450.4L239.5,451.7L238.0,453.1L236.5,454.4L235.0,455.7L233.5,457.0L232.0,458.3L230.5,459.5L229.0,460.8L227.5,462.0L226.0,463.2L224.4,464.4L222.9,465.6L221.4,466.7L219.9,467.9L218.4,469.0L216.9,470.1L215.4,471.2L213.9,472.3L212.4,473.3L210.9,474.4L209.4,475.5L207.9,476.5L206.4,477.5L204.9,478.5L203.4,479.5L201.9,480.5L200.4,481.5L198.9,482.5L197.3,483.5L195.8,484.4L194.3,485.4L192.8,486.3L191.3,487.3L189.8,488.2L188.3,489.1L186.8,490.1L185.3,491.0L183.8,491.9L182.3,492.8L180.8,493.7L179.3,494.7L177.8,495.6L176.3,496.5L174.8,497.4L173.3,498.3L171.8,499.2L170.2,500.1L168.7,500.9L167.2,501.8L165.7,502.7L164.2,503.5L162.7,504.4L161.2,505.2L159.7,506.0L158.2,506.8L156.7,507.6L155.2,508.4L153.7,509.2L152.2,510.0L150.7,510.7L149.2,511.5L147.7,512.2L146.2,512.9L144.7,513.6L143.1,514.2L141.6,514.9L140.1,515.6L138.6,516.2L137.1,516.8L135.6,517.4L134.1,518.1L132.6,518.7L131.1,519.3L129.6,519.8L128.1,520.4L126.6,521.0L125.1,521.6L123.6,522.1L122.1,522.7L120.6,523.3L119.1,523.8L117.6,524.4M40.7,551.7L40.7,548.1L40.7,547.8L40.8,547.4L40.8,546.9L40.8,546.4L40.8,545.9L40.8,545.3L40.8,544.6L40.8,543.9L40.9,543.1L40.9,542.1L40.9,541.1L41.0,539.9L41.0,538.7L41.1,537.3L41.1,535.7L41.2,534.1L41.3,532.2L41.4,530.3L41.6,528.1L41.7,525.9L41.9,523.6L42.1,521.2L42.3,518.7L42.6,516.2L42.7,515.6L43.0,513.7L43.4,511.3L43.9,508.8L44.4,506.4L44.7,505.2L45.1,504.0L45.9,501.5L46.8,499.0L47.9,496.2L48.8,494.1L49.2,493.3L50.7,490.1L52.5,486.8L52.8,486.1L54.6,483.1L54.9,482.6L56.9,479.4L57.1,479.2L58.9,476.4L60.0,474.9L60.9,473.5L63.0,470.8L63.4,470.3L65.0,468.3L67.0,465.8L69.0,463.4L71.1,461.1L73.1,458.9L75.1,456.8L77.1,454.7L79.2,452.7L81.2,450.8L83.2,448.9L85.2,447.0L87.3,445.2L89.3,443.4L91.3,441.7L93.3,440.0L95.4,438.3L97.4,436.7L99.4,435.1L101.4,433.5L103.5,432.0L105.5,430.4L107.5,429.0L109.5,427.5L111.6,426.0L113.6,424.6L115.6,423.2L117.6,421.8L119.7,420.4L121.7,419.1L123.7,417.7L125.7,416.4L127.8,415.1L129.8,413.8L131.8,412.6L133.8,411.3L135.9,410.1L137.9,408.8L139.9,407.6L141.9,406.4L144.0,405.2L146.0,404.0L148.0,402.9L150.0,401.7L152.1,400.6L154.1,399.4L156.1,398.3L158.1,397.2L160.2,396.1L162.2,395.0L164.2,393.9L166.2,392.8L168.3,391.7L170.3,390.6L172.3,389.6L174.3,388.5L176.4,387.5L178.4,386.4L180.4,385.4L182.4,384.4L184.5,383.4L186.5,382.3L188.5,381.3L190.5,380.3L192.6,379.3L194.6,378.3L196.6,377.3L198.6,376.3L200.6,375.3L202.7,374.3L204.7,373.3L206.7,372.4L208.7,371.4L210.8,370.4L212.8,369.4L214.8,368.4L216.8,367.4L218.9,366.4L220.9,365.4L222.9,364.4L224.9,363.4L227.0,362.3L229.0,361.3L231.0,360.3L233.0,359.2L235.1,358.2L237.1,357.1L239.1,356.0L241.1,354.9L243.2,353.8L245.2,352.6L247.2,351.4L249.2,350.2L251.3,349.0L253.3,347.7L255.3,346.3L257.3,344.9L259.4,343.5L261.4,342.0L263.4,340.5L265.4,338.9L267.5,337.4L269.5,335.7L271.5,334.1L273.5,332.4L275.6,330.6L277.6,328.9L279.6,327.1L281.6,325.2L283.7,323.4L285.7,321.5L287.7,319.5L289.7,317.6L291.8,315.6L293.8,313.6L295.8,311.6L297.8,309.6L299.9,307.6L301.9,305.6L303.9,303.6L305.9,301.6L308.0,299.7L310.0,297.8L312.0,295.9L314.0,294.1L316.1,292.3L318.1,290.5L320.1,288.8L322.1,287.0L324.2,285.2L326.2,283.4L328.2,281.5L330.2,279.7L332.3,277.9L334.3,276.1L336.3,274.2L338.3,272.4L340.4,270.5L342.4,268.6L344.4,266.6L346.4,264.6L348.5,262.5L350.5,260.3L352.5,258.1L354.5,255.9L356.5,253.6L358.6,251.3L360.6,249.0L362.6,246.6L364.6,244.2L366.7,241.9L368.7,239.4L370.7,237.0L372.7,234.5L374.8,232.0L376.8,229.5L378.8,227.0L380.8,224.4L382.9,221.9L384.9,219.3L386.9,216.7L388.9,214.1L391.0,211.5L393.0,208.8L395.0,206.2L397.0,203.5L399.1,200.7L401.1,198.0L403.1,195.2L405.1,192.3L407.2,189.4L409.2,186.5L411.2,183.5L413.2,180.5L415.3,177.5L417.3,174.5L419.3,171.6L421.3,168.7L423.4,165.8L425.4,162.9L427.4,160.0L429.4,157.1L431.5,154.3L433.5,151.5L435.5,148.7L437.5,146.1L439.6,143.5L441.6,141.0L443.6,138.5L445.6,136.0L447.7,133.6L449.7,131.2L451.7,128.8L453.7,126.4L455.8,124.0L457.8,121.7L459.8,119.5L461.8,117.3L463.9,115.1L465.9,113.0L467.9,110.9L469.9,108.9L472.0,106.9L474.0,105.0L476.0,103.2L478.0,101.4L480.1,99.7L482.1,98.0L484.1,96.3L486.1,94.7L488.2,93.1L490.2,91.6L492.2,90.1L494.2,88.6L496.3,87.1L498.3,85.7L500.3,84.3L502.3,83.0L504.4,81.6L506.4,80.4L508.4,79.1L510.4,77.9L512.5,76.8L514.5,75.6L516.5,74.5L518.5,73.5L520.5,72.5L522.6,71.5L524.6,70.6L526.6,69.7L528.6,68.8L530.7,67.9L532.7,67.1L534.7,66.3L536.7,65.4L538.8,64.6L540.8,63.8L542.8,63.0L544.8,62.2L546.9,61.4L548.9,60.6L550.9,59.8L552.9,59.0L555.0,58.2L557.0,57.3L559.0,56.5L561.0,55.7L563.1,54.9L565.1,54.0L567.1,53.2L569.1,52.4L571.2,51.6L573.2,50.8L575.2,50.0L577.2,49.2L579.3,48.4L581.3,47.6L583.3,46.8L585.3,46.0L587.4,45.2L589.4,44.3L591.4,43.5L593.4,42.7L595.5,41.9L597.5,41.1L599.5,40.3L601.5,39.5L603.6,38.6L605.6,37.8L607.6,37.0L609.6,36.2L611.7,35.4L613.7,34.5L615.7,33.7L617.7,32.9L619.8,32.1L621.8,31.3L623.8,30.5L625.8,29.7L627.9,28.9L629.9,28.2L631.9,27.4L633.9,26.6L636.0,25.8L638.0,25.1L640.0,24.3L642.0,23.6L644.1,22.8L646.1,22.0L646.0,23.6L646.0,24.0L646.0,24.4L646.0,24.7L646.0,25.0L646.0,25.4L645.9,25.8L645.9,26.3L645.9,26.8L645.8,27.4L645.8,28.1L645.8,28.9L645.7,29.7L645.6,30.7L645.6,31.8L645.5,33.0L645.4,34.4L645.2,36.0L645.1,37.7L644.9,39.6L644.7,41.7L644.4,44.0L644.1,46.4L644.1,47.1L643.8,49.1L643.4,51.9L642.9,54.8L642.3,57.8L642.0,59.4L641.7,61.0L640.9,64.2L640.0,67.2L638.9,70.6L638.0,73.0L637.6,73.9L636.1,77.3L636.0,77.6L634.3,80.9L633.9,81.5L632.2,84.6L631.9,85.1L629.9,88.4L629.7,88.7L627.9,91.5L626.8,93.1L625.8,94.4L623.8,97.3L623.4,97.9L621.8,100.0L619.8,102.6L617.7,105.2L615.7,107.7L613.7,110.1L611.7,112.4L609.6,114.7L607.6,117.0L605.6,119.2L603.6,121.3L601.5,123.5L599.5,125.5L597.5,127.6L595.5,129.6L593.4,131.6L591.4,133.5L589.4,135.4L587.4,137.3L585.3,139.2L583.3,141.0L581.3,142.8L579.3,144.6L577.2,146.4L575.2,148.1L573.2,149.9L571.2,151.6L569.1,153.3L567.1,155.0L565.1,156.6L563.1,158.3L561.0,159.9L559.0,161.5L557.0,163.1L555.0,164.7L552.9,166.2L550.9,167.8L548.9,169.3L546.9,170.9L544.8,172.4L542.8,173.9L540.8,175.4L538.8,176.8L536.7,178.3L534.7,179.8L532.7,181.2L530.7,182.7L528.6,184.1L526.6,185.5L524.6,186.9L522.6,188.3L520.5,189.7L518.5,191.1L516.5,192.5L514.5,193.8L512.5,195.2L510.4,196.5L508.4,197.9L506.4,199.2L504.4,200.5L502.3,201.8L500.3,203.2L498.3,204.5L496.3,205.8L494.2,207.1L492.2,208.4L490.2,209.6L488.2,210.9L486.1,212.2L484.1,213.5L482.1,214.7L480.1,216.0L478.0,217.3L476.0,218.5L474.0,219.8L472.0,221.0L469.9,222.3L467.9,223.5L465.9,224.8L463.9,226.1L461.8,227.3L459.8,228.6L457.8,229.8L455.8,231.1L453.7,232.4L451.7,233.7L449.7,234.9L447.7,236.3L445.6,237.6L443.6,238.9L441.6,240.3L439.6,241.7L437.5,243.1L435.5,244.6L433.5,246.0L431.5,247.6L429.4,249.1L427.4,250.7L425.4,252.3L423.4,254.0L421.3,255.7L419.3,257.5L417.3,259.3L415.3,261.1L413.2,263.0L411.2,265.0L409.2,267.0L407.2,269.0L405.1,271.1L403.1,273.3L401.1,275.5L399.1,277.8L397.0,280.1L395.0,282.4L393.0,284.7L391.0,287.1L388.9,289.4L386.9,291.7L384.9,294.0L382.9,296.3L380.8,298.6L378.8,300.9L376.8,303.2L374.8,305.4L372.7,307.7L370.7,309.9L368.7,312.1L366.7,314.3L364.6,316.5L362.6,318.7L360.6,320.8L358.6,322.9L356.5,325.0L354.5,327.1L352.5,329.2L350.5,331.2L348.5,333.3L346.4,335.4L344.4,337.5L342.4,339.6L340.4,341.6L338.3,343.7L336.3,345.8L334.3,347.8L332.3,349.9L330.2,351.9L328.2,354.0L326.2,356.0L324.2,358.0L322.1,360.1L320.1,362.1L318.1,364.1L316.1,366.1L314.0,368.2L312.0,370.3L310.0,372.4L308.0,374.5L305.9,376.6L303.9,378.8L301.9,380.9L299.9,383.1L297.8,385.3L295.8,387.6L293.8,389.8L291.8,392.1L289.7,394.4L287.7,396.8L285.7,399.3L283.7,401.8L281.6,404.2L279.6,406.7L277.6,409.1L275.6,411.5L273.5,413.8L271.5,416.1L269.5,418.4L267.5,420.6L265.4,422.8L263.4,425.0L261.4,427.2L259.4,429.3L257.3,431.3L255.3,433.4L253.3,435.3L251.3,437.3L249.2,439.2L247.2,441.1L245.2,443.0L243.2,444.9L241.1,446.8L239.1,448.6L237.1,450.4L235.1,452.2L233.0,454.0L231.0,455.7L229.0,457.4L227.0,459.1L224.9,460.8L222.9,462.4L220.9,464.0L218.9,465.6L216.8,467.2L214.8,468.7L212.8,470.2L210.8,471.6L208.7,473.1L206.7,474.5L204.7,475.9L202.7,477.3L200.6,478.7L198.6,480.0L196.6,481.3L194.6,482.7L192.6,484.0L190.5,485.2L188.5,486.5L186.5,487.8L184.5,489.0L182.4,490.3L180.4,491.5L178.4,492.7L176.4,494.0L174.3,495.2L172.3,496.4L170.3,497.6L168.3,498.8L166.2,500.0L164.2,501.2L162.2,502.3L160.2,503.5L158.1,504.6L156.1,505.8L154.1,506.9L152.1,507.9L150.0,509.0L148.0,510.1L146.0,511.1L144.0,512.1L141.9,513.0L139.9,514.0L137.9,514.9L135.9,515.8L133.8,516.6L131.8,517.5L129.8,518.3L127.8,519.1L125.7,519.9L123.7,520.7L121.7,521.5L119.7,522.3L117.6,523.1L115.6,523.8L113.6,524.6L111.6,525.3L109.5,526.1L107.5,526.9L105.5,527.6L103.5,528.4L101.4,529.2L99.4,530.0L97.4,530.7L95.4,531.5L93.3,532.3L91.3,533.0L89.3,533.8L87.3,534.5L85.2,535.3L83.2,536.0L81.2,536.8L79.2,537.5L77.1,538.3L75.1,539.0L73.1,539.8L71.1,540.6L69.0,541.3L67.0,542.1L65.0,542.9L63.0,543.7L60.9,544.5L58.9,545.3L56.9,546.0L54.9,546.8L52.8,547.6L50.8,548.5L48.8,549.3L46.8,550.1L44.7,550.9L42.7,551.7L40.7,552.5L40.7,551.7M341.2,295L341.2,280" fill="none" stroke="#0000ff" stroke-width="2.6" stroke-linejoin="round"/>
<path d="M267.9,419.9L267.9,405.7L267.9,405.4L268.0,405.0L268.1,404.6L268.1,404.3L268.1,404.0L268.2,403.6L268.2,403.1L268.3,402.4L268.4,401.9L268.4,401.7L268.5,400.7L268.6,399.6L268.7,398.3L268.8,397.0L269.0,395.1L269.3,393.3L269.3,392.6L269.5,391.4L269.8,389.3L270.1,387.3L270.3,386.3L270.6,385.2L270.8,383.9L271.0,383.0L271.3,381.9L271.6,380.9L271.8,380.1L272.3,378.7L272.8,377.1L273.0,376.4L273.3,375.7L273.8,374.5L274.0,374.0L274.3,373.3L274.8,372.1L275.1,371.5L275.3,371.0L275.8,370.0L276.3,368.9L276.7,367.9L277.2,367.0L277.7,366.0L278.2,365.1L278.7,364.2L279.2,363.4L279.6,362.6L280.2,361.7L280.7,360.9L281.2,360.1L281.7,359.3L282.2,358.6L282.7,357.8L283.2,357.1L283.7,356.4L284.2,355.6L284.6,354.9L285.1,354.3L285.6,353.6L286.1,352.9L286.6,352.3L287.1,351.6L287.6,351.0L288.1,350.3L288.6,349.7L289.1,349.1L289.6,348.5L290.1,347.9L290.6,347.3L291.1,346.7L291.6,346.1L292.1,345.5L292.5,344.9L293.0,344.3L293.5,343.8L294.0,343.2L294.5,342.6L295.0,342.1L295.5,341.5L296.0,341.0L296.5,340.4L297.0,339.8L297.5,339.3L298.0,338.7L298.5,338.2L299.0,337.6L299.5,337.1L300.0,336.5L300.5,336.0L300.9,335.4L301.4,334.9L301.9,334.3L302.4,333.7L302.9,333.2L303.4,332.6L303.9,332.0L304.4,331.5L304.9,330.9L305.4,330.3L305.9,329.7L306.4,329.2L306.9,328.6L307.4,328.0L307.9,327.4L308.4,326.8L308.8,326.2L309.3,325.6L309.8,325.0L310.3,324.4L310.8,323.8L311.3,323.2L311.8,322.6L312.3,322.0L312.8,321.3L313.3,320.7L313.8,320.1L314.3,319.5L314.8,318.9L315.3,318.3L315.8,317.7L316.3,317.1L316.7,316.5L317.2,315.9L317.7,315.3L318.2,314.7L318.7,314.1L319.2,313.5L319.7,312.9L320.2,312.3L320.7,311.8L321.2,311.2L321.7,310.6L322.2,310.0L322.7,309.5L323.2,308.9L323.7,308.3L324.2,307.8L324.6,307.2L325.1,306.6L325.6,306.1L326.1,305.5L326.6,304.9L327.1,304.4L327.6,303.8L328.1,303.3L328.6,302.7L329.1,302.1L329.6,301.6L330.1,301.0L330.6,300.4L331.1,299.9L331.6,299.3L332.1,298.7L332.5,298.2L333.0,297.6L333.5,297.0L334.0,296.5L334.5,295.9L335.0,295.3L335.5,294.7L336.0,294.2L336.5,293.6L337.0,293.0L337.5,292.4L338.0,291.9L338.5,291.3L339.0,290.8L339.5,290.2L340.0,289.6L340.5,289.1L340.9,288.5L341.4,288.0L341.9,287.4L342.4,286.8L342.9,286.3L343.4,285.7L343.9,285.2L344.4,284.6L344.9,284.0L345.4,283.5L345.9,282.9L346.4,282.4L346.9,281.8L347.4,281.2L347.9,280.7L348.4,280.1L348.8,279.5L349.3,278.9L349.8,278.4L350.3,277.8L350.8,277.2L351.3,276.6L351.8,276.0L352.3,275.4L352.8,274.8L353.3,274.2L353.8,273.6L354.3,272.9L354.8,272.3L355.3,271.7L355.8,271.1L356.3,270.4L356.7,269.8L357.2,269.1L357.7,268.5L358.2,267.8L358.7,267.2L359.2,266.5L359.7,265.9L360.2,265.2L360.7,264.6L361.2,263.9L361.7,263.2L362.2,262.5L362.7,261.9L363.2,261.2L363.7,260.5L364.2,259.8L364.6,259.1L365.1,258.5L365.6,257.8L366.1,257.1L366.6,256.4L367.1,255.7L367.6,255.0L368.1,254.3L368.6,253.6L369.1,252.9L369.6,252.2L370.1,251.6L370.6,250.9L371.1,250.2L371.6,249.5L372.1,248.8L372.5,248.1L373.0,247.4L373.5,246.7L374.0,246.0L374.5,245.3L375.0,244.6L375.5,243.9L376.0,243.2L376.5,242.5L377.0,241.8L377.5,241.1L378.0,240.3L378.5,239.6L379.0,238.9L379.5,238.2L380.0,237.5L380.5,236.8L380.9,236.1L381.4,235.4L381.9,234.6L382.4,233.9L382.9,233.2L383.4,232.5L383.9,231.8L384.4,231.1L384.9,230.3L385.4,229.6L385.9,228.9L386.4,228.2L386.9,227.5L387.4,226.7L387.9,226.0L388.4,225.3L388.8,224.6L389.3,223.9L389.8,223.1L390.3,222.4L390.8,221.7L391.3,221.0L391.8,220.3L392.3,219.5L392.8,218.8L393.3,218.1L393.8,217.4L394.3,216.7L394.8,215.9L395.3,215.2L395.8,214.5L396.3,213.8L396.7,213.1L397.2,212.4L397.7,211.6L398.2,210.9L398.7,210.2L399.2,209.5L399.7,208.8L400.2,208.1L400.7,207.3L401.2,206.6L401.7,205.9L402.2,205.2L402.7,204.5L403.2,203.7L403.7,203.0L404.2,202.3L404.6,201.6L405.1,200.8L405.6,200.1L406.1,199.4L406.6,198.7L407.1,197.9L407.6,197.2L408.1,196.5L408.6,195.7L409.1,195.0L409.6,194.3L410.1,193.5L410.6,192.8L411.1,192.0L411.6,191.3L412.1,190.5L412.5,189.8L413.0,189.0L413.5,188.2L414.0,187.5L414.5,186.7L415.0,185.9L415.5,185.2L415.5,201.4L415.4,201.6L415.3,201.9L415.2,202.2L415.1,202.5L415.0,202.9L414.9,203.4L414.8,203.8L414.7,204.3L414.5,204.8L414.3,205.6L414.1,206.4L414.0,206.8L413.9,207.5L413.6,208.7L413.2,210.1L413.0,210.9L412.8,211.8L412.5,212.9L412.3,213.7L412.1,214.7L411.8,215.8L411.6,216.5L411.1,218.0L410.6,219.7L410.3,220.5L410.1,221.2L409.6,222.5L409.4,223.0L409.1,223.8L408.6,225.1L408.3,225.8L408.1,226.2L407.6,227.3L407.1,228.4L406.6,229.4L406.1,230.5L405.6,231.4L405.1,232.4L404.6,233.3L404.2,234.3L403.7,235.0L403.2,236.1L402.7,237.0L402.2,237.8L401.7,238.7L401.2,239.6L400.7,240.5L400.2,241.4L399.7,242.2L399.2,243.1L398.7,244.0L398.2,244.9L397.7,245.8L397.2,246.7L396.7,247.6L396.3,248.5L395.8,249.4L395.3,250.3L394.8,251.2L394.3,252.1L393.8,253.0L393.3,253.9L392.8,254.8L392.3,255.7L391.8,256.7L391.3,257.6L390.8,258.5L390.3,259.4L389.8,260.3L389.3,261.2L388.8,262.1L388.4,263.0L387.9,263.9L387.4,264.8L386.9,265.7L386.4,266.5L385.9,267.4L385.4,268.3L384.9,269.2L384.4,270.0L383.9,270.9L383.4,271.7L382.9,272.6L382.4,273.4L381.9,274.3L381.4,275.1L380.9,276.0L380.5,276.8L380.0,277.6L379.5,278.4L379.0,279.3L378.5,280.1L378.0,280.9L377.5,281.7L377.0,282.5L376.5,283.3L376.0,284.1L375.5,284.9L375.0,285.6L374.5,286.4L374.0,287.2L373.5,288.0L373.0,288.7L372.5,289.5L372.1,290.3L371.6,291.0L371.1,291.8L370.6,292.5L370.1,293.3L369.6,294.0L369.1,294.8L368.6,295.5L368.1,296.2L367.6,297.0L367.1,297.7L366.6,298.4L366.1,299.1L365.6,299.8L365.1,300.5L364.6,301.2L364.2,301.9L363.7,302.6L363.2,303.3L362.7,304.0L362.2,304.7L361.7,305.4L361.2,306.0L360.7,306.7L360.2,307.4L359.7,308.0L359.2,308.7L358.7,309.4L358.2,310.0L357.7,310.7L357.2,311.3L356.7,312.0L356.3,312.6L355.8,313.3L355.3,313.9L354.8,314.6L354.3,315.2L353.8,315.9L353.3,316.5L352.8,317.1L352.3,317.8L351.8,318.4L351.3,319.1L350.8,319.7L350.3,320.3L349.8,321.0L349.3,321.6L348.8,322.2L348.4,322.9L347.9,323.5L347.4,324.1L346.9,324.8L346.4,325.4L345.9,326.0L345.4,326.6L344.9,327.3L344.4,327.9L343.9,328.5L343.4,329.1L342.9,329.7L342.4,330.3L341.9,331.0L341.4,331.6L340.9,332.2L340.5,332.8L340.0,333.4L339.5,334.0L339.0,334.6L338.5,335.2L338.0,335.8L337.5,336.4L337.0,337.0L336.5,337.6L336.0,338.2L335.5,338.8L335.0,339.4L334.5,340.0L334.0,340.6L333.5,341.2L333.0,341.8L332.5,342.4L332.1,343.0L331.6,343.5L331.1,344.1L330.6,344.7L330.1,345.3L329.6,345.9L329.1,346.5L328.6,347.0L328.1,347.6L327.6,348.2L327.1,348.8L326.6,349.3L326.1,349.9L325.6,350.4L325.1,351.0L324.6,351.6L324.2,352.1L323.7,352.7L323.2,353.2L322.7,353.8L322.2,354.3L321.7,354.9L321.2,355.5L320.7,356.0L320.2,356.6L319.7,357.1L319.2,357.7L318.7,358.2L318.2,358.8L317.7,359.3L317.2,359.9L316.7,360.4L316.3,361.0L315.8,361.5L315.3,362.1L314.8,362.6L314.3,363.2L313.8,363.7L313.3,364.3L312.8,364.8L312.3,365.4L311.8,366.0L311.3,366.5L310.8,367.1L310.3,367.7L309.8,368.2L309.3,368.8L308.8,369.3L308.4,369.9L307.9,370.5L307.4,371.0L306.9,371.6L306.4,372.2L305.9,372.7L305.4,373.3L304.9,373.9L304.4,374.4L303.9,375.0L303.4,375.6L302.9,376.1L302.4,376.7L301.9,377.3L301.4,377.8L300.9,378.4L300.5,379.0L300.0,379.6L299.5,380.1L299.0,380.7L298.5,381.3L298.0,381.9L297.5,382.5L297.0,383.0L296.5,383.6L296.0,384.2L295.5,384.8L295.0,385.4L294.5,386.0L294.0,386.6L293.5,387.2L293.0,387.8L292.5,388.4L292.1,389.0L291.6,389.6L291.1,390.2L290.6,390.8L290.1,391.4L289.6,392.0L289.1,392.6L288.6,393.3L288.1,393.9L287.6,394.5L287.1,395.2L286.6,395.8L286.1,396.4L285.6,397.1L285.1,397.7L284.6,398.4L284.2,399.0L283.7,399.7L283.2,400.4L282.7,401.0L282.2,401.7L281.7,402.3L281.2,403.0L280.7,403.6L280.2,404.3L279.7,405.0L279.2,405.6L278.7,406.3L278.2,406.9L277.7,407.6L277.2,408.2L276.7,408.9L276.3,409.5L275.8,410.2L275.3,410.8L274.8,411.4L274.3,412.1L273.8,412.7L273.3,413.3L272.8,413.9L272.3,414.5L271.8,415.1L271.3,415.7L270.8,416.3L270.3,416.9L269.8,417.5L269.3,418.1L268.8,418.7L268.4,419.3L267.9,419.9M192.5,490.8L192.6,487.1L192.6,486.8L192.6,486.5L192.6,486.1L192.6,485.7L192.6,485.3L192.6,484.8L192.6,484.3L192.7,483.7L192.7,483.0L192.7,482.2L192.7,481.4L192.8,480.5L192.8,479.4L192.9,478.3L193.0,477.0L193.0,475.6L193.1,474.1L193.2,472.5L193.4,470.7L193.5,468.8L193.7,466.8L193.9,464.7L194.2,462.6L194.5,460.4L194.5,460.0L194.8,458.2L195.2,456.0L195.5,454.5L195.7,453.8L196.3,451.5L196.5,450.5L196.9,449.2L197.5,447.3L197.7,446.9L198.5,444.6L199.6,442.1L199.7,441.7L200.6,439.8L201.0,438.8L201.6,437.6L202.5,435.7L203.6,433.7L204.3,432.4L204.6,431.9L205.6,430.2L206.4,428.9L206.6,428.6L207.6,427.0L208.6,425.4L208.9,425.0L209.6,424.0L210.6,422.6L211.6,421.2L212.6,419.9L213.6,418.6L214.6,417.3L215.2,416.6L215.6,416.1L216.6,414.9L217.7,413.8L218.7,412.7L219.7,411.6L220.7,410.5L221.7,409.4L222.7,408.4L223.7,407.4L224.7,406.4L225.7,405.4L226.7,404.5L227.7,403.5L228.7,402.6L229.7,401.7L230.7,400.8L231.7,399.9L232.7,399.1L233.7,398.2L234.7,397.4L235.7,396.5L236.8,395.7L237.8,394.9L238.8,394.0L239.8,393.2L240.8,392.4L241.8,391.6L242.8,390.8L243.8,390.0L244.8,389.2L245.8,388.5L246.8,387.7L247.8,386.9L248.8,386.1L249.8,385.3L250.8,384.5L251.8,383.8L252.8,383.0L253.8,382.2L254.9,381.3L255.9,380.5L256.9,379.7L257.9,378.8L258.9,377.9L259.9,377.1L260.9,376.2L261.9,375.3L262.9,374.4L263.9,373.4L264.9,372.5L265.9,371.5L266.9,370.6L267.9,369.6L268.9,368.6L269.9,367.6L270.9,366.5L271.9,365.5L272.9,364.4L274.0,363.3L275.0,362.2L276.0,361.1L277.0,359.9L278.0,358.8L279.0,357.6L280.0,356.4L281.0,355.2L282.0,354.0L283.0,352.7L284.0,351.5L285.0,350.2L286.0,348.9L287.0,347.6L288.0,346.3L289.0,345.0L290.0,343.7L291.0,342.4L292.0,341.0L293.1,339.7L294.1,338.3L295.1,336.9L296.1,335.6L297.1,334.2L298.1,332.8L299.1,331.4L300.1,330.1L301.1,328.7L302.1,327.4L303.1,326.0L304.1,324.7L305.1,323.3L306.1,322.0L307.1,320.7L308.1,319.4L309.1,318.1L310.1,316.8L311.2,315.6L312.2,314.3L313.2,313.1L314.2,311.9L315.2,310.7L316.2,309.5L317.2,308.4L318.2,307.2L319.2,306.1L320.2,305.0L321.2,303.9L322.2,302.7L323.2,301.6L324.2,300.5L325.2,299.4L326.2,298.3L327.2,297.2L328.2,296.1L329.2,294.9L330.3,293.8L331.3,292.7L332.3,291.5L333.3,290.4L334.3,289.3L335.3,288.2L336.3,287.1L337.3,286.0L338.3,284.9L339.3,283.8L340.3,282.7L341.3,281.6L342.3,280.4L343.3,279.3L344.3,278.2L345.3,277.0L346.3,275.8L347.3,274.7L348.4,273.5L349.4,272.2L350.4,271.0L351.4,269.8L352.4,268.5L353.4,267.2L354.4,265.9L355.4,264.6L356.4,263.3L357.4,262.0L358.4,260.6L359.4,259.3L360.4,257.9L361.4,256.6L362.4,255.2L363.4,253.8L364.4,252.4L365.4,251.0L366.4,249.7L367.5,248.3L368.5,246.9L369.5,245.5L370.5,244.1L371.5,242.6L372.5,241.2L373.5,239.8L374.5,238.4L375.5,236.9L376.5,235.5L377.5,234.0L378.5,232.6L379.5,231.1L380.5,229.7L381.5,228.2L382.5,226.7L383.5,225.3L384.5,223.8L385.6,222.3L386.6,220.9L387.6,219.4L388.6,218.0L389.6,216.5L390.6,215.0L391.6,213.6L392.6,212.1L393.6,210.6L394.6,209.2L395.6,207.7L396.6,206.2L397.6,204.7L398.6,203.3L399.6,201.8L400.6,200.3L401.6,198.8L402.6,197.3L403.6,195.8L404.7,194.3L405.7,192.8L406.7,191.2L407.7,189.7L408.7,188.1L409.7,186.6L410.7,185.0L411.7,183.4L412.7,181.9L413.7,180.3L414.7,178.7L415.7,177.1L416.7,175.6L417.7,174.0L418.7,172.4L419.7,170.9L420.7,169.4L421.7,167.8L422.7,166.3L423.8,164.8L424.8,163.3L425.8,161.8L426.8,160.3L427.8,158.8L428.8,157.3L429.8,155.8L430.8,154.3L431.8,152.8L432.8,151.3L433.8,149.9L434.8,148.4L435.8,147.0L436.8,145.6L437.8,144.2L438.8,142.8L439.8,141.4L440.8,140.1L441.9,138.8L442.9,137.5L443.9,136.2L444.9,134.9L445.9,133.7L446.9,132.4L447.9,131.1L448.9,129.9L449.9,128.6L450.9,127.4L451.9,126.1L452.9,124.9L453.9,123.6L454.9,122.4L455.9,121.2L456.9,120.0L457.9,118.8L458.9,117.6L459.9,116.5L461.0,115.3L462.0,114.1L463.0,113.0L464.0,111.9L465.0,110.8L466.0,109.7L467.0,108.6L468.0,107.5L469.0,106.4L470.0,105.4L471.0,104.3L472.0,103.3L473.0,102.3L474.0,101.3L475.0,100.3L476.0,99.4L477.0,98.4L478.0,97.5L479.1,96.6L480.1,95.7L481.1,94.9L482.1,94.0L483.1,93.1L484.1,92.3L485.1,91.4L486.1,90.6L487.1,89.7L488.1,88.9L489.1,88.1L490.1,87.3L491.1,86.5L492.1,85.7L493.1,84.9L493.1,86.7L493.1,87.0L493.1,87.5L493.0,87.8L493.0,88.1L493.0,88.5L493.0,88.9L493.0,89.3L492.9,89.8L492.9,90.4L492.9,91.1L492.8,91.8L492.7,92.7L492.7,93.7L492.6,94.8L492.5,96.0L492.4,97.4L492.3,98.9L492.1,100.6L491.9,102.6L491.7,104.7L491.5,107.0L491.2,109.5L491.1,110.1L490.8,112.2L490.4,115.1L490.1,117.2L490.0,118.2L489.4,121.4L489.1,122.9L488.7,124.7L488.1,127.5L487.9,128.2L487.1,131.4L487.0,131.7L486.1,134.7L485.9,135.2L485.1,137.7L484.6,138.9L484.1,140.3L483.1,142.7L482.1,145.1L481.3,146.6L481.1,147.2L480.1,149.2L479.2,150.8L479.1,151.2L478.0,153.0L477.0,154.8L476.8,155.3L476.0,156.5L475.0,158.2L474.0,159.8L473.8,160.1L473.0,161.4L472.0,162.9L471.0,164.4L470.4,165.3L470.0,165.9L469.0,167.3L468.0,168.8L467.0,170.1L466.0,171.5L465.0,172.8L464.0,174.1L463.0,175.4L462.0,176.7L461.0,177.9L459.9,179.1L458.9,180.3L457.9,181.5L456.9,182.7L455.9,183.9L454.9,185.0L453.9,186.1L452.9,187.3L451.9,188.4L450.9,189.5L449.9,190.6L448.9,191.7L447.9,192.8L446.9,193.9L445.9,194.9L444.9,196.0L443.9,197.1L442.9,198.2L441.9,199.3L440.8,200.3L439.8,201.4L438.8,202.5L437.8,203.6L436.8,204.7L435.8,205.8L434.8,206.9L433.8,208.0L432.8,209.1L431.8,210.2L430.8,211.4L429.8,212.5L428.8,213.7L427.8,214.9L426.8,216.1L425.8,217.3L424.8,218.5L423.8,219.8L422.7,221.0L421.7,222.3L420.7,223.6L419.7,225.0L418.7,226.3L417.7,227.7L416.7,229.1L415.7,230.5L414.7,232.0L413.7,233.4L412.7,234.9L411.7,236.4L410.7,238.0L409.7,239.5L408.7,241.1L407.7,242.7L406.7,244.3L405.7,245.9L404.7,247.6L403.6,249.2L402.6,250.9L401.6,252.6L400.6,254.3L399.6,256.0L398.6,257.7L397.6,259.4L396.6,261.1L395.6,262.7L394.6,264.4L393.6,266.1L392.6,267.7L391.6,269.4L390.6,271.0L389.6,272.6L388.6,274.2L387.6,275.8L386.6,277.4L385.6,278.9L384.5,280.5L383.5,282.0L382.5,283.5L381.5,285.1L380.5,286.6L379.5,288.0L378.5,289.5L377.5,291.0L376.5,292.4L375.5,293.9L374.5,295.3L373.5,296.8L372.5,298.2L371.5,299.6L370.5,301.0L369.5,302.3L368.5,303.7L367.5,305.0L366.4,306.4L365.4,307.7L364.4,309.0L363.4,310.3L362.4,311.6L361.4,312.9L360.4,314.2L359.4,315.4L358.4,316.7L357.4,318.0L356.4,319.2L355.4,320.5L354.4,321.7L353.4,323.0L352.4,324.2L351.4,325.5L350.4,326.7L349.4,328.0L348.4,329.2L347.3,330.4L346.3,331.7L345.3,332.9L344.3,334.1L343.3,335.3L342.3,336.5L341.3,337.7L340.3,338.9L339.3,340.1L338.3,341.3L337.3,342.5L336.3,343.7L335.3,344.8L334.3,346.0L333.3,347.2L332.3,348.4L331.3,349.5L330.3,350.7L329.2,351.8L328.2,352.9L327.2,354.1L326.2,355.2L325.2,356.3L324.2,357.4L323.2,358.5L322.2,359.6L321.2,360.8L320.2,361.9L319.2,363.0L318.2,364.1L317.2,365.2L316.2,366.4L315.2,367.5L314.2,368.7L313.2,369.8L312.2,370.9L311.2,372.1L310.1,373.2L309.1,374.4L308.1,375.5L307.1,376.7L306.1,377.8L305.1,379.0L304.1,380.1L303.1,381.3L302.1,382.4L301.1,383.6L300.1,384.8L299.1,386.0L298.1,387.2L297.1,388.4L296.1,389.6L295.1,390.8L294.1,392.0L293.1,393.3L292.0,394.6L291.0,395.8L290.0,397.1L289.0,398.4L288.0,399.8L287.0,401.1L286.0,402.4L285.0,403.7L284.0,405.0L283.0,406.4L282.0,407.7L281.0,409.0L280.0,410.3L279.0,411.6L278.0,412.8L277.0,414.1L276.0,415.3L275.0,416.5L274.0,417.8L272.9,419.0L271.9,420.2L270.9,421.4L269.9,422.6L268.9,423.7L267.9,424.9L266.9,426.1L265.9,427.2L264.9,428.4L263.9,429.5L262.9,430.6L261.9,431.7L260.9,432.8L259.9,433.9L258.9,435.0L257.9,436.0L256.9,437.1L255.9,438.1L254.9,439.1L253.8,440.2L252.8,441.2L251.8,442.2L250.8,443.2L249.8,444.2L248.8,445.2L247.8,446.2L246.8,447.2L245.8,448.2L244.8,449.2L243.8,450.1L242.8,451.1L241.8,452.1L240.8,453.0L239.8,454.0L238.8,454.9L237.8,455.8L236.8,456.8L235.7,457.7L234.7,458.6L233.7,459.5L232.7,460.4L231.7,461.3L230.7,462.2L229.7,463.0L228.7,463.9L227.7,464.8L226.7,465.6L225.7,466.5L224.7,467.3L223.7,468.2L222.7,469.0L221.7,469.8L220.7,470.6L219.7,471.4L218.7,472.2L217.7,473.0L216.6,473.8L215.6,474.6L214.6,475.3L213.6,476.1L212.6,476.8L211.6,477.6L210.6,478.3L209.6,479.1L208.6,479.8L207.6,480.5L206.6,481.3L205.6,482.0L204.6,482.7L203.6,483.4L202.6,484.1L201.6,484.8L200.6,485.5L199.6,486.2L198.5,486.8L197.5,487.5L196.5,488.2L195.5,488.9L194.5,489.5L193.5,490.2L192.5,490.9M117.6,531.7L117.6,528.4L117.6,528.0L117.6,527.7L117.6,527.3L117.6,526.8L117.6,526.3L117.7,525.7L117.7,525.1L117.7,524.4L117.7,523.6L117.7,522.8L117.8,521.8L117.8,520.7L117.9,519.5L117.9,518.2L118.0,516.7L118.1,515.1L118.2,513.4L118.3,511.5L118.4,509.4L118.6,507.3L118.7,505.0L119.0,502.6L119.1,501.5L119.2,500.2L119.5,497.7L119.8,495.2L120.2,492.7L120.6,491.0L120.7,490.1L121.3,487.6L122.0,485.0L122.1,484.5L122.7,482.2L123.6,479.6L123.7,479.4L124.8,476.3L125.1,475.5L126.0,473.1L126.6,471.8L127.6,469.6L128.1,468.4L129.3,465.8L129.6,465.3L131.1,462.4L131.4,461.7L132.6,459.6L133.9,457.4L134.1,457.1L135.6,454.7L136.8,452.8L137.1,452.4L138.6,450.2L140.1,448.1L141.6,446.1L143.1,444.1L144.7,442.3L146.2,440.5L147.7,438.8L149.2,437.1L150.7,435.5L152.2,433.9L153.7,432.4L155.2,430.9L156.7,429.5L158.2,428.1L159.7,426.7L161.2,425.3L162.7,424.0L164.2,422.7L165.7,421.5L167.2,420.2L168.7,419.0L170.2,417.8L171.8,416.7L173.3,415.5L174.8,414.4L176.3,413.3L177.8,412.2L179.3,411.1L180.8,410.0L182.3,408.9L183.8,407.9L185.3,406.9L186.8,405.9L188.3,404.9L189.8,403.9L191.3,402.9L192.8,401.9L194.3,401.0L195.8,400.0L197.3,399.1L198.9,398.2L200.4,397.3L201.9,396.3L203.4,395.5L204.9,394.6L206.4,393.7L207.9,392.8L209.4,391.9L210.9,391.1L212.4,390.2L213.9,389.4L215.4,388.5L216.9,387.7L218.4,386.9L219.9,386.0L221.4,385.2L222.9,384.4L224.4,383.6L226.0,382.8L227.5,382.0L229.0,381.2L230.5,380.4L232.0,379.6L233.5,378.8L235.0,378.0L236.5,377.3L238.0,376.5L239.5,375.7L241.0,374.9L242.5,374.2L244.0,373.4L245.5,372.6L247.0,371.8L248.5,371.0L250.0,370.2L251.5,369.4L253.1,368.6L254.6,367.8L256.1,367.0L257.6,366.2L259.1,365.4L260.6,364.5L262.1,363.6L263.6,362.7L265.1,361.7L266.6,360.8L268.1,359.8L269.6,358.8L271.1,357.7L272.6,356.7L274.1,355.6L275.6,354.4L277.1,353.3L278.6,352.0L280.2,350.8L281.7,349.5L283.2,348.2L284.7,346.8L286.2,345.4L287.7,344.0L289.2,342.5L290.7,341.0L292.2,339.4L293.7,337.8L295.2,336.2L296.7,334.5L298.2,332.8L299.7,331.1L301.2,329.4L302.7,327.6L304.2,325.8L305.7,324.1L307.3,322.3L308.8,320.5L310.3,318.7L311.8,317.0L313.3,315.2L314.8,313.5L316.3,311.8L317.8,310.1L319.3,308.5L320.8,306.8L322.3,305.2L323.8,303.6L325.3,302.1L326.8,300.5L328.3,298.9L329.8,297.4L331.3,295.8L332.8,294.2L334.4,292.6L335.9,290.9L337.4,289.3L338.9,287.7L340.4,286.1L341.9,284.6L343.4,283.0L344.9,281.4L346.4,279.7L347.9,278.1L349.4,276.4L350.9,274.7L352.4,273.0L353.9,271.2L355.4,269.4L356.9,267.5L358.4,265.6L359.9,263.7L361.5,261.8L363.0,259.8L364.5,257.8L366.0,255.7L367.5,253.7L369.0,251.7L370.5,249.6L372.0,247.5L373.5,245.5L375.0,243.4L376.5,241.3L378.0,239.1L379.5,237.0L381.0,234.9L382.5,232.7L384.0,230.5L385.5,228.4L387.0,226.2L388.6,224.0L390.1,221.9L391.6,219.7L393.1,217.5L394.6,215.3L396.1,213.2L397.6,211.0L399.1,208.8L400.6,206.6L402.1,204.5L403.6,202.3L405.1,200.1L406.6,197.9L408.1,195.6L409.6,193.4L411.1,191.1L412.6,188.8L414.1,186.5L415.7,184.1L417.2,181.8L418.7,179.4L420.2,177.1L421.7,174.7L423.2,172.4L424.7,170.1L426.2,167.8L427.7,165.6L429.2,163.3L430.7,161.0L432.2,158.8L433.7,156.5L435.2,154.3L436.7,152.1L438.2,149.9L439.7,147.7L441.2,145.6L442.8,143.5L444.3,141.5L445.8,139.5L447.3,137.5L448.8,135.6L450.3,133.7L451.8,131.8L453.3,129.9L454.8,128.0L456.3,126.2L457.8,124.3L459.3,122.5L460.8,120.7L462.3,118.9L463.8,117.1L465.3,115.4L466.8,113.6L468.3,111.9L469.8,110.3L471.4,108.6L472.9,107.0L474.4,105.4L475.9,103.9L477.4,102.4L478.9,100.9L480.4,99.5L481.9,98.1L483.4,96.7L484.9,95.4L486.4,94.1L487.9,92.8L489.4,91.5L490.9,90.2L492.4,89.0L493.9,87.8L495.4,86.6L496.9,85.4L498.5,84.2L500.0,83.1L501.5,82.0L503.0,80.9L504.5,79.8L506.0,78.7L507.5,77.7L509.0,76.7L510.5,75.7L512.0,74.7L513.5,73.7L515.0,72.8L516.5,71.9L518.0,71.0L519.5,70.1L521.0,69.3L522.5,68.4L524.0,67.6L525.6,66.9L527.1,66.1L528.6,65.4L530.1,64.6L531.6,63.9L533.1,63.2L534.6,62.6L536.1,61.9L537.6,61.3L539.1,60.6L540.6,60.0L542.1,59.4L543.6,58.7L545.1,58.1L546.6,57.5L548.1,56.9L549.6,56.3L551.1,55.7L552.7,55.1L554.2,54.5L555.7,53.8L557.2,53.2L558.7,52.6L560.2,51.9L561.7,51.3L563.2,50.7L564.7,50.0L566.2,49.4L567.7,48.8L567.7,50.2L567.7,50.6L567.6,51.0L567.6,51.3L567.6,51.7L567.6,52.0L567.6,52.4L567.5,52.9L567.5,53.4L567.5,54.0L567.4,54.7L567.4,55.5L567.3,56.4L567.3,57.3L567.2,58.5L567.1,59.7L567.0,61.1L566.9,62.7L566.7,64.5L566.5,66.4L566.3,68.6L566.2,69.6L566.1,70.9L565.8,73.5L565.4,76.3L565.0,79.2L564.7,81.3L564.5,82.3L564.0,85.6L563.3,89.0L563.2,89.5L562.5,92.5L561.7,95.7L561.6,96.1L560.5,99.7L560.2,100.7L559.2,103.5L558.7,104.9L557.7,107.4L557.2,108.6L555.9,111.4L555.7,112.0L554.2,115.0L553.8,115.7L552.7,117.9L551.3,120.3L551.1,120.6L549.6,123.2L548.4,125.2L548.1,125.7L546.6,128.0L545.1,130.3L543.6,132.5L542.1,134.6L540.6,136.7L539.1,138.6L537.6,140.6L536.1,142.5L534.6,144.3L533.1,146.1L531.6,147.9L530.1,149.6L528.6,151.3L527.1,152.9L525.6,154.5L524.0,156.1L522.5,157.7L521.0,159.2L519.5,160.7L518.0,162.2L516.5,163.7L515.0,165.1L513.5,166.5L512.0,167.9L510.5,169.3L509.0,170.7L507.5,172.1L506.0,173.4L504.5,174.7L503.0,176.0L501.5,177.3L500.0,178.6L498.5,179.9L496.9,181.2L495.4,182.4L493.9,183.7L492.4,184.9L490.9,186.1L489.4,187.3L487.9,188.5L486.4,189.7L484.9,190.9L483.4,192.0L481.9,193.2L480.4,194.4L478.9,195.5L477.4,196.6L475.9,197.8L474.4,198.9L472.9,200.0L471.4,201.1L469.8,202.2L468.3,203.3L466.8,204.4L465.3,205.5L463.8,206.6L462.3,207.7L460.8,208.7L459.3,209.8L457.8,210.9L456.3,212.0L454.8,213.0L453.3,214.1L451.8,215.1L450.3,216.2L448.8,217.3L447.3,218.4L445.8,219.4L444.3,220.5L442.8,221.6L441.2,222.7L439.7,223.8L438.2,225.0L436.7,226.1L435.2,227.3L433.7,228.5L432.2,229.7L430.7,230.9L429.2,232.2L427.7,233.5L426.2,234.8L424.7,236.2L423.2,237.6L421.7,239.0L420.2,240.5L418.7,242.1L417.2,243.7L415.7,245.3L414.1,247.1L412.6,248.8L411.1,250.6L409.6,252.5L408.1,254.4L406.6,256.4L405.1,258.4L403.6,260.5L402.1,262.6L400.6,264.7L399.1,266.9L397.6,269.0L396.1,271.2L394.6,273.3L393.1,275.5L391.6,277.6L390.1,279.7L388.6,281.9L387.0,284.0L385.5,286.1L384.0,288.1L382.5,290.2L381.0,292.3L379.5,294.3L378.0,296.3L376.5,298.4L375.0,300.4L373.5,302.4L372.0,304.3L370.5,306.2L369.0,308.2L367.5,310.0L366.0,311.9L364.5,313.8L363.0,315.6L361.5,317.5L359.9,319.3L358.4,321.1L356.9,322.9L355.4,324.8L353.9,326.6L352.4,328.4L350.9,330.2L349.4,332.0L347.9,333.8L346.4,335.6L344.9,337.3L343.4,339.1L341.9,340.9L340.4,342.6L338.9,344.4L337.4,346.1L335.9,347.9L334.4,349.6L332.8,351.3L331.3,353.0L329.8,354.7L328.3,356.3L326.8,358.0L325.3,359.7L323.8,361.3L322.3,363.0L320.8,364.7L319.3,366.3L317.8,368.0L316.3,369.7L314.8,371.4L313.3,373.1L311.8,374.8L310.3,376.5L308.8,378.2L307.3,380.0L305.7,381.7L304.2,383.4L302.7,385.2L301.2,387.0L299.7,388.7L298.2,390.5L296.7,392.4L295.2,394.3L293.7,396.2L292.2,398.1L290.7,400.0L289.2,402.0L287.7,403.9L286.2,405.9L284.7,407.9L283.2,409.8L281.7,411.7L280.2,413.6L278.6,415.4L277.1,417.3L275.6,419.1L274.1,420.9L272.6,422.6L271.1,424.4L269.6,426.1L268.1,427.9L266.6,429.6L265.1,431.2L263.6,432.9L262.1,434.5L260.6,436.1L259.1,437.6L257.6,439.2L256.1,440.7L254.6,442.2L253.1,443.7L251.5,445.2L250.0,446.7L248.5,448.2L247.0,449.7L245.5,451.1L244.0,452.5L242.5,453.9L241.0,455.4L239.5,456.7L238.0,458.1L236.5,459.5L235.0,460.8L233.5,462.1L232.0,463.5L230.5,464.8L229.0,466.0L227.5,467.3L226.0,468.5L224.4,469.8L222.9,471.0L221.4,472.2L219.9,473.4L218.4,474.5L216.9,475.7L215.4,476.8L213.9,477.9L212.4,479.0L210.9,480.1L209.4,481.2L207.9,482.3L206.4,483.3L204.9,484.4L203.4,485.4L201.9,486.4L200.4,487.5L198.9,488.5L197.3,489.5L195.8,490.5L194.3,491.4L192.8,492.4L191.3,493.4L189.8,494.4L188.3,495.3L186.8,496.3L185.3,497.2L183.8,498.2L182.3,499.1L180.8,500.1L179.3,501.0L177.8,502.0L176.3,502.9L174.8,503.8L173.3,504.8L171.8,505.7L170.2,506.6L168.7,507.5L167.2,508.4L165.7,509.3L164.2,510.2L162.7,511.0L161.2,511.9L159.7,512.7L158.2,513.6L156.7,514.4L155.2,515.2L153.7,516.0L152.2,516.8L150.7,517.6L149.2,518.4L147.7,519.1L146.2,519.8L144.7,520.5L143.1,521.2L141.6,521.9L140.1,522.6L138.6,523.2L137.1,523.9L135.6,524.5L134.1,525.2L132.6,525.8L131.1,526.4L129.6,527.0L128.1,527.6L126.6,528.2L125.1,528.8L123.6,529.4L122.1,530.0L120.6,530.6L119.1,531.1L117.6,531.7M40.7,559.9L40.7,556.3L40.7,555.9L40.8,555.5L40.8,555.1L40.8,554.6L40.8,554.0L40.8,553.4L40.8,552.7L40.8,551.9L40.9,551.1L40.9,550.1L40.9,549.1L41.0,547.9L41.0,546.6L41.1,545.1L41.1,543.5L41.2,541.8L41.3,539.9L41.4,537.8L41.6,535.6L41.7,533.3L41.9,530.8L42.1,528.2L42.3,525.5L42.6,522.8L42.7,522.1L43.0,520.1L43.4,517.3L43.9,514.5L44.4,511.7L44.7,510.3L45.1,508.9L45.9,505.9L46.8,502.9L47.9,499.4L48.8,496.9L49.2,495.8L50.7,492.0L50.8,491.7L52.5,487.9L52.8,487.1L54.6,483.4L54.9,482.9L56.9,479.0L57.1,478.7L58.9,475.4L60.0,473.6L60.9,472.1L63.0,468.9L63.4,468.3L65.0,466.0L67.0,463.2L69.0,460.5L71.1,458.0L73.1,455.6L75.1,453.3L77.1,451.0L79.2,448.9L81.2,446.8L83.2,444.8L85.2,442.8L87.3,440.9L89.3,439.1L91.3,437.3L93.3,435.5L95.4,433.8L97.4,432.1L99.4,430.5L101.4,428.9L103.5,427.3L105.5,425.7L107.5,424.2L109.5,422.7L111.6,421.2L113.6,419.8L115.6,418.4L117.6,417.0L119.7,415.6L121.7,414.2L123.7,412.9L125.7,411.6L127.8,410.3L129.8,409.0L131.8,407.7L133.8,406.4L135.9,405.2L137.9,404.0L139.9,402.7L141.9,401.5L144.0,400.3L146.0,399.2L148.0,398.0L150.0,396.8L152.1,395.7L154.1,394.5L156.1,393.4L158.1,392.3L160.2,391.2L162.2,390.1L164.2,389.0L166.2,387.9L168.3,386.9L170.3,385.8L172.3,384.7L174.3,383.7L176.4,382.6L178.4,381.6L180.4,380.6L182.4,379.5L184.5,378.5L186.5,377.5L188.5,376.5L190.5,375.5L192.6,374.5L194.6,373.5L196.6,372.5L198.6,371.5L200.6,370.6L202.7,369.6L204.7,368.6L206.7,367.6L208.7,366.7L210.8,365.7L212.8,364.7L214.8,363.7L216.8,362.8L218.9,361.8L220.9,360.8L222.9,359.8L224.9,358.8L227.0,357.8L229.0,356.8L231.0,355.8L233.0,354.8L235.1,353.8L237.1,352.8L239.1,351.7L241.1,350.7L243.2,349.6L245.2,348.5L247.2,347.4L249.2,346.3L251.3,345.1L253.3,343.9L255.3,342.6L257.3,341.3L259.4,340.0L261.4,338.6L263.4,337.2L265.4,335.8L267.5,334.3L269.5,332.8L271.5,331.3L273.5,329.7L275.6,328.1L277.6,326.4L279.6,324.7L281.6,323.0L283.7,321.2L285.7,319.4L287.7,317.6L289.7,315.8L291.8,313.9L293.8,312.0L295.8,310.1L297.8,308.1L299.9,306.2L301.9,304.2L303.9,302.3L305.9,300.4L308.0,298.5L310.0,296.6L312.0,294.7L314.0,292.9L316.1,291.2L318.1,289.4L320.1,287.6L322.1,285.9L324.2,284.1L326.2,282.3L328.2,280.5L330.2,278.7L332.3,276.9L334.3,275.1L336.3,273.3L338.3,271.4L340.4,269.6L342.4,267.7L344.4,265.8L346.4,263.8L348.5,261.7L350.5,259.6L352.5,257.5L354.5,255.2L356.5,252.9L358.6,250.6L360.6,248.2L362.6,245.8L364.6,243.4L366.7,240.9L368.7,238.4L370.7,235.9L372.7,233.3L374.8,230.7L376.8,228.1L378.8,225.4L380.8,222.7L382.9,220.0L384.9,217.3L386.9,214.6L388.9,211.8L391.0,209.1L393.0,206.3L395.0,203.5L397.0,200.7L399.1,197.9L401.1,195.0L403.1,192.1L405.1,189.2L407.2,186.2L409.2,183.2L411.2,180.1L413.2,177.1L415.3,174.0L417.3,170.9L419.3,167.9L421.3,165.0L423.4,162.0L425.4,159.1L427.4,156.1L429.4,153.1L431.5,150.2L433.5,147.3L435.5,144.5L437.5,141.8L439.6,139.1L441.6,136.6L443.6,134.0L445.6,131.5L447.7,129.0L449.7,126.5L451.7,124.0L453.7,121.6L455.8,119.2L457.8,116.8L459.8,114.5L461.8,112.2L463.9,110.0L465.9,107.8L467.9,105.6L469.9,103.6L472.0,101.6L474.0,99.6L476.0,97.7L478.0,95.9L480.1,94.1L482.1,92.4L484.1,90.7L486.1,89.1L488.2,87.4L490.2,85.8L492.2,84.3L494.2,82.7L496.3,81.2L498.3,79.8L500.3,78.4L502.3,77.0L504.4,75.6L506.4,74.3L508.4,73.0L510.4,71.8L512.5,70.6L514.5,69.4L516.5,68.3L518.5,67.3L520.5,66.2L522.6,65.2L524.6,64.3L526.6,63.3L528.6,62.4L530.7,61.5L532.7,60.7L534.7,59.8L536.7,59.0L538.8,58.1L540.8,57.3L542.8,56.5L544.8,55.7L546.9,54.9L548.9,54.0L550.9,53.2L552.9,52.4L555.0,51.5L557.0,50.6L559.0,49.8L561.0,48.9L563.1,48.1L565.1,47.2L567.1,46.4L569.1,45.6L571.2,44.7L573.2,43.9L575.2,43.1L577.2,42.3L579.3,41.4L581.3,40.6L583.3,39.8L585.3,38.9L587.4,38.1L589.4,37.3L591.4,36.5L593.4,35.6L595.5,34.8L597.5,33.9L599.5,33.1L601.5,32.3L603.6,31.4L605.6,30.6L607.6,29.7L609.6,28.9L611.7,28.1L613.7,27.2L615.7,26.4L617.7,25.5L619.8,24.7L621.8,23.9L623.8,23.1L625.8,22.3L627.9,21.5L629.9,20.7L631.9,19.9L633.9,19.1L636.0,18.3L638.0,17.5L640.0,16.7L642.0,15.9L644.1,15.1L646.1,14.4L646.0,16.0L646.0,16.3L646.0,16.8L646.0,17.1L646.0,17.5L646.0,17.8L645.9,18.3L645.9,18.8L645.9,19.3L645.8,19.9L645.8,20.7L645.8,21.5L645.7,22.4L645.6,23.4L645.6,24.6L645.5,25.9L645.4,27.4L645.2,29.0L645.1,30.9L644.9,32.9L644.7,35.2L644.4,37.6L644.1,40.3L644.1,41.1L643.8,43.2L643.4,46.3L642.9,49.6L642.3,53.0L642.0,54.8L641.7,56.6L640.9,60.3L640.0,63.9L638.9,67.9L638.0,70.7L637.6,71.9L636.1,76.0L636.0,76.3L634.3,80.3L633.9,81.1L632.2,84.8L631.9,85.4L629.9,89.3L629.7,89.6L627.9,93.0L626.8,94.8L625.8,96.4L623.8,99.7L623.4,100.4L621.8,102.8L619.8,105.8L617.7,108.6L615.7,111.3L613.7,114.0L611.7,116.5L609.6,119.0L607.6,121.4L605.6,123.7L603.6,126.0L601.5,128.2L599.5,130.3L597.5,132.5L595.5,134.5L593.4,136.6L591.4,138.6L589.4,140.5L587.4,142.5L585.3,144.4L583.3,146.2L581.3,148.1L579.3,149.9L577.2,151.7L575.2,153.4L573.2,155.2L571.2,156.9L569.1,158.6L567.1,160.3L565.1,162.0L563.1,163.6L561.0,165.3L559.0,166.9L557.0,168.5L555.0,170.1L552.9,171.6L550.9,173.2L548.9,174.7L546.9,176.3L544.8,177.8L542.8,179.3L540.8,180.8L538.8,182.2L536.7,183.7L534.7,185.2L532.7,186.6L530.7,188.1L528.6,189.5L526.6,190.9L524.6,192.3L522.6,193.7L520.5,195.1L518.5,196.5L516.5,197.9L514.5,199.2L512.5,200.6L510.4,201.9L508.4,203.3L506.4,204.6L504.4,205.9L502.3,207.3L500.3,208.6L498.3,209.9L496.3,211.2L494.2,212.5L492.2,213.8L490.2,215.1L488.2,216.3L486.1,217.6L484.1,218.9L482.1,220.1L480.1,221.4L478.0,222.7L476.0,223.9L474.0,225.2L472.0,226.4L469.9,227.7L467.9,228.9L465.9,230.2L463.9,231.4L461.8,232.7L459.8,233.9L457.8,235.2L455.8,236.5L453.7,237.7L451.7,239.0L449.7,240.3L447.7,241.6L445.6,242.9L443.6,244.2L441.6,245.6L439.6,247.0L437.5,248.4L435.5,249.9L433.5,251.3L431.5,252.8L429.4,254.4L427.4,255.9L425.4,257.5L423.4,259.2L421.3,260.9L419.3,262.6L417.3,264.4L415.3,266.2L413.2,268.1L411.2,270.0L409.2,272.0L407.2,274.0L405.1,276.1L403.1,278.2L401.1,280.4L399.1,282.6L397.0,284.8L395.0,287.1L393.0,289.4L391.0,291.7L388.9,294.0L386.9,296.2L384.9,298.5L382.9,300.8L380.8,303.0L378.8,305.3L376.8,307.5L374.8,309.7L372.7,312.0L370.7,314.2L368.7,316.4L366.7,318.6L364.6,320.7L362.6,322.8L360.6,325.0L358.6,327.1L356.5,329.1L354.5,331.2L352.5,333.3L350.5,335.4L348.5,337.6L346.4,339.7L344.4,341.7L342.4,343.8L340.4,345.9L338.3,348.0L336.3,350.1L334.3,352.1L332.3,354.2L330.2,356.3L328.2,358.3L326.2,360.3L324.2,362.3L322.1,364.3L320.1,366.3L318.1,368.4L316.1,370.4L314.0,372.4L312.0,374.5L310.0,376.5L308.0,378.6L305.9,380.7L303.9,382.8L301.9,384.9L299.9,387.1L297.8,389.3L295.8,391.5L293.8,393.7L291.8,396.0L289.7,398.3L287.7,400.7L285.7,403.2L283.7,405.7L281.6,408.2L279.6,410.7L277.6,413.2L275.6,415.6L273.5,418.0L271.5,420.3L269.5,422.6L267.5,424.9L265.4,427.2L263.4,429.4L261.4,431.7L259.4,433.8L257.3,435.9L255.3,438.0L253.3,440.0L251.3,442.0L249.2,444.0L247.2,446.0L245.2,447.9L243.2,449.9L241.1,451.8L239.1,453.7L237.1,455.5L235.1,457.4L233.0,459.2L231.0,461.0L229.0,462.8L227.0,464.5L224.9,466.2L222.9,467.9L220.9,469.5L218.9,471.2L216.8,472.8L214.8,474.3L212.8,475.9L210.8,477.4L208.7,478.9L206.7,480.4L204.7,481.8L202.7,483.2L200.6,484.6L198.6,486.0L196.6,487.4L194.6,488.7L192.6,490.1L190.5,491.4L188.5,492.7L186.5,494.0L184.5,495.3L182.4,496.6L180.4,497.9L178.4,499.1L176.4,500.4L174.3,501.6L172.3,502.9L170.3,504.1L168.3,505.4L166.2,506.6L164.2,507.8L162.2,509.0L160.2,510.2L158.1,511.4L156.1,512.5L154.1,513.7L152.1,514.8L150.0,515.9L148.0,517.0L146.0,518.0L144.0,519.0L141.9,520.0L139.9,521.0L137.9,522.0L135.9,522.9L133.8,523.8L131.8,524.6L129.8,525.5L127.8,526.3L125.7,527.2L123.7,528.0L121.7,528.8L119.7,529.6L117.6,530.4L115.6,531.2L113.6,531.9L111.6,532.7L109.5,533.5L107.5,534.3L105.5,535.1L103.5,535.9L101.4,536.7L99.4,537.5L97.4,538.3L95.4,539.1L93.3,539.9L91.3,540.6L89.3,541.4L87.3,542.2L85.2,543.0L83.2,543.7L81.2,544.5L79.2,545.3L77.1,546.1L75.1,546.9L73.1,547.6L71.1,548.4L69.0,549.2L67.0,550.0L65.0,550.8L63.0,551.6L60.9,552.5L58.9,553.3L56.9,554.1L54.9,554.9L52.8,555.7L50.8,556.6L48.8,557.4L46.8,558.2L44.7,559.1L42.7,559.9L40.7,560.8L40.7,559.9M343.6,283L343.6,270" fill="none" stroke="#ff00ff" stroke-width="2.6" stroke-linejoin="round" stroke-dasharray="6 7"/>
<rect x="13.3" y="10.1" width="161.1" height="180.7" fill="#fff" stroke="#999" stroke-width="1.5"/>
<line x1="27.5" y1="26.40" x2="70.5" y2="26.40" stroke="#ff0000" stroke-width="2.8" />
<g font-family="Liberation Serif" fill="#1e1e1e"><text transform="translate(73.80,36.40) scale(1,1.075)" font-size="26" text-anchor="start">0N·m</text></g>
<line x1="27.5" y1="56.22" x2="70.5" y2="56.22" stroke="#f07040" stroke-width="2.8" stroke-dasharray="11.5 8"/>
<g font-family="Liberation Serif" fill="#1e1e1e"><text transform="translate(73.80,66.22) scale(1,1.075)" font-size="26" text-anchor="start">28N·m</text></g>
<line x1="27.5" y1="86.04" x2="70.5" y2="86.04" stroke="#ffff00" stroke-width="2.8" stroke-dasharray="2.5 2.5"/>
<g font-family="Liberation Serif" fill="#1e1e1e"><text transform="translate(73.80,96.04) scale(1,1.075)" font-size="26" text-anchor="start">56N·m</text></g>
<line x1="27.5" y1="115.86" x2="70.5" y2="115.86" stroke="#00ee00" stroke-width="2.8" stroke-dasharray="6 2 2 2"/>
<g font-family="Liberation Serif" fill="#1e1e1e"><text transform="translate(73.80,125.86) scale(1,1.075)" font-size="26" text-anchor="start">84N·m</text></g>
<line x1="27.5" y1="145.68" x2="70.5" y2="145.68" stroke="#0000ff" stroke-width="2.8" />
<g font-family="Liberation Serif" fill="#1e1e1e"><text transform="translate(73.80,155.68) scale(1,1.075)" font-size="26" text-anchor="start">140N·m</text></g>
<line x1="27.5" y1="175.50" x2="70.5" y2="175.50" stroke="#ff00ff" stroke-width="2.8" stroke-dasharray="11.5 8"/>
<g font-family="Liberation Serif" fill="#1e1e1e"><text transform="translate(73.80,185.50) scale(1,1.075)" font-size="26" text-anchor="start">168N·m</text></g>
</svg></body></html>
